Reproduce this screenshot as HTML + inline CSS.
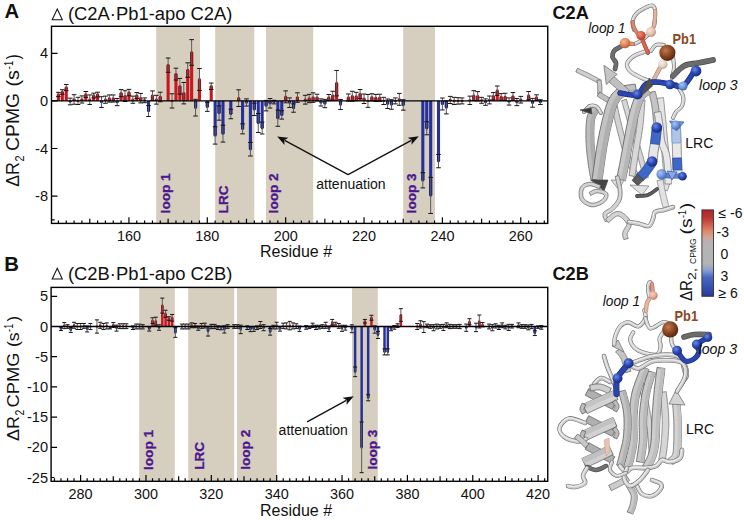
<!DOCTYPE html>
<html><head><meta charset="utf-8"><style>
html,body{margin:0;padding:0;background:#fff;}
body{width:744px;height:520px;overflow:hidden;position:relative;font-family:"Liberation Sans",sans-serif;}
text{font-family:"Liberation Sans",sans-serif;}
</style></head><body>
<svg width="744" height="520" viewBox="0 0 744 520" style="position:absolute;left:0;top:0">
<rect x="156.2" y="26.3" width="43.8" height="197.1" fill="#d6cebe"/>
<rect x="215.2" y="26.3" width="39.1" height="197.1" fill="#d6cebe"/>
<rect x="266" y="26.3" width="47.2" height="197.1" fill="#d6cebe"/>
<rect x="403.2" y="26.3" width="31.8" height="197.1" fill="#d6cebe"/>
<rect x="139.2" y="287.4" width="35.6" height="193.9" fill="#d6cebe"/>
<rect x="188.2" y="287.4" width="46" height="193.9" fill="#d6cebe"/>
<rect x="237" y="287.4" width="39.8" height="193.9" fill="#d6cebe"/>
<rect x="352" y="287.4" width="25.8" height="193.9" fill="#d6cebe"/>
<rect x="56.85" y="94.47" width="3.1" height="6.43" fill="#c9171f"/>
<rect x="56.85" y="94.47" width="3.1" height="2.14" fill="#9a1018"/>
<rect x="57.15" y="93.47" width="2.5" height="2.0" fill="#9a1018"/>
<rect x="60.77" y="91.98" width="3.1" height="8.92" fill="#c9171f"/>
<rect x="60.77" y="91.98" width="3.1" height="2.26" fill="#9a1018"/>
<rect x="61.07" y="90.98" width="2.5" height="2.0" fill="#9a1018"/>
<rect x="64.69" y="87.57" width="3.1" height="13.33" fill="#c9171f"/>
<rect x="64.69" y="87.57" width="3.1" height="3.09" fill="#9a1018"/>
<rect x="64.99" y="86.57" width="2.5" height="2.0" fill="#9a1018"/>
<rect x="68.61" y="101.2" width="3.1" height="0.6" fill="#27309a"/>
<rect x="68.61" y="100.9" width="3.1" height="0.59" fill="#1d2578"/>
<rect x="68.91" y="100.5" width="2.5" height="2.0" fill="#1d2578"/>
<rect x="72.53" y="99.47" width="3.1" height="1.43" fill="#c9171f"/>
<rect x="72.53" y="99.47" width="3.1" height="1.43" fill="#9a1018"/>
<rect x="72.83" y="98.47" width="2.5" height="2.0" fill="#9a1018"/>
<rect x="76.44" y="100.6" width="3.1" height="0.6" fill="#c9171f"/>
<rect x="76.74" y="99.9" width="2.5" height="2.0" fill="#9a1018"/>
<rect x="80.36" y="99.47" width="3.1" height="1.43" fill="#c9171f"/>
<rect x="80.36" y="99.47" width="3.1" height="1.43" fill="#9a1018"/>
<rect x="80.66" y="98.47" width="2.5" height="2.0" fill="#9a1018"/>
<rect x="84.28" y="94.47" width="3.1" height="6.43" fill="#c9171f"/>
<rect x="84.28" y="94.47" width="3.1" height="2.98" fill="#9a1018"/>
<rect x="84.58" y="93.47" width="2.5" height="2.0" fill="#9a1018"/>
<rect x="88.2" y="99.71" width="3.1" height="1.19" fill="#c9171f"/>
<rect x="88.2" y="99.71" width="3.1" height="1.19" fill="#9a1018"/>
<rect x="88.5" y="98.71" width="2.5" height="2.0" fill="#9a1018"/>
<rect x="92.12" y="95.55" width="3.1" height="5.36" fill="#c9171f"/>
<rect x="92.12" y="95.55" width="3.1" height="2.38" fill="#9a1018"/>
<rect x="92.42" y="94.55" width="2.5" height="2.0" fill="#9a1018"/>
<rect x="96.04" y="94.59" width="3.1" height="6.31" fill="#c9171f"/>
<rect x="96.04" y="94.59" width="3.1" height="2.38" fill="#9a1018"/>
<rect x="96.34" y="93.59" width="2.5" height="2.0" fill="#9a1018"/>
<rect x="99.96" y="100.9" width="3.1" height="1.19" fill="#27309a"/>
<rect x="99.96" y="100.9" width="3.1" height="1.19" fill="#1d2578"/>
<rect x="100.26" y="101.09" width="2.5" height="2.0" fill="#1d2578"/>
<rect x="103.87" y="99.71" width="3.1" height="1.19" fill="#c9171f"/>
<rect x="103.87" y="99.71" width="3.1" height="1.19" fill="#9a1018"/>
<rect x="104.17" y="98.71" width="2.5" height="2.0" fill="#9a1018"/>
<rect x="107.79" y="98.52" width="3.1" height="2.38" fill="#c9171f"/>
<rect x="107.79" y="98.52" width="3.1" height="2.38" fill="#9a1018"/>
<rect x="108.09" y="97.52" width="2.5" height="2.0" fill="#9a1018"/>
<rect x="111.71" y="98.52" width="3.1" height="2.38" fill="#c9171f"/>
<rect x="111.71" y="98.52" width="3.1" height="2.38" fill="#9a1018"/>
<rect x="112.01" y="97.52" width="2.5" height="2.0" fill="#9a1018"/>
<rect x="115.63" y="100.9" width="3.1" height="1.19" fill="#27309a"/>
<rect x="115.63" y="100.9" width="3.1" height="1.19" fill="#1d2578"/>
<rect x="115.93" y="101.09" width="2.5" height="2.0" fill="#1d2578"/>
<rect x="119.55" y="93.17" width="3.1" height="7.73" fill="#c9171f"/>
<rect x="119.55" y="93.17" width="3.1" height="3.57" fill="#9a1018"/>
<rect x="119.85" y="92.17" width="2.5" height="2.0" fill="#9a1018"/>
<rect x="123.47" y="96.14" width="3.1" height="4.76" fill="#c9171f"/>
<rect x="123.47" y="96.14" width="3.1" height="4.76" fill="#9a1018"/>
<rect x="123.77" y="95.14" width="2.5" height="2.0" fill="#9a1018"/>
<rect x="127.39" y="92.57" width="3.1" height="8.33" fill="#c9171f"/>
<rect x="127.39" y="92.57" width="3.1" height="3.21" fill="#9a1018"/>
<rect x="127.69" y="91.57" width="2.5" height="2.0" fill="#9a1018"/>
<rect x="131.3" y="99.71" width="3.1" height="1.19" fill="#c9171f"/>
<rect x="131.3" y="99.71" width="3.1" height="1.19" fill="#9a1018"/>
<rect x="131.6" y="98.71" width="2.5" height="2.0" fill="#9a1018"/>
<rect x="135.22" y="95.55" width="3.1" height="5.36" fill="#c9171f"/>
<rect x="135.22" y="95.55" width="3.1" height="2.98" fill="#9a1018"/>
<rect x="135.52" y="94.55" width="2.5" height="2.0" fill="#9a1018"/>
<rect x="139.14" y="98.16" width="3.1" height="2.74" fill="#c9171f"/>
<rect x="139.14" y="98.16" width="3.1" height="2.74" fill="#9a1018"/>
<rect x="139.44" y="97.16" width="2.5" height="2.0" fill="#9a1018"/>
<rect x="143.06" y="100.01" width="3.1" height="0.6" fill="#c9171f"/>
<rect x="143.06" y="100.31" width="3.1" height="0.59" fill="#9a1018"/>
<rect x="143.36" y="99.31" width="2.5" height="2.0" fill="#9a1018"/>
<rect x="146.98" y="100.9" width="3.1" height="10.11" fill="#27309a"/>
<rect x="146.98" y="105.54" width="3.1" height="5.47" fill="#1d2578"/>
<rect x="147.28" y="110.02" width="2.5" height="2.0" fill="#1d2578"/>
<rect x="150.9" y="95.66" width="3.1" height="5.24" fill="#c9171f"/>
<rect x="150.9" y="95.66" width="3.1" height="4.76" fill="#9a1018"/>
<rect x="151.2" y="94.66" width="2.5" height="2.0" fill="#9a1018"/>
<rect x="154.81" y="99.71" width="3.1" height="1.19" fill="#c9171f"/>
<rect x="154.81" y="99.71" width="3.1" height="1.19" fill="#9a1018"/>
<rect x="155.11" y="98.71" width="2.5" height="2.0" fill="#9a1018"/>
<rect x="158.73" y="96.97" width="3.1" height="3.93" fill="#c9171f"/>
<rect x="158.73" y="96.97" width="3.1" height="3.93" fill="#9a1018"/>
<rect x="159.03" y="95.97" width="2.5" height="2.0" fill="#9a1018"/>
<rect x="166.57" y="65.2" width="3.1" height="35.7" fill="#c9171f"/>
<rect x="166.57" y="65.2" width="3.1" height="7.14" fill="#9a1018"/>
<rect x="166.87" y="64.2" width="2.5" height="2.0" fill="#9a1018"/>
<rect x="170.49" y="100.6" width="3.1" height="0.6" fill="#c9171f"/>
<rect x="170.79" y="99.9" width="2.5" height="2.0" fill="#9a1018"/>
<rect x="174.41" y="74.12" width="3.1" height="26.78" fill="#c9171f"/>
<rect x="174.41" y="74.12" width="3.1" height="5.95" fill="#9a1018"/>
<rect x="174.71" y="73.12" width="2.5" height="2.0" fill="#9a1018"/>
<rect x="178.33" y="86.26" width="3.1" height="14.64" fill="#c9171f"/>
<rect x="178.33" y="86.26" width="3.1" height="7.85" fill="#9a1018"/>
<rect x="178.63" y="85.26" width="2.5" height="2.0" fill="#9a1018"/>
<rect x="182.24" y="93.17" width="3.1" height="7.73" fill="#c9171f"/>
<rect x="182.24" y="93.17" width="3.1" height="7.73" fill="#9a1018"/>
<rect x="182.54" y="92.17" width="2.5" height="2.0" fill="#9a1018"/>
<rect x="186.16" y="70.08" width="3.1" height="30.82" fill="#c9171f"/>
<rect x="186.16" y="70.08" width="3.1" height="7.26" fill="#9a1018"/>
<rect x="186.46" y="69.08" width="2.5" height="2.0" fill="#9a1018"/>
<rect x="190.08" y="52.47" width="3.1" height="48.43" fill="#c9171f"/>
<rect x="190.08" y="52.47" width="3.1" height="12.85" fill="#9a1018"/>
<rect x="190.38" y="51.47" width="2.5" height="2.0" fill="#9a1018"/>
<rect x="194" y="100.9" width="3.1" height="6.78" fill="#27309a"/>
<rect x="194" y="100.9" width="3.1" height="6.78" fill="#1d2578"/>
<rect x="194.3" y="106.68" width="2.5" height="2.0" fill="#1d2578"/>
<rect x="197.92" y="79.48" width="3.1" height="21.42" fill="#c9171f"/>
<rect x="197.92" y="79.48" width="3.1" height="10.95" fill="#9a1018"/>
<rect x="198.22" y="78.48" width="2.5" height="2.0" fill="#9a1018"/>
<rect x="205.75" y="100.9" width="3.1" height="5.95" fill="#27309a"/>
<rect x="205.75" y="102.33" width="3.1" height="4.52" fill="#1d2578"/>
<rect x="206.06" y="105.85" width="2.5" height="2.0" fill="#1d2578"/>
<rect x="209.67" y="86.26" width="3.1" height="14.64" fill="#c9171f"/>
<rect x="209.67" y="86.26" width="3.1" height="3.21" fill="#9a1018"/>
<rect x="209.97" y="85.26" width="2.5" height="2.0" fill="#9a1018"/>
<rect x="213.59" y="100.9" width="3.1" height="34.51" fill="#27309a"/>
<rect x="213.59" y="126.72" width="3.1" height="8.69" fill="#1d2578"/>
<rect x="213.89" y="134.41" width="2.5" height="2.0" fill="#1d2578"/>
<rect x="217.51" y="100.9" width="3.1" height="12.14" fill="#27309a"/>
<rect x="217.51" y="105.9" width="3.1" height="7.14" fill="#1d2578"/>
<rect x="217.81" y="112.04" width="2.5" height="2.0" fill="#1d2578"/>
<rect x="221.43" y="100.9" width="3.1" height="32.72" fill="#27309a"/>
<rect x="221.43" y="125.18" width="3.1" height="8.45" fill="#1d2578"/>
<rect x="221.73" y="132.62" width="2.5" height="2.0" fill="#1d2578"/>
<rect x="229.27" y="100.9" width="3.1" height="13.09" fill="#27309a"/>
<rect x="229.27" y="109.23" width="3.1" height="4.76" fill="#1d2578"/>
<rect x="229.57" y="112.99" width="2.5" height="2.0" fill="#1d2578"/>
<rect x="237.1" y="98.16" width="3.1" height="2.74" fill="#c9171f"/>
<rect x="237.1" y="98.16" width="3.1" height="2.74" fill="#9a1018"/>
<rect x="237.4" y="97.16" width="2.5" height="2.0" fill="#9a1018"/>
<rect x="241.02" y="100.9" width="3.1" height="27.97" fill="#27309a"/>
<rect x="241.02" y="123.87" width="3.1" height="5" fill="#1d2578"/>
<rect x="241.32" y="127.87" width="2.5" height="2.0" fill="#1d2578"/>
<rect x="244.94" y="100.9" width="3.1" height="1.55" fill="#27309a"/>
<rect x="244.94" y="100.9" width="3.1" height="1.55" fill="#1d2578"/>
<rect x="245.24" y="101.45" width="2.5" height="2.0" fill="#1d2578"/>
<rect x="248.86" y="100.9" width="3.1" height="48.31" fill="#27309a"/>
<rect x="248.86" y="142.43" width="3.1" height="6.78" fill="#1d2578"/>
<rect x="249.16" y="148.21" width="2.5" height="2.0" fill="#1d2578"/>
<rect x="252.78" y="100.9" width="3.1" height="8.45" fill="#27309a"/>
<rect x="252.78" y="103.16" width="3.1" height="6.19" fill="#1d2578"/>
<rect x="253.08" y="108.35" width="2.5" height="2.0" fill="#1d2578"/>
<rect x="256.7" y="100.9" width="3.1" height="22.13" fill="#27309a"/>
<rect x="256.7" y="113.51" width="3.1" height="9.52" fill="#1d2578"/>
<rect x="257" y="122.03" width="2.5" height="2.0" fill="#1d2578"/>
<rect x="260.61" y="100.9" width="3.1" height="27.13" fill="#27309a"/>
<rect x="260.61" y="122.08" width="3.1" height="5.95" fill="#1d2578"/>
<rect x="260.91" y="127.03" width="2.5" height="2.0" fill="#1d2578"/>
<rect x="264.53" y="100.9" width="3.1" height="4.76" fill="#27309a"/>
<rect x="264.53" y="100.9" width="3.1" height="4.76" fill="#1d2578"/>
<rect x="264.83" y="104.66" width="2.5" height="2.0" fill="#1d2578"/>
<rect x="268.45" y="100.9" width="3.1" height="2.38" fill="#27309a"/>
<rect x="268.45" y="100.9" width="3.1" height="2.38" fill="#1d2578"/>
<rect x="268.75" y="102.28" width="2.5" height="2.0" fill="#1d2578"/>
<rect x="272.37" y="100.9" width="3.1" height="1.19" fill="#27309a"/>
<rect x="272.37" y="100.9" width="3.1" height="1.19" fill="#1d2578"/>
<rect x="272.67" y="101.09" width="2.5" height="2.0" fill="#1d2578"/>
<rect x="276.29" y="100.9" width="3.1" height="17.25" fill="#27309a"/>
<rect x="276.29" y="110.06" width="3.1" height="8.09" fill="#1d2578"/>
<rect x="276.59" y="117.16" width="2.5" height="2.0" fill="#1d2578"/>
<rect x="280.21" y="100.9" width="3.1" height="14.04" fill="#27309a"/>
<rect x="280.21" y="110.78" width="3.1" height="4.17" fill="#1d2578"/>
<rect x="280.51" y="113.94" width="2.5" height="2.0" fill="#1d2578"/>
<rect x="284.12" y="96.85" width="3.1" height="4.05" fill="#c9171f"/>
<rect x="284.12" y="96.85" width="3.1" height="4.05" fill="#9a1018"/>
<rect x="284.42" y="95.85" width="2.5" height="2.0" fill="#9a1018"/>
<rect x="288.04" y="100.9" width="3.1" height="1.78" fill="#27309a"/>
<rect x="288.04" y="100.9" width="3.1" height="1.78" fill="#1d2578"/>
<rect x="288.34" y="101.69" width="2.5" height="2.0" fill="#1d2578"/>
<rect x="291.96" y="100.9" width="3.1" height="7.14" fill="#27309a"/>
<rect x="291.96" y="103.88" width="3.1" height="4.17" fill="#1d2578"/>
<rect x="292.26" y="107.04" width="2.5" height="2.0" fill="#1d2578"/>
<rect x="295.88" y="97.57" width="3.1" height="3.33" fill="#c9171f"/>
<rect x="295.88" y="97.57" width="3.1" height="3.33" fill="#9a1018"/>
<rect x="296.18" y="96.57" width="2.5" height="2.0" fill="#9a1018"/>
<rect x="303.72" y="99.71" width="3.1" height="1.19" fill="#c9171f"/>
<rect x="303.72" y="99.71" width="3.1" height="1.19" fill="#9a1018"/>
<rect x="304.02" y="98.71" width="2.5" height="2.0" fill="#9a1018"/>
<rect x="307.64" y="98.52" width="3.1" height="2.38" fill="#c9171f"/>
<rect x="307.64" y="98.52" width="3.1" height="2.38" fill="#9a1018"/>
<rect x="307.94" y="97.52" width="2.5" height="2.0" fill="#9a1018"/>
<rect x="311.55" y="97.57" width="3.1" height="3.33" fill="#c9171f"/>
<rect x="311.55" y="97.57" width="3.1" height="3.33" fill="#9a1018"/>
<rect x="311.85" y="96.57" width="2.5" height="2.0" fill="#9a1018"/>
<rect x="315.47" y="97.57" width="3.1" height="3.33" fill="#c9171f"/>
<rect x="315.47" y="97.57" width="3.1" height="3.33" fill="#9a1018"/>
<rect x="315.77" y="96.57" width="2.5" height="2.0" fill="#9a1018"/>
<rect x="319.39" y="100.9" width="3.1" height="1.55" fill="#27309a"/>
<rect x="319.39" y="100.9" width="3.1" height="1.55" fill="#1d2578"/>
<rect x="319.69" y="101.45" width="2.5" height="2.0" fill="#1d2578"/>
<rect x="323.31" y="100.9" width="3.1" height="2.62" fill="#27309a"/>
<rect x="323.31" y="100.9" width="3.1" height="2.62" fill="#1d2578"/>
<rect x="323.61" y="102.52" width="2.5" height="2.0" fill="#1d2578"/>
<rect x="327.23" y="97.57" width="3.1" height="3.33" fill="#c9171f"/>
<rect x="327.23" y="97.57" width="3.1" height="3.09" fill="#9a1018"/>
<rect x="327.53" y="96.57" width="2.5" height="2.0" fill="#9a1018"/>
<rect x="331.15" y="95.66" width="3.1" height="5.24" fill="#c9171f"/>
<rect x="331.15" y="95.66" width="3.1" height="4.4" fill="#9a1018"/>
<rect x="331.45" y="94.66" width="2.5" height="2.0" fill="#9a1018"/>
<rect x="335.07" y="83.17" width="3.1" height="17.73" fill="#c9171f"/>
<rect x="335.07" y="83.17" width="3.1" height="12.73" fill="#9a1018"/>
<rect x="335.37" y="82.17" width="2.5" height="2.0" fill="#9a1018"/>
<rect x="338.98" y="100.9" width="3.1" height="3.57" fill="#27309a"/>
<rect x="338.98" y="100.9" width="3.1" height="3.57" fill="#1d2578"/>
<rect x="339.28" y="103.47" width="2.5" height="2.0" fill="#1d2578"/>
<rect x="346.82" y="97.57" width="3.1" height="3.33" fill="#c9171f"/>
<rect x="346.82" y="97.57" width="3.1" height="3.33" fill="#9a1018"/>
<rect x="347.12" y="96.57" width="2.5" height="2.0" fill="#9a1018"/>
<rect x="350.74" y="96.26" width="3.1" height="4.64" fill="#c9171f"/>
<rect x="350.74" y="96.26" width="3.1" height="4.64" fill="#9a1018"/>
<rect x="351.04" y="95.26" width="2.5" height="2.0" fill="#9a1018"/>
<rect x="354.66" y="96.5" width="3.1" height="4.4" fill="#c9171f"/>
<rect x="354.66" y="96.5" width="3.1" height="4.17" fill="#9a1018"/>
<rect x="354.96" y="95.5" width="2.5" height="2.0" fill="#9a1018"/>
<rect x="358.58" y="94" width="3.1" height="6.9" fill="#c9171f"/>
<rect x="358.58" y="94" width="3.1" height="4.52" fill="#9a1018"/>
<rect x="358.88" y="93" width="2.5" height="2.0" fill="#9a1018"/>
<rect x="362.5" y="98.76" width="3.1" height="2.14" fill="#c9171f"/>
<rect x="362.5" y="98.76" width="3.1" height="2.14" fill="#9a1018"/>
<rect x="362.8" y="97.76" width="2.5" height="2.0" fill="#9a1018"/>
<rect x="366.41" y="100.6" width="3.1" height="0.6" fill="#c9171f"/>
<rect x="366.71" y="99.9" width="2.5" height="2.0" fill="#9a1018"/>
<rect x="370.33" y="97.33" width="3.1" height="3.57" fill="#c9171f"/>
<rect x="370.33" y="97.33" width="3.1" height="3.57" fill="#9a1018"/>
<rect x="370.63" y="96.33" width="2.5" height="2.0" fill="#9a1018"/>
<rect x="374.25" y="97.93" width="3.1" height="2.97" fill="#c9171f"/>
<rect x="374.25" y="97.93" width="3.1" height="2.97" fill="#9a1018"/>
<rect x="374.55" y="96.93" width="2.5" height="2.0" fill="#9a1018"/>
<rect x="378.17" y="97.81" width="3.1" height="3.09" fill="#c9171f"/>
<rect x="378.17" y="97.81" width="3.1" height="3.09" fill="#9a1018"/>
<rect x="378.47" y="96.81" width="2.5" height="2.0" fill="#9a1018"/>
<rect x="382.09" y="100.6" width="3.1" height="0.6" fill="#c9171f"/>
<rect x="382.39" y="99.9" width="2.5" height="2.0" fill="#9a1018"/>
<rect x="386.01" y="100.9" width="3.1" height="2.86" fill="#27309a"/>
<rect x="386.01" y="100.9" width="3.1" height="2.86" fill="#1d2578"/>
<rect x="386.31" y="102.76" width="2.5" height="2.0" fill="#1d2578"/>
<rect x="389.92" y="100.9" width="3.1" height="3.57" fill="#27309a"/>
<rect x="389.92" y="100.9" width="3.1" height="3.57" fill="#1d2578"/>
<rect x="390.22" y="103.47" width="2.5" height="2.0" fill="#1d2578"/>
<rect x="393.84" y="100.6" width="3.1" height="0.6" fill="#c9171f"/>
<rect x="394.14" y="99.9" width="2.5" height="2.0" fill="#9a1018"/>
<rect x="397.76" y="99.35" width="3.1" height="1.55" fill="#c9171f"/>
<rect x="397.76" y="99.35" width="3.1" height="1.55" fill="#9a1018"/>
<rect x="398.06" y="98.35" width="2.5" height="2.0" fill="#9a1018"/>
<rect x="401.68" y="100.9" width="3.1" height="4.05" fill="#27309a"/>
<rect x="401.68" y="100.9" width="3.1" height="4.05" fill="#1d2578"/>
<rect x="401.98" y="103.95" width="2.5" height="2.0" fill="#1d2578"/>
<rect x="421.27" y="100.9" width="3.1" height="79.37" fill="#27309a"/>
<rect x="421.27" y="172.66" width="3.1" height="7.62" fill="#1d2578"/>
<rect x="421.57" y="179.27" width="2.5" height="2.0" fill="#1d2578"/>
<rect x="425.19" y="100.9" width="3.1" height="27.37" fill="#27309a"/>
<rect x="425.19" y="121.73" width="3.1" height="6.55" fill="#1d2578"/>
<rect x="425.49" y="127.27" width="2.5" height="2.0" fill="#1d2578"/>
<rect x="429.11" y="100.9" width="3.1" height="94.49" fill="#27309a"/>
<rect x="429.11" y="177.3" width="3.1" height="18.09" fill="#1d2578"/>
<rect x="429.41" y="194.39" width="2.5" height="2.0" fill="#1d2578"/>
<rect x="436.95" y="100.9" width="3.1" height="60.21" fill="#27309a"/>
<rect x="436.95" y="154.45" width="3.1" height="6.66" fill="#1d2578"/>
<rect x="437.25" y="160.11" width="2.5" height="2.0" fill="#1d2578"/>
<rect x="440.86" y="100.9" width="3.1" height="3.09" fill="#27309a"/>
<rect x="440.86" y="100.9" width="3.1" height="3.09" fill="#1d2578"/>
<rect x="441.16" y="102.99" width="2.5" height="2.0" fill="#1d2578"/>
<rect x="444.78" y="100.9" width="3.1" height="6.55" fill="#27309a"/>
<rect x="444.78" y="101.02" width="3.1" height="6.43" fill="#1d2578"/>
<rect x="445.08" y="106.45" width="2.5" height="2.0" fill="#1d2578"/>
<rect x="448.7" y="99.95" width="3.1" height="0.95" fill="#c9171f"/>
<rect x="448.7" y="99.95" width="3.1" height="0.95" fill="#9a1018"/>
<rect x="449" y="98.95" width="2.5" height="2.0" fill="#9a1018"/>
<rect x="452.62" y="100.6" width="3.1" height="0.6" fill="#c9171f"/>
<rect x="452.92" y="99.9" width="2.5" height="2.0" fill="#9a1018"/>
<rect x="456.54" y="100.6" width="3.1" height="0.6" fill="#c9171f"/>
<rect x="456.84" y="99.9" width="2.5" height="2.0" fill="#9a1018"/>
<rect x="460.46" y="100.6" width="3.1" height="0.6" fill="#c9171f"/>
<rect x="460.76" y="99.9" width="2.5" height="2.0" fill="#9a1018"/>
<rect x="468.29" y="100.01" width="3.1" height="0.6" fill="#c9171f"/>
<rect x="468.29" y="100.31" width="3.1" height="0.59" fill="#9a1018"/>
<rect x="468.59" y="99.31" width="2.5" height="2.0" fill="#9a1018"/>
<rect x="472.21" y="95.66" width="3.1" height="5.24" fill="#c9171f"/>
<rect x="472.21" y="95.66" width="3.1" height="5" fill="#9a1018"/>
<rect x="472.51" y="94.66" width="2.5" height="2.0" fill="#9a1018"/>
<rect x="476.13" y="96.26" width="3.1" height="4.64" fill="#c9171f"/>
<rect x="476.13" y="96.26" width="3.1" height="4.64" fill="#9a1018"/>
<rect x="476.43" y="95.26" width="2.5" height="2.0" fill="#9a1018"/>
<rect x="480.05" y="100.01" width="3.1" height="0.6" fill="#c9171f"/>
<rect x="480.05" y="100.31" width="3.1" height="0.59" fill="#9a1018"/>
<rect x="480.35" y="99.31" width="2.5" height="2.0" fill="#9a1018"/>
<rect x="483.97" y="100.9" width="3.1" height="1.19" fill="#27309a"/>
<rect x="483.97" y="100.9" width="3.1" height="1.19" fill="#1d2578"/>
<rect x="484.27" y="101.09" width="2.5" height="2.0" fill="#1d2578"/>
<rect x="487.89" y="99.95" width="3.1" height="0.95" fill="#c9171f"/>
<rect x="487.89" y="99.95" width="3.1" height="0.95" fill="#9a1018"/>
<rect x="488.19" y="98.95" width="2.5" height="2.0" fill="#9a1018"/>
<rect x="491.81" y="96.26" width="3.1" height="4.64" fill="#c9171f"/>
<rect x="491.81" y="96.26" width="3.1" height="3.69" fill="#9a1018"/>
<rect x="492.11" y="95.26" width="2.5" height="2.0" fill="#9a1018"/>
<rect x="495.72" y="90.67" width="3.1" height="10.23" fill="#c9171f"/>
<rect x="495.72" y="90.67" width="3.1" height="4.64" fill="#9a1018"/>
<rect x="496.02" y="89.67" width="2.5" height="2.0" fill="#9a1018"/>
<rect x="499.64" y="96.97" width="3.1" height="3.93" fill="#c9171f"/>
<rect x="499.64" y="96.97" width="3.1" height="3.33" fill="#9a1018"/>
<rect x="499.94" y="95.97" width="2.5" height="2.0" fill="#9a1018"/>
<rect x="503.56" y="96.97" width="3.1" height="3.93" fill="#c9171f"/>
<rect x="503.56" y="96.97" width="3.1" height="3.69" fill="#9a1018"/>
<rect x="503.86" y="95.97" width="2.5" height="2.0" fill="#9a1018"/>
<rect x="507.48" y="101.2" width="3.1" height="0.6" fill="#27309a"/>
<rect x="507.48" y="100.9" width="3.1" height="0.59" fill="#1d2578"/>
<rect x="507.78" y="100.5" width="2.5" height="2.0" fill="#1d2578"/>
<rect x="511.4" y="96.5" width="3.1" height="4.4" fill="#c9171f"/>
<rect x="511.4" y="96.5" width="3.1" height="3.93" fill="#9a1018"/>
<rect x="511.7" y="95.5" width="2.5" height="2.0" fill="#9a1018"/>
<rect x="515.32" y="100.9" width="3.1" height="1.19" fill="#27309a"/>
<rect x="515.32" y="100.9" width="3.1" height="1.19" fill="#1d2578"/>
<rect x="515.62" y="101.09" width="2.5" height="2.0" fill="#1d2578"/>
<rect x="519.24" y="99.71" width="3.1" height="1.19" fill="#c9171f"/>
<rect x="519.24" y="99.71" width="3.1" height="1.19" fill="#9a1018"/>
<rect x="519.53" y="98.71" width="2.5" height="2.0" fill="#9a1018"/>
<rect x="527.07" y="95.66" width="3.1" height="5.24" fill="#c9171f"/>
<rect x="527.07" y="95.66" width="3.1" height="4.17" fill="#9a1018"/>
<rect x="527.37" y="94.66" width="2.5" height="2.0" fill="#9a1018"/>
<rect x="530.99" y="100.9" width="3.1" height="1.9" fill="#27309a"/>
<rect x="530.99" y="100.9" width="3.1" height="1.9" fill="#1d2578"/>
<rect x="531.29" y="101.8" width="2.5" height="2.0" fill="#1d2578"/>
<rect x="534.91" y="97.57" width="3.1" height="3.33" fill="#c9171f"/>
<rect x="534.91" y="97.57" width="3.1" height="2.74" fill="#9a1018"/>
<rect x="535.21" y="96.57" width="2.5" height="2.0" fill="#9a1018"/>
<rect x="538.83" y="100.9" width="3.1" height="1.19" fill="#27309a"/>
<rect x="538.83" y="100.9" width="3.1" height="1.19" fill="#1d2578"/>
<rect x="539.13" y="101.09" width="2.5" height="2.0" fill="#1d2578"/>
<rect x="59.74" y="326.5" width="2.5" height="2.23" fill="#27309a"/>
<rect x="59.74" y="326.92" width="2.5" height="1.81" fill="#1d2578"/>
<rect x="60.04" y="327.73" width="1.9" height="2.0" fill="#1d2578"/>
<rect x="63.01" y="325.59" width="2.5" height="0.91" fill="#c9171f"/>
<rect x="63.01" y="325.59" width="2.5" height="0.91" fill="#9a1018"/>
<rect x="63.31" y="324.59" width="1.9" height="2.0" fill="#9a1018"/>
<rect x="66.28" y="326.2" width="2.5" height="0.6" fill="#c9171f"/>
<rect x="66.58" y="325.5" width="1.9" height="2.0" fill="#9a1018"/>
<rect x="69.55" y="326.5" width="2.5" height="3.5" fill="#27309a"/>
<rect x="69.55" y="327.59" width="2.5" height="2.42" fill="#1d2578"/>
<rect x="69.85" y="329" width="1.9" height="2.0" fill="#1d2578"/>
<rect x="72.81" y="325.29" width="2.5" height="1.21" fill="#c9171f"/>
<rect x="72.81" y="325.29" width="2.5" height="1.21" fill="#9a1018"/>
<rect x="73.11" y="324.29" width="1.9" height="2.0" fill="#9a1018"/>
<rect x="76.08" y="326.2" width="2.5" height="0.6" fill="#c9171f"/>
<rect x="76.38" y="325.5" width="1.9" height="2.0" fill="#9a1018"/>
<rect x="79.35" y="326.2" width="2.5" height="0.6" fill="#c9171f"/>
<rect x="79.65" y="325.5" width="1.9" height="2.0" fill="#9a1018"/>
<rect x="82.62" y="325.9" width="2.5" height="0.6" fill="#c9171f"/>
<rect x="82.62" y="325.9" width="2.5" height="0.6" fill="#9a1018"/>
<rect x="82.92" y="324.9" width="1.9" height="2.0" fill="#9a1018"/>
<rect x="85.89" y="326.5" width="2.5" height="2.42" fill="#27309a"/>
<rect x="85.89" y="326.5" width="2.5" height="2.42" fill="#1d2578"/>
<rect x="86.19" y="327.92" width="1.9" height="2.0" fill="#1d2578"/>
<rect x="89.15" y="326.2" width="2.5" height="0.6" fill="#c9171f"/>
<rect x="89.45" y="325.5" width="1.9" height="2.0" fill="#9a1018"/>
<rect x="95.69" y="326.2" width="2.5" height="0.6" fill="#c9171f"/>
<rect x="95.99" y="325.5" width="1.9" height="2.0" fill="#9a1018"/>
<rect x="98.96" y="325.29" width="2.5" height="1.21" fill="#c9171f"/>
<rect x="98.96" y="325.29" width="2.5" height="1.21" fill="#9a1018"/>
<rect x="99.26" y="324.29" width="1.9" height="2.0" fill="#9a1018"/>
<rect x="102.23" y="326.2" width="2.5" height="0.6" fill="#c9171f"/>
<rect x="102.53" y="325.5" width="1.9" height="2.0" fill="#9a1018"/>
<rect x="105.49" y="325.9" width="2.5" height="0.6" fill="#c9171f"/>
<rect x="105.49" y="325.9" width="2.5" height="0.6" fill="#9a1018"/>
<rect x="105.79" y="324.9" width="1.9" height="2.0" fill="#9a1018"/>
<rect x="108.76" y="326.5" width="2.5" height="1.21" fill="#27309a"/>
<rect x="108.76" y="326.5" width="2.5" height="1.21" fill="#1d2578"/>
<rect x="109.06" y="326.71" width="1.9" height="2.0" fill="#1d2578"/>
<rect x="112.03" y="324.99" width="2.5" height="1.51" fill="#c9171f"/>
<rect x="112.03" y="324.99" width="2.5" height="1.51" fill="#9a1018"/>
<rect x="112.33" y="323.99" width="1.9" height="2.0" fill="#9a1018"/>
<rect x="115.3" y="326.5" width="2.5" height="1.63" fill="#27309a"/>
<rect x="115.3" y="326.5" width="2.5" height="1.63" fill="#1d2578"/>
<rect x="115.6" y="327.13" width="1.9" height="2.0" fill="#1d2578"/>
<rect x="118.57" y="325.9" width="2.5" height="0.6" fill="#c9171f"/>
<rect x="118.57" y="326.2" width="2.5" height="0.3" fill="#9a1018"/>
<rect x="118.87" y="325.2" width="1.9" height="2.0" fill="#9a1018"/>
<rect x="121.83" y="325.9" width="2.5" height="0.6" fill="#c9171f"/>
<rect x="121.83" y="326.2" width="2.5" height="0.3" fill="#9a1018"/>
<rect x="122.13" y="325.2" width="1.9" height="2.0" fill="#9a1018"/>
<rect x="125.1" y="325.9" width="2.5" height="0.6" fill="#c9171f"/>
<rect x="125.1" y="326.2" width="2.5" height="0.3" fill="#9a1018"/>
<rect x="125.4" y="325.2" width="1.9" height="2.0" fill="#9a1018"/>
<rect x="131.64" y="326.5" width="2.5" height="1.21" fill="#27309a"/>
<rect x="131.64" y="326.5" width="2.5" height="1.21" fill="#1d2578"/>
<rect x="131.94" y="326.71" width="1.9" height="2.0" fill="#1d2578"/>
<rect x="134.91" y="326.2" width="2.5" height="0.6" fill="#c9171f"/>
<rect x="135.21" y="325.5" width="1.9" height="2.0" fill="#9a1018"/>
<rect x="138.17" y="326.2" width="2.5" height="0.6" fill="#c9171f"/>
<rect x="138.47" y="325.5" width="1.9" height="2.0" fill="#9a1018"/>
<rect x="141.44" y="326.5" width="2.5" height="0.6" fill="#27309a"/>
<rect x="141.44" y="326.5" width="2.5" height="0.3" fill="#1d2578"/>
<rect x="141.74" y="325.8" width="1.9" height="2.0" fill="#1d2578"/>
<rect x="147.98" y="326.5" width="2.5" height="2.48" fill="#27309a"/>
<rect x="147.98" y="326.86" width="2.5" height="2.11" fill="#1d2578"/>
<rect x="148.28" y="327.98" width="1.9" height="2.0" fill="#1d2578"/>
<rect x="151.25" y="320.64" width="2.5" height="5.86" fill="#c9171f"/>
<rect x="151.25" y="320.64" width="2.5" height="2.84" fill="#9a1018"/>
<rect x="151.55" y="319.64" width="1.9" height="2.0" fill="#9a1018"/>
<rect x="154.51" y="321.25" width="2.5" height="5.25" fill="#c9171f"/>
<rect x="154.51" y="321.25" width="2.5" height="4.05" fill="#9a1018"/>
<rect x="154.81" y="320.25" width="1.9" height="2.0" fill="#9a1018"/>
<rect x="157.78" y="326.5" width="2.5" height="1.03" fill="#27309a"/>
<rect x="157.78" y="326.5" width="2.5" height="1.03" fill="#1d2578"/>
<rect x="158.08" y="326.53" width="1.9" height="2.0" fill="#1d2578"/>
<rect x="161.05" y="305.6" width="2.5" height="20.9" fill="#c9171f"/>
<rect x="161.05" y="305.6" width="2.5" height="7.49" fill="#9a1018"/>
<rect x="161.35" y="304.6" width="1.9" height="2.0" fill="#9a1018"/>
<rect x="164.32" y="313.76" width="2.5" height="12.74" fill="#c9171f"/>
<rect x="164.32" y="313.76" width="2.5" height="3.5" fill="#9a1018"/>
<rect x="164.62" y="312.76" width="1.9" height="2.0" fill="#9a1018"/>
<rect x="167.59" y="318.53" width="2.5" height="7.97" fill="#c9171f"/>
<rect x="167.59" y="318.53" width="2.5" height="1.81" fill="#9a1018"/>
<rect x="167.89" y="317.53" width="1.9" height="2.0" fill="#9a1018"/>
<rect x="170.85" y="317.8" width="2.5" height="8.7" fill="#c9171f"/>
<rect x="170.85" y="317.8" width="2.5" height="3.32" fill="#9a1018"/>
<rect x="171.15" y="316.8" width="1.9" height="2.0" fill="#9a1018"/>
<rect x="174.12" y="326.5" width="2.5" height="6.04" fill="#27309a"/>
<rect x="174.12" y="327.71" width="2.5" height="4.83" fill="#1d2578"/>
<rect x="174.42" y="331.54" width="1.9" height="2.0" fill="#1d2578"/>
<rect x="180.66" y="326.2" width="2.5" height="0.6" fill="#c9171f"/>
<rect x="180.96" y="325.5" width="1.9" height="2.0" fill="#9a1018"/>
<rect x="183.93" y="326.2" width="2.5" height="0.6" fill="#c9171f"/>
<rect x="184.23" y="325.5" width="1.9" height="2.0" fill="#9a1018"/>
<rect x="187.19" y="326.2" width="2.5" height="0.6" fill="#c9171f"/>
<rect x="187.49" y="325.5" width="1.9" height="2.0" fill="#9a1018"/>
<rect x="190.46" y="325.29" width="2.5" height="1.21" fill="#c9171f"/>
<rect x="190.46" y="325.29" width="2.5" height="1.21" fill="#9a1018"/>
<rect x="190.76" y="324.29" width="1.9" height="2.0" fill="#9a1018"/>
<rect x="193.73" y="325.59" width="2.5" height="0.91" fill="#c9171f"/>
<rect x="193.73" y="325.59" width="2.5" height="0.91" fill="#9a1018"/>
<rect x="194.03" y="324.59" width="1.9" height="2.0" fill="#9a1018"/>
<rect x="197" y="326.5" width="2.5" height="1.63" fill="#27309a"/>
<rect x="197" y="326.5" width="2.5" height="1.63" fill="#1d2578"/>
<rect x="197.3" y="327.13" width="1.9" height="2.0" fill="#1d2578"/>
<rect x="200.27" y="325.9" width="2.5" height="0.6" fill="#c9171f"/>
<rect x="200.27" y="325.9" width="2.5" height="0.6" fill="#9a1018"/>
<rect x="200.57" y="324.9" width="1.9" height="2.0" fill="#9a1018"/>
<rect x="203.53" y="325.59" width="2.5" height="0.91" fill="#c9171f"/>
<rect x="203.53" y="325.59" width="2.5" height="0.91" fill="#9a1018"/>
<rect x="203.83" y="324.59" width="1.9" height="2.0" fill="#9a1018"/>
<rect x="206.8" y="326.5" width="2.5" height="4.71" fill="#27309a"/>
<rect x="206.8" y="326.5" width="2.5" height="4.71" fill="#1d2578"/>
<rect x="207.1" y="330.21" width="1.9" height="2.0" fill="#1d2578"/>
<rect x="210.07" y="326.2" width="2.5" height="0.6" fill="#c9171f"/>
<rect x="210.37" y="325.5" width="1.9" height="2.0" fill="#9a1018"/>
<rect x="213.34" y="326.2" width="2.5" height="0.6" fill="#c9171f"/>
<rect x="213.64" y="325.5" width="1.9" height="2.0" fill="#9a1018"/>
<rect x="216.61" y="326.5" width="2.5" height="1.21" fill="#27309a"/>
<rect x="216.61" y="326.5" width="2.5" height="1.21" fill="#1d2578"/>
<rect x="216.91" y="326.71" width="1.9" height="2.0" fill="#1d2578"/>
<rect x="219.87" y="326.5" width="2.5" height="1.51" fill="#27309a"/>
<rect x="219.87" y="326.5" width="2.5" height="1.51" fill="#1d2578"/>
<rect x="220.17" y="327.01" width="1.9" height="2.0" fill="#1d2578"/>
<rect x="223.14" y="326.5" width="2.5" height="2.9" fill="#27309a"/>
<rect x="223.14" y="326.5" width="2.5" height="2.9" fill="#1d2578"/>
<rect x="223.44" y="328.4" width="1.9" height="2.0" fill="#1d2578"/>
<rect x="226.41" y="326.2" width="2.5" height="0.6" fill="#c9171f"/>
<rect x="226.71" y="325.5" width="1.9" height="2.0" fill="#9a1018"/>
<rect x="232.95" y="326.2" width="2.5" height="0.6" fill="#c9171f"/>
<rect x="233.25" y="325.5" width="1.9" height="2.0" fill="#9a1018"/>
<rect x="236.21" y="326.2" width="2.5" height="0.6" fill="#c9171f"/>
<rect x="236.51" y="325.5" width="1.9" height="2.0" fill="#9a1018"/>
<rect x="239.48" y="326.5" width="2.5" height="2.9" fill="#27309a"/>
<rect x="239.48" y="326.5" width="2.5" height="2.9" fill="#1d2578"/>
<rect x="239.78" y="328.4" width="1.9" height="2.0" fill="#1d2578"/>
<rect x="246.02" y="326.5" width="2.5" height="1.21" fill="#27309a"/>
<rect x="246.02" y="326.5" width="2.5" height="1.21" fill="#1d2578"/>
<rect x="246.32" y="326.71" width="1.9" height="2.0" fill="#1d2578"/>
<rect x="249.29" y="326.5" width="2.5" height="2.72" fill="#27309a"/>
<rect x="249.29" y="326.8" width="2.5" height="2.42" fill="#1d2578"/>
<rect x="249.59" y="328.22" width="1.9" height="2.0" fill="#1d2578"/>
<rect x="252.55" y="326.5" width="2.5" height="2.42" fill="#27309a"/>
<rect x="252.55" y="326.5" width="2.5" height="2.42" fill="#1d2578"/>
<rect x="252.85" y="327.92" width="1.9" height="2.0" fill="#1d2578"/>
<rect x="255.82" y="326.5" width="2.5" height="1.21" fill="#27309a"/>
<rect x="255.82" y="326.5" width="2.5" height="1.21" fill="#1d2578"/>
<rect x="256.12" y="326.71" width="1.9" height="2.0" fill="#1d2578"/>
<rect x="259.09" y="324.99" width="2.5" height="1.51" fill="#c9171f"/>
<rect x="259.09" y="324.99" width="2.5" height="1.51" fill="#9a1018"/>
<rect x="259.39" y="323.99" width="1.9" height="2.0" fill="#9a1018"/>
<rect x="262.36" y="326.5" width="2.5" height="1.21" fill="#27309a"/>
<rect x="262.36" y="326.5" width="2.5" height="1.21" fill="#1d2578"/>
<rect x="262.66" y="326.71" width="1.9" height="2.0" fill="#1d2578"/>
<rect x="268.89" y="326.5" width="2.5" height="5.32" fill="#27309a"/>
<rect x="268.89" y="328.49" width="2.5" height="3.32" fill="#1d2578"/>
<rect x="269.19" y="330.82" width="1.9" height="2.0" fill="#1d2578"/>
<rect x="272.16" y="326.5" width="2.5" height="0.6" fill="#27309a"/>
<rect x="272.16" y="326.5" width="2.5" height="0.6" fill="#1d2578"/>
<rect x="272.46" y="326.1" width="1.9" height="2.0" fill="#1d2578"/>
<rect x="275.43" y="325.59" width="2.5" height="0.91" fill="#c9171f"/>
<rect x="275.43" y="325.59" width="2.5" height="0.91" fill="#9a1018"/>
<rect x="275.73" y="324.59" width="1.9" height="2.0" fill="#9a1018"/>
<rect x="278.7" y="326.5" width="2.5" height="2.23" fill="#27309a"/>
<rect x="278.7" y="326.5" width="2.5" height="2.23" fill="#1d2578"/>
<rect x="279" y="327.73" width="1.9" height="2.0" fill="#1d2578"/>
<rect x="281.97" y="325.9" width="2.5" height="0.6" fill="#c9171f"/>
<rect x="281.97" y="325.9" width="2.5" height="0.6" fill="#9a1018"/>
<rect x="282.27" y="324.9" width="1.9" height="2.0" fill="#9a1018"/>
<rect x="285.23" y="325.9" width="2.5" height="0.6" fill="#c9171f"/>
<rect x="285.23" y="325.9" width="2.5" height="0.6" fill="#9a1018"/>
<rect x="285.53" y="324.9" width="1.9" height="2.0" fill="#9a1018"/>
<rect x="288.5" y="325.59" width="2.5" height="0.91" fill="#c9171f"/>
<rect x="288.5" y="325.59" width="2.5" height="0.91" fill="#9a1018"/>
<rect x="288.8" y="324.59" width="1.9" height="2.0" fill="#9a1018"/>
<rect x="291.77" y="325.9" width="2.5" height="0.6" fill="#c9171f"/>
<rect x="291.77" y="325.9" width="2.5" height="0.6" fill="#9a1018"/>
<rect x="292.07" y="324.9" width="1.9" height="2.0" fill="#9a1018"/>
<rect x="295.04" y="325.9" width="2.5" height="0.6" fill="#c9171f"/>
<rect x="295.04" y="326.2" width="2.5" height="0.3" fill="#9a1018"/>
<rect x="295.34" y="325.2" width="1.9" height="2.0" fill="#9a1018"/>
<rect x="298.31" y="326.5" width="2.5" height="2.23" fill="#27309a"/>
<rect x="298.31" y="326.5" width="2.5" height="2.23" fill="#1d2578"/>
<rect x="298.61" y="327.73" width="1.9" height="2.0" fill="#1d2578"/>
<rect x="304.84" y="326.5" width="2.5" height="0.91" fill="#27309a"/>
<rect x="304.84" y="326.5" width="2.5" height="0.91" fill="#1d2578"/>
<rect x="305.14" y="326.41" width="1.9" height="2.0" fill="#1d2578"/>
<rect x="308.11" y="326.5" width="2.5" height="0.91" fill="#27309a"/>
<rect x="308.11" y="326.5" width="2.5" height="0.91" fill="#1d2578"/>
<rect x="308.41" y="326.41" width="1.9" height="2.0" fill="#1d2578"/>
<rect x="311.38" y="325.29" width="2.5" height="1.21" fill="#c9171f"/>
<rect x="311.38" y="325.29" width="2.5" height="1.21" fill="#9a1018"/>
<rect x="311.68" y="324.29" width="1.9" height="2.0" fill="#9a1018"/>
<rect x="314.65" y="326.5" width="2.5" height="0.91" fill="#27309a"/>
<rect x="314.65" y="326.5" width="2.5" height="0.91" fill="#1d2578"/>
<rect x="314.95" y="326.41" width="1.9" height="2.0" fill="#1d2578"/>
<rect x="317.91" y="326.5" width="2.5" height="0.6" fill="#27309a"/>
<rect x="317.91" y="326.5" width="2.5" height="0.6" fill="#1d2578"/>
<rect x="318.21" y="326.1" width="1.9" height="2.0" fill="#1d2578"/>
<rect x="321.18" y="326.2" width="2.5" height="0.6" fill="#c9171f"/>
<rect x="321.48" y="325.5" width="1.9" height="2.0" fill="#9a1018"/>
<rect x="324.45" y="325.29" width="2.5" height="1.21" fill="#c9171f"/>
<rect x="324.45" y="325.29" width="2.5" height="1.21" fill="#9a1018"/>
<rect x="324.75" y="324.29" width="1.9" height="2.0" fill="#9a1018"/>
<rect x="327.72" y="326.5" width="2.5" height="2.23" fill="#27309a"/>
<rect x="327.72" y="326.5" width="2.5" height="2.23" fill="#1d2578"/>
<rect x="328.02" y="327.73" width="1.9" height="2.0" fill="#1d2578"/>
<rect x="330.99" y="322.27" width="2.5" height="4.23" fill="#c9171f"/>
<rect x="330.99" y="322.27" width="2.5" height="2.84" fill="#9a1018"/>
<rect x="331.29" y="321.27" width="1.9" height="2.0" fill="#9a1018"/>
<rect x="334.25" y="324.39" width="2.5" height="2.11" fill="#c9171f"/>
<rect x="334.25" y="324.39" width="2.5" height="2.11" fill="#9a1018"/>
<rect x="334.55" y="323.39" width="1.9" height="2.0" fill="#9a1018"/>
<rect x="337.52" y="325.9" width="2.5" height="0.6" fill="#c9171f"/>
<rect x="337.52" y="325.9" width="2.5" height="0.6" fill="#9a1018"/>
<rect x="337.82" y="324.9" width="1.9" height="2.0" fill="#9a1018"/>
<rect x="340.79" y="326.5" width="2.5" height="1.81" fill="#27309a"/>
<rect x="340.79" y="326.5" width="2.5" height="1.81" fill="#1d2578"/>
<rect x="341.09" y="327.31" width="1.9" height="2.0" fill="#1d2578"/>
<rect x="344.06" y="326.5" width="2.5" height="1.21" fill="#27309a"/>
<rect x="344.06" y="326.5" width="2.5" height="1.21" fill="#1d2578"/>
<rect x="344.36" y="326.71" width="1.9" height="2.0" fill="#1d2578"/>
<rect x="350.59" y="326.5" width="2.5" height="2.23" fill="#27309a"/>
<rect x="350.59" y="326.5" width="2.5" height="2.23" fill="#1d2578"/>
<rect x="350.89" y="327.73" width="1.9" height="2.0" fill="#1d2578"/>
<rect x="353.86" y="326.5" width="2.5" height="45.3" fill="#27309a"/>
<rect x="353.86" y="366.97" width="2.5" height="4.83" fill="#1d2578"/>
<rect x="354.16" y="370.8" width="1.9" height="2.0" fill="#1d2578"/>
<rect x="360.4" y="326.5" width="2.5" height="120.8" fill="#27309a"/>
<rect x="360.4" y="421.93" width="2.5" height="25.37" fill="#1d2578"/>
<rect x="360.7" y="446.3" width="1.9" height="2.0" fill="#1d2578"/>
<rect x="363.67" y="321.25" width="2.5" height="5.25" fill="#c9171f"/>
<rect x="363.67" y="321.25" width="2.5" height="1.81" fill="#9a1018"/>
<rect x="363.97" y="320.25" width="1.9" height="2.0" fill="#9a1018"/>
<rect x="366.93" y="326.5" width="2.5" height="71.27" fill="#27309a"/>
<rect x="366.93" y="394.75" width="2.5" height="3.02" fill="#1d2578"/>
<rect x="367.23" y="396.77" width="1.9" height="2.0" fill="#1d2578"/>
<rect x="370.2" y="317.74" width="2.5" height="8.76" fill="#c9171f"/>
<rect x="370.2" y="317.74" width="2.5" height="2.48" fill="#9a1018"/>
<rect x="370.5" y="316.74" width="1.9" height="2.0" fill="#9a1018"/>
<rect x="373.47" y="326.5" width="2.5" height="3.02" fill="#27309a"/>
<rect x="373.47" y="326.5" width="2.5" height="3.02" fill="#1d2578"/>
<rect x="373.77" y="328.52" width="1.9" height="2.0" fill="#1d2578"/>
<rect x="376.74" y="326.5" width="2.5" height="8.46" fill="#27309a"/>
<rect x="376.74" y="331.45" width="2.5" height="3.5" fill="#1d2578"/>
<rect x="377.04" y="333.96" width="1.9" height="2.0" fill="#1d2578"/>
<rect x="383.27" y="326.5" width="2.5" height="25.37" fill="#27309a"/>
<rect x="383.27" y="348.85" width="2.5" height="3.02" fill="#1d2578"/>
<rect x="383.57" y="350.87" width="1.9" height="2.0" fill="#1d2578"/>
<rect x="386.54" y="326.5" width="2.5" height="25.37" fill="#27309a"/>
<rect x="386.54" y="348.85" width="2.5" height="3.02" fill="#1d2578"/>
<rect x="386.84" y="350.87" width="1.9" height="2.0" fill="#1d2578"/>
<rect x="389.81" y="326.5" width="2.5" height="2.42" fill="#27309a"/>
<rect x="389.81" y="327.1" width="2.5" height="1.81" fill="#1d2578"/>
<rect x="390.11" y="327.92" width="1.9" height="2.0" fill="#1d2578"/>
<rect x="393.08" y="326.5" width="2.5" height="0.91" fill="#27309a"/>
<rect x="393.08" y="326.5" width="2.5" height="0.91" fill="#1d2578"/>
<rect x="393.38" y="326.41" width="1.9" height="2.0" fill="#1d2578"/>
<rect x="396.35" y="325.59" width="2.5" height="0.91" fill="#c9171f"/>
<rect x="396.35" y="325.59" width="2.5" height="0.91" fill="#9a1018"/>
<rect x="396.65" y="324.59" width="1.9" height="2.0" fill="#9a1018"/>
<rect x="399.61" y="315.02" width="2.5" height="11.48" fill="#c9171f"/>
<rect x="399.61" y="315.02" width="2.5" height="6.34" fill="#9a1018"/>
<rect x="399.91" y="314.02" width="1.9" height="2.0" fill="#9a1018"/>
<rect x="415.95" y="326.2" width="2.5" height="0.6" fill="#c9171f"/>
<rect x="416.25" y="325.5" width="1.9" height="2.0" fill="#9a1018"/>
<rect x="419.22" y="324.39" width="2.5" height="2.11" fill="#c9171f"/>
<rect x="419.22" y="324.39" width="2.5" height="2.11" fill="#9a1018"/>
<rect x="419.52" y="323.39" width="1.9" height="2.0" fill="#9a1018"/>
<rect x="422.49" y="326.5" width="2.5" height="0.6" fill="#27309a"/>
<rect x="422.49" y="326.5" width="2.5" height="0.6" fill="#1d2578"/>
<rect x="422.79" y="326.1" width="1.9" height="2.0" fill="#1d2578"/>
<rect x="425.76" y="325.9" width="2.5" height="0.6" fill="#c9171f"/>
<rect x="425.76" y="325.9" width="2.5" height="0.6" fill="#9a1018"/>
<rect x="426.06" y="324.9" width="1.9" height="2.0" fill="#9a1018"/>
<rect x="429.03" y="326.2" width="2.5" height="0.6" fill="#c9171f"/>
<rect x="429.33" y="325.5" width="1.9" height="2.0" fill="#9a1018"/>
<rect x="432.29" y="326.5" width="2.5" height="1.21" fill="#27309a"/>
<rect x="432.29" y="326.5" width="2.5" height="1.21" fill="#1d2578"/>
<rect x="432.59" y="326.71" width="1.9" height="2.0" fill="#1d2578"/>
<rect x="435.56" y="326.2" width="2.5" height="0.6" fill="#c9171f"/>
<rect x="435.86" y="325.5" width="1.9" height="2.0" fill="#9a1018"/>
<rect x="438.83" y="326.2" width="2.5" height="0.6" fill="#c9171f"/>
<rect x="439.13" y="325.5" width="1.9" height="2.0" fill="#9a1018"/>
<rect x="442.1" y="326.5" width="2.5" height="0.91" fill="#27309a"/>
<rect x="442.1" y="326.5" width="2.5" height="0.91" fill="#1d2578"/>
<rect x="442.4" y="326.41" width="1.9" height="2.0" fill="#1d2578"/>
<rect x="445.37" y="325.29" width="2.5" height="1.21" fill="#c9171f"/>
<rect x="445.37" y="325.29" width="2.5" height="1.21" fill="#9a1018"/>
<rect x="445.67" y="324.29" width="1.9" height="2.0" fill="#9a1018"/>
<rect x="448.63" y="326.2" width="2.5" height="0.6" fill="#c9171f"/>
<rect x="448.93" y="325.5" width="1.9" height="2.0" fill="#9a1018"/>
<rect x="451.9" y="326.2" width="2.5" height="0.6" fill="#c9171f"/>
<rect x="452.2" y="325.5" width="1.9" height="2.0" fill="#9a1018"/>
<rect x="455.17" y="326.2" width="2.5" height="0.6" fill="#c9171f"/>
<rect x="455.47" y="325.5" width="1.9" height="2.0" fill="#9a1018"/>
<rect x="458.44" y="326.2" width="2.5" height="0.6" fill="#c9171f"/>
<rect x="458.74" y="325.5" width="1.9" height="2.0" fill="#9a1018"/>
<rect x="464.97" y="326.5" width="2.5" height="1.21" fill="#27309a"/>
<rect x="464.97" y="326.5" width="2.5" height="1.21" fill="#1d2578"/>
<rect x="465.27" y="326.71" width="1.9" height="2.0" fill="#1d2578"/>
<rect x="468.24" y="321.73" width="2.5" height="4.77" fill="#c9171f"/>
<rect x="468.24" y="321.73" width="2.5" height="3.02" fill="#9a1018"/>
<rect x="468.54" y="320.73" width="1.9" height="2.0" fill="#9a1018"/>
<rect x="474.78" y="326.5" width="2.5" height="0.91" fill="#27309a"/>
<rect x="474.78" y="326.5" width="2.5" height="0.91" fill="#1d2578"/>
<rect x="475.08" y="326.41" width="1.9" height="2.0" fill="#1d2578"/>
<rect x="478.05" y="321.49" width="2.5" height="5.01" fill="#c9171f"/>
<rect x="478.05" y="321.49" width="2.5" height="5.01" fill="#9a1018"/>
<rect x="478.35" y="320.49" width="1.9" height="2.0" fill="#9a1018"/>
<rect x="481.31" y="324.69" width="2.5" height="1.81" fill="#c9171f"/>
<rect x="481.31" y="324.69" width="2.5" height="1.81" fill="#9a1018"/>
<rect x="481.61" y="323.69" width="1.9" height="2.0" fill="#9a1018"/>
<rect x="487.85" y="326.2" width="2.5" height="0.6" fill="#c9171f"/>
<rect x="488.15" y="325.5" width="1.9" height="2.0" fill="#9a1018"/>
<rect x="491.12" y="326.5" width="2.5" height="1.21" fill="#27309a"/>
<rect x="491.12" y="326.5" width="2.5" height="1.21" fill="#1d2578"/>
<rect x="491.42" y="326.71" width="1.9" height="2.0" fill="#1d2578"/>
<rect x="494.39" y="325.9" width="2.5" height="0.6" fill="#c9171f"/>
<rect x="494.39" y="325.9" width="2.5" height="0.6" fill="#9a1018"/>
<rect x="494.69" y="324.9" width="1.9" height="2.0" fill="#9a1018"/>
<rect x="497.65" y="326.5" width="2.5" height="0.91" fill="#27309a"/>
<rect x="497.65" y="326.5" width="2.5" height="0.91" fill="#1d2578"/>
<rect x="497.95" y="326.41" width="1.9" height="2.0" fill="#1d2578"/>
<rect x="500.92" y="325.29" width="2.5" height="1.21" fill="#c9171f"/>
<rect x="500.92" y="325.29" width="2.5" height="1.21" fill="#9a1018"/>
<rect x="501.22" y="324.29" width="1.9" height="2.0" fill="#9a1018"/>
<rect x="504.19" y="326.5" width="2.5" height="0.6" fill="#27309a"/>
<rect x="504.19" y="326.5" width="2.5" height="0.6" fill="#1d2578"/>
<rect x="504.49" y="326.1" width="1.9" height="2.0" fill="#1d2578"/>
<rect x="507.46" y="326.5" width="2.5" height="0.91" fill="#27309a"/>
<rect x="507.46" y="326.5" width="2.5" height="0.91" fill="#1d2578"/>
<rect x="507.76" y="326.41" width="1.9" height="2.0" fill="#1d2578"/>
<rect x="510.73" y="325.9" width="2.5" height="0.6" fill="#c9171f"/>
<rect x="510.73" y="326.2" width="2.5" height="0.3" fill="#9a1018"/>
<rect x="511.03" y="325.2" width="1.9" height="2.0" fill="#9a1018"/>
<rect x="517.26" y="325.29" width="2.5" height="1.21" fill="#c9171f"/>
<rect x="517.26" y="325.29" width="2.5" height="1.21" fill="#9a1018"/>
<rect x="517.56" y="324.29" width="1.9" height="2.0" fill="#9a1018"/>
<rect x="520.53" y="326.2" width="2.5" height="0.6" fill="#c9171f"/>
<rect x="520.83" y="325.5" width="1.9" height="2.0" fill="#9a1018"/>
<rect x="523.8" y="326.2" width="2.5" height="0.6" fill="#c9171f"/>
<rect x="524.1" y="325.5" width="1.9" height="2.0" fill="#9a1018"/>
<rect x="527.07" y="326.5" width="2.5" height="0.91" fill="#27309a"/>
<rect x="527.07" y="326.5" width="2.5" height="0.91" fill="#1d2578"/>
<rect x="527.37" y="326.41" width="1.9" height="2.0" fill="#1d2578"/>
<rect x="530.33" y="326.2" width="2.5" height="0.6" fill="#c9171f"/>
<rect x="530.63" y="325.5" width="1.9" height="2.0" fill="#9a1018"/>
<rect x="533.6" y="326.5" width="2.5" height="6.64" fill="#27309a"/>
<rect x="533.6" y="330.73" width="2.5" height="2.42" fill="#1d2578"/>
<rect x="533.9" y="332.14" width="1.9" height="2.0" fill="#1d2578"/>
<rect x="536.87" y="326.5" width="2.5" height="0.6" fill="#27309a"/>
<rect x="536.87" y="326.5" width="2.5" height="0.6" fill="#1d2578"/>
<rect x="537.17" y="326.1" width="1.9" height="2.0" fill="#1d2578"/>
<rect x="540.14" y="326.5" width="2.5" height="0.91" fill="#27309a"/>
<rect x="540.14" y="326.5" width="2.5" height="0.91" fill="#1d2578"/>
<rect x="540.44" y="326.41" width="1.9" height="2.0" fill="#1d2578"/>
<g stroke="#151515" stroke-width="1.0" fill="none">
<line x1="58.4" y1="92.33" x2="58.4" y2="96.62" stroke="#5a5a5a"/>
<line x1="56.1" y1="92.33" x2="60.7" y2="92.33"/>
<line x1="56.1" y1="96.62" x2="60.7" y2="96.62"/>
<line x1="62.32" y1="89.71" x2="62.32" y2="94.24" stroke="#5a5a5a"/>
<line x1="60.02" y1="89.71" x2="64.62" y2="89.71"/>
<line x1="60.02" y1="94.24" x2="64.62" y2="94.24"/>
<line x1="66.24" y1="84.48" x2="66.24" y2="90.67" stroke="#5a5a5a"/>
<line x1="63.94" y1="84.48" x2="68.54" y2="84.48"/>
<line x1="63.94" y1="90.67" x2="68.54" y2="90.67"/>
<line x1="70.16" y1="98.16" x2="70.16" y2="104.83" stroke="#5a5a5a"/>
<line x1="67.86" y1="98.16" x2="72.46" y2="98.16"/>
<line x1="67.86" y1="104.83" x2="72.46" y2="104.83"/>
<line x1="74.08" y1="94.71" x2="74.08" y2="104.23" stroke="#5a5a5a"/>
<line x1="71.78" y1="94.71" x2="76.38" y2="94.71"/>
<line x1="71.78" y1="104.23" x2="76.38" y2="104.23"/>
<line x1="77.99" y1="97.33" x2="77.99" y2="104.47" stroke="#5a5a5a"/>
<line x1="75.69" y1="97.33" x2="80.29" y2="97.33"/>
<line x1="75.69" y1="104.47" x2="80.29" y2="104.47"/>
<line x1="81.91" y1="95.9" x2="81.91" y2="103.04" stroke="#5a5a5a"/>
<line x1="79.61" y1="95.9" x2="84.21" y2="95.9"/>
<line x1="79.61" y1="103.04" x2="84.21" y2="103.04"/>
<line x1="85.83" y1="91.5" x2="85.83" y2="97.45" stroke="#5a5a5a"/>
<line x1="83.53" y1="91.5" x2="88.13" y2="91.5"/>
<line x1="83.53" y1="97.45" x2="88.13" y2="97.45"/>
<line x1="89.75" y1="94.95" x2="89.75" y2="104.47" stroke="#5a5a5a"/>
<line x1="87.45" y1="94.95" x2="92.05" y2="94.95"/>
<line x1="87.45" y1="104.47" x2="92.05" y2="104.47"/>
<line x1="93.67" y1="93.17" x2="93.67" y2="97.93" stroke="#5a5a5a"/>
<line x1="91.37" y1="93.17" x2="95.97" y2="93.17"/>
<line x1="91.37" y1="97.93" x2="95.97" y2="97.93"/>
<line x1="97.59" y1="92.21" x2="97.59" y2="96.97" stroke="#5a5a5a"/>
<line x1="95.29" y1="92.21" x2="99.89" y2="92.21"/>
<line x1="95.29" y1="96.97" x2="99.89" y2="96.97"/>
<line x1="101.51" y1="96.73" x2="101.51" y2="107.45" stroke="#5a5a5a"/>
<line x1="99.21" y1="96.73" x2="103.81" y2="96.73"/>
<line x1="99.21" y1="107.45" x2="103.81" y2="107.45"/>
<line x1="105.42" y1="96.14" x2="105.42" y2="103.28" stroke="#5a5a5a"/>
<line x1="103.12" y1="96.14" x2="107.72" y2="96.14"/>
<line x1="103.12" y1="103.28" x2="107.72" y2="103.28"/>
<line x1="109.34" y1="94.95" x2="109.34" y2="102.09" stroke="#5a5a5a"/>
<line x1="107.04" y1="94.95" x2="111.64" y2="94.95"/>
<line x1="107.04" y1="102.09" x2="111.64" y2="102.09"/>
<line x1="113.26" y1="94.95" x2="113.26" y2="102.09" stroke="#5a5a5a"/>
<line x1="110.96" y1="94.95" x2="115.56" y2="94.95"/>
<line x1="110.96" y1="102.09" x2="115.56" y2="102.09"/>
<line x1="117.18" y1="98.52" x2="117.18" y2="105.66" stroke="#5a5a5a"/>
<line x1="114.88" y1="98.52" x2="119.48" y2="98.52"/>
<line x1="114.88" y1="105.66" x2="119.48" y2="105.66"/>
<line x1="121.1" y1="89.59" x2="121.1" y2="96.73" stroke="#5a5a5a"/>
<line x1="118.8" y1="89.59" x2="123.4" y2="89.59"/>
<line x1="118.8" y1="96.73" x2="123.4" y2="96.73"/>
<line x1="125.02" y1="90.78" x2="125.02" y2="101.5" stroke="#5a5a5a"/>
<line x1="122.72" y1="90.78" x2="127.32" y2="90.78"/>
<line x1="122.72" y1="101.5" x2="127.32" y2="101.5"/>
<line x1="128.94" y1="89.36" x2="128.94" y2="95.78" stroke="#5a5a5a"/>
<line x1="126.64" y1="89.36" x2="131.24" y2="89.36"/>
<line x1="126.64" y1="95.78" x2="131.24" y2="95.78"/>
<line x1="132.85" y1="96.14" x2="132.85" y2="103.28" stroke="#5a5a5a"/>
<line x1="130.55" y1="96.14" x2="135.15" y2="96.14"/>
<line x1="130.55" y1="103.28" x2="135.15" y2="103.28"/>
<line x1="136.77" y1="92.57" x2="136.77" y2="98.52" stroke="#5a5a5a"/>
<line x1="134.47" y1="92.57" x2="139.07" y2="92.57"/>
<line x1="134.47" y1="98.52" x2="139.07" y2="98.52"/>
<line x1="140.69" y1="93.4" x2="140.69" y2="102.92" stroke="#5a5a5a"/>
<line x1="138.39" y1="93.4" x2="142.99" y2="93.4"/>
<line x1="138.39" y1="102.92" x2="142.99" y2="102.92"/>
<line x1="144.61" y1="97.93" x2="144.61" y2="102.69" stroke="#5a5a5a"/>
<line x1="142.31" y1="97.93" x2="146.91" y2="97.93"/>
<line x1="142.31" y1="102.69" x2="146.91" y2="102.69"/>
<line x1="148.53" y1="105.54" x2="148.53" y2="116.49" stroke="#5a5a5a"/>
<line x1="146.23" y1="105.54" x2="150.83" y2="105.54"/>
<line x1="146.23" y1="116.49" x2="150.83" y2="116.49"/>
<line x1="152.45" y1="90.9" x2="152.45" y2="100.42" stroke="#5a5a5a"/>
<line x1="150.15" y1="90.9" x2="154.75" y2="90.9"/>
<line x1="150.15" y1="100.42" x2="154.75" y2="100.42"/>
<line x1="156.36" y1="95.31" x2="156.36" y2="104.11" stroke="#5a5a5a"/>
<line x1="154.06" y1="95.31" x2="158.66" y2="95.31"/>
<line x1="154.06" y1="104.11" x2="158.66" y2="104.11"/>
<line x1="160.28" y1="92.21" x2="160.28" y2="101.73" stroke="#5a5a5a"/>
<line x1="157.98" y1="92.21" x2="162.58" y2="92.21"/>
<line x1="157.98" y1="101.73" x2="162.58" y2="101.73"/>
<line x1="168.12" y1="58.06" x2="168.12" y2="72.34" stroke="#5a5a5a"/>
<line x1="165.82" y1="58.06" x2="170.42" y2="58.06"/>
<line x1="165.82" y1="72.34" x2="170.42" y2="72.34"/>
<line x1="172.04" y1="93.76" x2="172.04" y2="108.04" stroke="#5a5a5a"/>
<line x1="169.74" y1="93.76" x2="174.34" y2="93.76"/>
<line x1="169.74" y1="108.04" x2="174.34" y2="108.04"/>
<line x1="175.96" y1="68.18" x2="175.96" y2="80.08" stroke="#5a5a5a"/>
<line x1="173.66" y1="68.18" x2="178.26" y2="68.18"/>
<line x1="173.66" y1="80.08" x2="178.26" y2="80.08"/>
<line x1="179.88" y1="78.41" x2="179.88" y2="94.12" stroke="#5a5a5a"/>
<line x1="177.58" y1="78.41" x2="182.18" y2="78.41"/>
<line x1="177.58" y1="94.12" x2="182.18" y2="94.12"/>
<line x1="183.79" y1="82.46" x2="183.79" y2="103.88" stroke="#5a5a5a"/>
<line x1="181.49" y1="82.46" x2="186.09" y2="82.46"/>
<line x1="181.49" y1="103.88" x2="186.09" y2="103.88"/>
<line x1="187.71" y1="62.82" x2="187.71" y2="77.34" stroke="#5a5a5a"/>
<line x1="185.41" y1="62.82" x2="190.01" y2="62.82"/>
<line x1="185.41" y1="77.34" x2="190.01" y2="77.34"/>
<line x1="191.63" y1="39.62" x2="191.63" y2="65.32" stroke="#5a5a5a"/>
<line x1="189.33" y1="39.62" x2="193.93" y2="39.62"/>
<line x1="189.33" y1="65.32" x2="193.93" y2="65.32"/>
<line x1="195.55" y1="99.35" x2="195.55" y2="116.01" stroke="#5a5a5a"/>
<line x1="193.25" y1="99.35" x2="197.85" y2="99.35"/>
<line x1="193.25" y1="116.01" x2="197.85" y2="116.01"/>
<line x1="199.47" y1="68.53" x2="199.47" y2="90.43" stroke="#5a5a5a"/>
<line x1="197.17" y1="68.53" x2="201.77" y2="68.53"/>
<line x1="197.17" y1="90.43" x2="201.77" y2="90.43"/>
<line x1="207.31" y1="102.33" x2="207.31" y2="111.37" stroke="#5a5a5a"/>
<line x1="205" y1="102.33" x2="209.61" y2="102.33"/>
<line x1="205" y1="111.37" x2="209.61" y2="111.37"/>
<line x1="211.22" y1="83.05" x2="211.22" y2="89.48" stroke="#5a5a5a"/>
<line x1="208.92" y1="83.05" x2="213.52" y2="83.05"/>
<line x1="208.92" y1="89.48" x2="213.52" y2="89.48"/>
<line x1="215.14" y1="126.72" x2="215.14" y2="144.1" stroke="#5a5a5a"/>
<line x1="212.84" y1="126.72" x2="217.44" y2="126.72"/>
<line x1="212.84" y1="144.1" x2="217.44" y2="144.1"/>
<line x1="219.06" y1="105.9" x2="219.06" y2="120.18" stroke="#5a5a5a"/>
<line x1="216.76" y1="105.9" x2="221.36" y2="105.9"/>
<line x1="216.76" y1="120.18" x2="221.36" y2="120.18"/>
<line x1="222.98" y1="125.18" x2="222.98" y2="142.07" stroke="#5a5a5a"/>
<line x1="220.68" y1="125.18" x2="225.28" y2="125.18"/>
<line x1="220.68" y1="142.07" x2="225.28" y2="142.07"/>
<line x1="230.82" y1="109.23" x2="230.82" y2="118.75" stroke="#5a5a5a"/>
<line x1="228.52" y1="109.23" x2="233.12" y2="109.23"/>
<line x1="228.52" y1="118.75" x2="233.12" y2="118.75"/>
<line x1="238.65" y1="89.83" x2="238.65" y2="106.49" stroke="#5a5a5a"/>
<line x1="236.35" y1="89.83" x2="240.95" y2="89.83"/>
<line x1="236.35" y1="106.49" x2="240.95" y2="106.49"/>
<line x1="242.57" y1="123.87" x2="242.57" y2="133.86" stroke="#5a5a5a"/>
<line x1="240.27" y1="123.87" x2="244.87" y2="123.87"/>
<line x1="240.27" y1="133.86" x2="244.87" y2="133.86"/>
<line x1="246.49" y1="98.88" x2="246.49" y2="106.02" stroke="#5a5a5a"/>
<line x1="244.19" y1="98.88" x2="248.79" y2="98.88"/>
<line x1="244.19" y1="106.02" x2="248.79" y2="106.02"/>
<line x1="250.41" y1="142.43" x2="250.41" y2="156" stroke="#5a5a5a"/>
<line x1="248.11" y1="142.43" x2="252.71" y2="142.43"/>
<line x1="248.11" y1="156" x2="252.71" y2="156"/>
<line x1="254.33" y1="103.16" x2="254.33" y2="115.54" stroke="#5a5a5a"/>
<line x1="252.03" y1="103.16" x2="256.63" y2="103.16"/>
<line x1="252.03" y1="115.54" x2="256.63" y2="115.54"/>
<line x1="258.25" y1="113.51" x2="258.25" y2="132.55" stroke="#5a5a5a"/>
<line x1="255.95" y1="113.51" x2="260.55" y2="113.51"/>
<line x1="255.95" y1="132.55" x2="260.55" y2="132.55"/>
<line x1="262.16" y1="122.08" x2="262.16" y2="133.98" stroke="#5a5a5a"/>
<line x1="259.86" y1="122.08" x2="264.46" y2="122.08"/>
<line x1="259.86" y1="133.98" x2="264.46" y2="133.98"/>
<line x1="266.08" y1="100.42" x2="266.08" y2="110.9" stroke="#5a5a5a"/>
<line x1="263.78" y1="100.42" x2="268.38" y2="100.42"/>
<line x1="263.78" y1="110.9" x2="268.38" y2="110.9"/>
<line x1="270" y1="98.52" x2="270" y2="108.04" stroke="#5a5a5a"/>
<line x1="267.7" y1="98.52" x2="272.3" y2="98.52"/>
<line x1="267.7" y1="108.04" x2="272.3" y2="108.04"/>
<line x1="273.92" y1="100.31" x2="273.92" y2="103.88" stroke="#5a5a5a"/>
<line x1="271.62" y1="100.31" x2="276.22" y2="100.31"/>
<line x1="271.62" y1="103.88" x2="276.22" y2="103.88"/>
<line x1="277.84" y1="110.06" x2="277.84" y2="126.25" stroke="#5a5a5a"/>
<line x1="275.54" y1="110.06" x2="280.14" y2="110.06"/>
<line x1="275.54" y1="126.25" x2="280.14" y2="126.25"/>
<line x1="281.76" y1="110.78" x2="281.76" y2="119.11" stroke="#5a5a5a"/>
<line x1="279.46" y1="110.78" x2="284.06" y2="110.78"/>
<line x1="279.46" y1="119.11" x2="284.06" y2="119.11"/>
<line x1="285.67" y1="90.9" x2="285.67" y2="102.8" stroke="#5a5a5a"/>
<line x1="283.37" y1="90.9" x2="287.97" y2="90.9"/>
<line x1="283.37" y1="102.8" x2="287.97" y2="102.8"/>
<line x1="289.59" y1="97.93" x2="289.59" y2="107.45" stroke="#5a5a5a"/>
<line x1="287.29" y1="97.93" x2="291.89" y2="97.93"/>
<line x1="287.29" y1="107.45" x2="291.89" y2="107.45"/>
<line x1="293.51" y1="103.88" x2="293.51" y2="112.21" stroke="#5a5a5a"/>
<line x1="291.21" y1="103.88" x2="295.81" y2="103.88"/>
<line x1="291.21" y1="112.21" x2="295.81" y2="112.21"/>
<line x1="297.43" y1="92.81" x2="297.43" y2="102.33" stroke="#5a5a5a"/>
<line x1="295.13" y1="92.81" x2="299.73" y2="92.81"/>
<line x1="295.13" y1="102.33" x2="299.73" y2="102.33"/>
<line x1="305.27" y1="95.31" x2="305.27" y2="104.11" stroke="#5a5a5a"/>
<line x1="302.97" y1="95.31" x2="307.57" y2="95.31"/>
<line x1="302.97" y1="104.11" x2="307.57" y2="104.11"/>
<line x1="309.19" y1="94.36" x2="309.19" y2="102.69" stroke="#5a5a5a"/>
<line x1="306.89" y1="94.36" x2="311.49" y2="94.36"/>
<line x1="306.89" y1="102.69" x2="311.49" y2="102.69"/>
<line x1="313.1" y1="92.81" x2="313.1" y2="102.33" stroke="#5a5a5a"/>
<line x1="310.8" y1="92.81" x2="315.4" y2="92.81"/>
<line x1="310.8" y1="102.33" x2="315.4" y2="102.33"/>
<line x1="317.02" y1="94.24" x2="317.02" y2="100.9" stroke="#5a5a5a"/>
<line x1="314.72" y1="94.24" x2="319.32" y2="94.24"/>
<line x1="314.72" y1="100.9" x2="319.32" y2="100.9"/>
<line x1="320.94" y1="98.88" x2="320.94" y2="106.02" stroke="#5a5a5a"/>
<line x1="318.64" y1="98.88" x2="323.24" y2="98.88"/>
<line x1="318.64" y1="106.02" x2="323.24" y2="106.02"/>
<line x1="324.86" y1="99.35" x2="324.86" y2="107.68" stroke="#5a5a5a"/>
<line x1="322.56" y1="99.35" x2="327.16" y2="99.35"/>
<line x1="322.56" y1="107.68" x2="327.16" y2="107.68"/>
<line x1="328.78" y1="94.47" x2="328.78" y2="100.66" stroke="#5a5a5a"/>
<line x1="326.48" y1="94.47" x2="331.08" y2="94.47"/>
<line x1="326.48" y1="100.66" x2="331.08" y2="100.66"/>
<line x1="332.7" y1="91.26" x2="332.7" y2="100.07" stroke="#5a5a5a"/>
<line x1="330.4" y1="91.26" x2="335" y2="91.26"/>
<line x1="330.4" y1="100.07" x2="335" y2="100.07"/>
<line x1="336.62" y1="70.44" x2="336.62" y2="95.9" stroke="#5a5a5a"/>
<line x1="334.32" y1="70.44" x2="338.92" y2="70.44"/>
<line x1="334.32" y1="95.9" x2="338.92" y2="95.9"/>
<line x1="340.53" y1="99.47" x2="340.53" y2="109.47" stroke="#5a5a5a"/>
<line x1="338.23" y1="99.47" x2="342.83" y2="99.47"/>
<line x1="338.23" y1="109.47" x2="342.83" y2="109.47"/>
<line x1="348.37" y1="94" x2="348.37" y2="101.14" stroke="#5a5a5a"/>
<line x1="346.07" y1="94" x2="350.67" y2="94"/>
<line x1="346.07" y1="101.14" x2="350.67" y2="101.14"/>
<line x1="352.29" y1="91.26" x2="352.29" y2="101.26" stroke="#5a5a5a"/>
<line x1="349.99" y1="91.26" x2="354.59" y2="91.26"/>
<line x1="349.99" y1="101.26" x2="354.59" y2="101.26"/>
<line x1="356.21" y1="92.33" x2="356.21" y2="100.66" stroke="#5a5a5a"/>
<line x1="353.91" y1="92.33" x2="358.51" y2="92.33"/>
<line x1="353.91" y1="100.66" x2="358.51" y2="100.66"/>
<line x1="360.13" y1="89.48" x2="360.13" y2="98.52" stroke="#5a5a5a"/>
<line x1="357.83" y1="89.48" x2="362.43" y2="89.48"/>
<line x1="357.83" y1="98.52" x2="362.43" y2="98.52"/>
<line x1="364.05" y1="94" x2="364.05" y2="103.52" stroke="#5a5a5a"/>
<line x1="361.75" y1="94" x2="366.35" y2="94"/>
<line x1="361.75" y1="103.52" x2="366.35" y2="103.52"/>
<line x1="367.96" y1="94.47" x2="367.96" y2="107.33" stroke="#5a5a5a"/>
<line x1="365.66" y1="94.47" x2="370.26" y2="94.47"/>
<line x1="365.66" y1="107.33" x2="370.26" y2="107.33"/>
<line x1="371.88" y1="93.76" x2="371.88" y2="100.9" stroke="#5a5a5a"/>
<line x1="369.58" y1="93.76" x2="374.18" y2="93.76"/>
<line x1="369.58" y1="100.9" x2="374.18" y2="100.9"/>
<line x1="375.8" y1="94.36" x2="375.8" y2="101.5" stroke="#5a5a5a"/>
<line x1="373.5" y1="94.36" x2="378.1" y2="94.36"/>
<line x1="373.5" y1="101.5" x2="378.1" y2="101.5"/>
<line x1="379.72" y1="94.24" x2="379.72" y2="101.38" stroke="#5a5a5a"/>
<line x1="377.42" y1="94.24" x2="382.02" y2="94.24"/>
<line x1="377.42" y1="101.38" x2="382.02" y2="101.38"/>
<line x1="383.64" y1="97.33" x2="383.64" y2="104.47" stroke="#5a5a5a"/>
<line x1="381.34" y1="97.33" x2="385.94" y2="97.33"/>
<line x1="381.34" y1="104.47" x2="385.94" y2="104.47"/>
<line x1="387.56" y1="99" x2="387.56" y2="108.52" stroke="#5a5a5a"/>
<line x1="385.26" y1="99" x2="389.86" y2="99"/>
<line x1="385.26" y1="108.52" x2="389.86" y2="108.52"/>
<line x1="391.47" y1="99.71" x2="391.47" y2="109.23" stroke="#5a5a5a"/>
<line x1="389.17" y1="99.71" x2="393.77" y2="99.71"/>
<line x1="389.17" y1="109.23" x2="393.77" y2="109.23"/>
<line x1="395.39" y1="97.93" x2="395.39" y2="103.88" stroke="#5a5a5a"/>
<line x1="393.09" y1="97.93" x2="397.69" y2="97.93"/>
<line x1="393.09" y1="103.88" x2="397.69" y2="103.88"/>
<line x1="399.31" y1="93.4" x2="399.31" y2="105.3" stroke="#5a5a5a"/>
<line x1="397.01" y1="93.4" x2="401.61" y2="93.4"/>
<line x1="397.01" y1="105.3" x2="401.61" y2="105.3"/>
<line x1="403.23" y1="99.71" x2="403.23" y2="110.18" stroke="#5a5a5a"/>
<line x1="400.93" y1="99.71" x2="405.53" y2="99.71"/>
<line x1="400.93" y1="110.18" x2="405.53" y2="110.18"/>
<line x1="422.82" y1="172.66" x2="422.82" y2="187.89" stroke="#5a5a5a"/>
<line x1="420.52" y1="172.66" x2="425.12" y2="172.66"/>
<line x1="420.52" y1="187.89" x2="425.12" y2="187.89"/>
<line x1="426.74" y1="121.73" x2="426.74" y2="134.81" stroke="#5a5a5a"/>
<line x1="424.44" y1="121.73" x2="429.04" y2="121.73"/>
<line x1="424.44" y1="134.81" x2="429.04" y2="134.81"/>
<line x1="430.66" y1="177.3" x2="430.66" y2="213.47" stroke="#5a5a5a"/>
<line x1="428.36" y1="177.3" x2="432.96" y2="177.3"/>
<line x1="428.36" y1="213.47" x2="432.96" y2="213.47"/>
<line x1="438.5" y1="154.45" x2="438.5" y2="167.78" stroke="#5a5a5a"/>
<line x1="436.2" y1="154.45" x2="440.8" y2="154.45"/>
<line x1="436.2" y1="167.78" x2="440.8" y2="167.78"/>
<line x1="442.41" y1="98.04" x2="442.41" y2="109.94" stroke="#5a5a5a"/>
<line x1="440.11" y1="98.04" x2="444.71" y2="98.04"/>
<line x1="440.11" y1="109.94" x2="444.71" y2="109.94"/>
<line x1="446.33" y1="101.02" x2="446.33" y2="113.87" stroke="#5a5a5a"/>
<line x1="444.03" y1="101.02" x2="448.63" y2="101.02"/>
<line x1="444.03" y1="113.87" x2="448.63" y2="113.87"/>
<line x1="450.25" y1="96.38" x2="450.25" y2="103.52" stroke="#5a5a5a"/>
<line x1="447.95" y1="96.38" x2="452.55" y2="96.38"/>
<line x1="447.95" y1="103.52" x2="452.55" y2="103.52"/>
<line x1="454.17" y1="97.33" x2="454.17" y2="104.47" stroke="#5a5a5a"/>
<line x1="451.87" y1="97.33" x2="456.47" y2="97.33"/>
<line x1="451.87" y1="104.47" x2="456.47" y2="104.47"/>
<line x1="458.09" y1="97.69" x2="458.09" y2="104.11" stroke="#5a5a5a"/>
<line x1="455.79" y1="97.69" x2="460.39" y2="97.69"/>
<line x1="455.79" y1="104.11" x2="460.39" y2="104.11"/>
<line x1="462.01" y1="97.93" x2="462.01" y2="103.88" stroke="#5a5a5a"/>
<line x1="459.71" y1="97.93" x2="464.31" y2="97.93"/>
<line x1="459.71" y1="103.88" x2="464.31" y2="103.88"/>
<line x1="469.84" y1="96.14" x2="469.84" y2="104.47" stroke="#5a5a5a"/>
<line x1="467.54" y1="96.14" x2="472.14" y2="96.14"/>
<line x1="467.54" y1="104.47" x2="472.14" y2="104.47"/>
<line x1="473.76" y1="90.67" x2="473.76" y2="100.66" stroke="#5a5a5a"/>
<line x1="471.46" y1="90.67" x2="476.06" y2="90.67"/>
<line x1="471.46" y1="100.66" x2="476.06" y2="100.66"/>
<line x1="477.68" y1="91.62" x2="477.68" y2="100.9" stroke="#5a5a5a"/>
<line x1="475.38" y1="91.62" x2="479.98" y2="91.62"/>
<line x1="475.38" y1="100.9" x2="479.98" y2="100.9"/>
<line x1="481.6" y1="97.33" x2="481.6" y2="103.28" stroke="#5a5a5a"/>
<line x1="479.3" y1="97.33" x2="483.9" y2="97.33"/>
<line x1="479.3" y1="103.28" x2="483.9" y2="103.28"/>
<line x1="485.52" y1="98.88" x2="485.52" y2="105.3" stroke="#5a5a5a"/>
<line x1="483.22" y1="98.88" x2="487.82" y2="98.88"/>
<line x1="483.22" y1="105.3" x2="487.82" y2="105.3"/>
<line x1="489.44" y1="96.02" x2="489.44" y2="103.88" stroke="#5a5a5a"/>
<line x1="487.14" y1="96.02" x2="491.74" y2="96.02"/>
<line x1="487.14" y1="103.88" x2="491.74" y2="103.88"/>
<line x1="493.36" y1="92.57" x2="493.36" y2="99.95" stroke="#5a5a5a"/>
<line x1="491.06" y1="92.57" x2="495.66" y2="92.57"/>
<line x1="491.06" y1="99.95" x2="495.66" y2="99.95"/>
<line x1="497.27" y1="86.03" x2="497.27" y2="95.31" stroke="#5a5a5a"/>
<line x1="494.97" y1="86.03" x2="499.57" y2="86.03"/>
<line x1="494.97" y1="95.31" x2="499.57" y2="95.31"/>
<line x1="501.19" y1="93.64" x2="501.19" y2="100.31" stroke="#5a5a5a"/>
<line x1="498.89" y1="93.64" x2="503.49" y2="93.64"/>
<line x1="498.89" y1="100.31" x2="503.49" y2="100.31"/>
<line x1="505.11" y1="93.28" x2="505.11" y2="100.66" stroke="#5a5a5a"/>
<line x1="502.81" y1="93.28" x2="507.41" y2="93.28"/>
<line x1="502.81" y1="100.66" x2="507.41" y2="100.66"/>
<line x1="509.03" y1="97.93" x2="509.03" y2="105.07" stroke="#5a5a5a"/>
<line x1="506.73" y1="97.93" x2="511.33" y2="97.93"/>
<line x1="506.73" y1="105.07" x2="511.33" y2="105.07"/>
<line x1="512.95" y1="92.57" x2="512.95" y2="100.42" stroke="#5a5a5a"/>
<line x1="510.65" y1="92.57" x2="515.25" y2="92.57"/>
<line x1="510.65" y1="100.42" x2="515.25" y2="100.42"/>
<line x1="516.87" y1="98.52" x2="516.87" y2="105.66" stroke="#5a5a5a"/>
<line x1="514.57" y1="98.52" x2="519.17" y2="98.52"/>
<line x1="514.57" y1="105.66" x2="519.17" y2="105.66"/>
<line x1="520.78" y1="96.38" x2="520.78" y2="103.04" stroke="#5a5a5a"/>
<line x1="518.49" y1="96.38" x2="523.08" y2="96.38"/>
<line x1="518.49" y1="103.04" x2="523.08" y2="103.04"/>
<line x1="528.62" y1="91.5" x2="528.62" y2="99.83" stroke="#5a5a5a"/>
<line x1="526.32" y1="91.5" x2="530.92" y2="91.5"/>
<line x1="526.32" y1="99.83" x2="530.92" y2="99.83"/>
<line x1="532.54" y1="98.4" x2="532.54" y2="107.21" stroke="#5a5a5a"/>
<line x1="530.24" y1="98.4" x2="534.84" y2="98.4"/>
<line x1="530.24" y1="107.21" x2="534.84" y2="107.21"/>
<line x1="536.46" y1="94.83" x2="536.46" y2="100.31" stroke="#5a5a5a"/>
<line x1="534.16" y1="94.83" x2="538.76" y2="94.83"/>
<line x1="534.16" y1="100.31" x2="538.76" y2="100.31"/>
<line x1="540.38" y1="99.71" x2="540.38" y2="104.47" stroke="#5a5a5a"/>
<line x1="538.08" y1="99.71" x2="542.68" y2="99.71"/>
<line x1="538.08" y1="104.47" x2="542.68" y2="104.47"/>
<line x1="60.99" y1="326.92" x2="60.99" y2="330.55" stroke="#5a5a5a"/>
<line x1="58.99" y1="326.92" x2="62.99" y2="326.92"/>
<line x1="58.99" y1="330.55" x2="62.99" y2="330.55"/>
<line x1="64.26" y1="322.57" x2="64.26" y2="328.61" stroke="#5a5a5a"/>
<line x1="62.26" y1="322.57" x2="66.26" y2="322.57"/>
<line x1="62.26" y1="328.61" x2="66.26" y2="328.61"/>
<line x1="67.53" y1="324.69" x2="67.53" y2="328.31" stroke="#5a5a5a"/>
<line x1="65.53" y1="324.69" x2="69.53" y2="324.69"/>
<line x1="65.53" y1="328.31" x2="69.53" y2="328.31"/>
<line x1="70.8" y1="327.59" x2="70.8" y2="332.42" stroke="#5a5a5a"/>
<line x1="68.8" y1="327.59" x2="72.8" y2="327.59"/>
<line x1="68.8" y1="332.42" x2="72.8" y2="332.42"/>
<line x1="74.06" y1="322.27" x2="74.06" y2="328.31" stroke="#5a5a5a"/>
<line x1="72.06" y1="322.27" x2="76.06" y2="322.27"/>
<line x1="72.06" y1="328.31" x2="76.06" y2="328.31"/>
<line x1="77.33" y1="323.48" x2="77.33" y2="329.52" stroke="#5a5a5a"/>
<line x1="75.33" y1="323.48" x2="79.33" y2="323.48"/>
<line x1="75.33" y1="329.52" x2="79.33" y2="329.52"/>
<line x1="80.6" y1="323.48" x2="80.6" y2="329.52" stroke="#5a5a5a"/>
<line x1="78.6" y1="323.48" x2="82.6" y2="323.48"/>
<line x1="78.6" y1="329.52" x2="82.6" y2="329.52"/>
<line x1="83.87" y1="323.48" x2="83.87" y2="328.31" stroke="#5a5a5a"/>
<line x1="81.87" y1="323.48" x2="85.87" y2="323.48"/>
<line x1="81.87" y1="328.31" x2="85.87" y2="328.31"/>
<line x1="87.14" y1="325.9" x2="87.14" y2="331.94" stroke="#5a5a5a"/>
<line x1="85.14" y1="325.9" x2="89.14" y2="325.9"/>
<line x1="85.14" y1="331.94" x2="89.14" y2="331.94"/>
<line x1="90.4" y1="323.48" x2="90.4" y2="329.52" stroke="#5a5a5a"/>
<line x1="88.4" y1="323.48" x2="92.4" y2="323.48"/>
<line x1="88.4" y1="329.52" x2="92.4" y2="329.52"/>
<line x1="96.94" y1="319.86" x2="96.94" y2="333.14" stroke="#5a5a5a"/>
<line x1="94.94" y1="319.86" x2="98.94" y2="319.86"/>
<line x1="94.94" y1="333.14" x2="98.94" y2="333.14"/>
<line x1="100.21" y1="322.27" x2="100.21" y2="328.31" stroke="#5a5a5a"/>
<line x1="98.21" y1="322.27" x2="102.21" y2="322.27"/>
<line x1="98.21" y1="328.31" x2="102.21" y2="328.31"/>
<line x1="103.48" y1="323.48" x2="103.48" y2="329.52" stroke="#5a5a5a"/>
<line x1="101.48" y1="323.48" x2="105.48" y2="323.48"/>
<line x1="101.48" y1="329.52" x2="105.48" y2="329.52"/>
<line x1="106.74" y1="322.88" x2="106.74" y2="328.92" stroke="#5a5a5a"/>
<line x1="104.74" y1="322.88" x2="108.74" y2="322.88"/>
<line x1="104.74" y1="328.92" x2="108.74" y2="328.92"/>
<line x1="110.01" y1="326.5" x2="110.01" y2="328.92" stroke="#5a5a5a"/>
<line x1="108.01" y1="326.5" x2="112.01" y2="326.5"/>
<line x1="108.01" y1="328.92" x2="112.01" y2="328.92"/>
<line x1="113.28" y1="322.57" x2="113.28" y2="327.41" stroke="#5a5a5a"/>
<line x1="111.28" y1="322.57" x2="115.28" y2="322.57"/>
<line x1="111.28" y1="327.41" x2="115.28" y2="327.41"/>
<line x1="116.55" y1="325.11" x2="116.55" y2="331.15" stroke="#5a5a5a"/>
<line x1="114.55" y1="325.11" x2="118.55" y2="325.11"/>
<line x1="114.55" y1="331.15" x2="118.55" y2="331.15"/>
<line x1="119.82" y1="323.78" x2="119.82" y2="328.61" stroke="#5a5a5a"/>
<line x1="117.82" y1="323.78" x2="121.82" y2="323.78"/>
<line x1="117.82" y1="328.61" x2="121.82" y2="328.61"/>
<line x1="123.08" y1="323.78" x2="123.08" y2="328.61" stroke="#5a5a5a"/>
<line x1="121.08" y1="323.78" x2="125.08" y2="323.78"/>
<line x1="121.08" y1="328.61" x2="125.08" y2="328.61"/>
<line x1="126.35" y1="323.78" x2="126.35" y2="328.61" stroke="#5a5a5a"/>
<line x1="124.35" y1="323.78" x2="128.35" y2="323.78"/>
<line x1="124.35" y1="328.61" x2="128.35" y2="328.61"/>
<line x1="132.89" y1="325.9" x2="132.89" y2="329.52" stroke="#5a5a5a"/>
<line x1="130.89" y1="325.9" x2="134.89" y2="325.9"/>
<line x1="130.89" y1="329.52" x2="134.89" y2="329.52"/>
<line x1="136.16" y1="324.08" x2="136.16" y2="328.92" stroke="#5a5a5a"/>
<line x1="134.16" y1="324.08" x2="138.16" y2="324.08"/>
<line x1="134.16" y1="328.92" x2="138.16" y2="328.92"/>
<line x1="139.42" y1="324.08" x2="139.42" y2="328.92" stroke="#5a5a5a"/>
<line x1="137.42" y1="324.08" x2="141.42" y2="324.08"/>
<line x1="137.42" y1="328.92" x2="141.42" y2="328.92"/>
<line x1="142.69" y1="324.69" x2="142.69" y2="328.92" stroke="#5a5a5a"/>
<line x1="140.69" y1="324.69" x2="144.69" y2="324.69"/>
<line x1="140.69" y1="328.92" x2="144.69" y2="328.92"/>
<line x1="149.23" y1="326.86" x2="149.23" y2="331.09" stroke="#5a5a5a"/>
<line x1="147.23" y1="326.86" x2="151.23" y2="326.86"/>
<line x1="147.23" y1="331.09" x2="151.23" y2="331.09"/>
<line x1="152.5" y1="317.8" x2="152.5" y2="323.48" stroke="#5a5a5a"/>
<line x1="150.5" y1="317.8" x2="154.5" y2="317.8"/>
<line x1="150.5" y1="323.48" x2="154.5" y2="323.48"/>
<line x1="155.76" y1="317.2" x2="155.76" y2="325.29" stroke="#5a5a5a"/>
<line x1="153.76" y1="317.2" x2="157.76" y2="317.2"/>
<line x1="153.76" y1="325.29" x2="157.76" y2="325.29"/>
<line x1="159.03" y1="324.81" x2="159.03" y2="330.24" stroke="#5a5a5a"/>
<line x1="157.03" y1="324.81" x2="161.03" y2="324.81"/>
<line x1="157.03" y1="330.24" x2="161.03" y2="330.24"/>
<line x1="162.3" y1="298.11" x2="162.3" y2="313.09" stroke="#5a5a5a"/>
<line x1="160.3" y1="298.11" x2="164.3" y2="298.11"/>
<line x1="160.3" y1="313.09" x2="164.3" y2="313.09"/>
<line x1="165.57" y1="310.25" x2="165.57" y2="317.26" stroke="#5a5a5a"/>
<line x1="163.57" y1="310.25" x2="167.57" y2="310.25"/>
<line x1="163.57" y1="317.26" x2="167.57" y2="317.26"/>
<line x1="168.84" y1="316.72" x2="168.84" y2="320.34" stroke="#5a5a5a"/>
<line x1="166.84" y1="316.72" x2="170.84" y2="316.72"/>
<line x1="166.84" y1="320.34" x2="170.84" y2="320.34"/>
<line x1="172.1" y1="314.48" x2="172.1" y2="321.12" stroke="#5a5a5a"/>
<line x1="170.1" y1="314.48" x2="174.1" y2="314.48"/>
<line x1="170.1" y1="321.12" x2="174.1" y2="321.12"/>
<line x1="175.37" y1="327.71" x2="175.37" y2="337.37" stroke="#5a5a5a"/>
<line x1="173.37" y1="327.71" x2="177.37" y2="327.71"/>
<line x1="173.37" y1="337.37" x2="177.37" y2="337.37"/>
<line x1="181.91" y1="324.08" x2="181.91" y2="328.92" stroke="#5a5a5a"/>
<line x1="179.91" y1="324.08" x2="183.91" y2="324.08"/>
<line x1="179.91" y1="328.92" x2="183.91" y2="328.92"/>
<line x1="185.18" y1="324.08" x2="185.18" y2="328.92" stroke="#5a5a5a"/>
<line x1="183.18" y1="324.08" x2="187.18" y2="324.08"/>
<line x1="183.18" y1="328.92" x2="187.18" y2="328.92"/>
<line x1="188.44" y1="324.08" x2="188.44" y2="328.92" stroke="#5a5a5a"/>
<line x1="186.44" y1="324.08" x2="190.44" y2="324.08"/>
<line x1="186.44" y1="328.92" x2="190.44" y2="328.92"/>
<line x1="191.71" y1="322.88" x2="191.71" y2="327.71" stroke="#5a5a5a"/>
<line x1="189.71" y1="322.88" x2="193.71" y2="322.88"/>
<line x1="189.71" y1="327.71" x2="193.71" y2="327.71"/>
<line x1="194.98" y1="323.48" x2="194.98" y2="327.71" stroke="#5a5a5a"/>
<line x1="192.98" y1="323.48" x2="196.98" y2="323.48"/>
<line x1="192.98" y1="327.71" x2="196.98" y2="327.71"/>
<line x1="198.25" y1="326.02" x2="198.25" y2="330.24" stroke="#5a5a5a"/>
<line x1="196.25" y1="326.02" x2="200.25" y2="326.02"/>
<line x1="196.25" y1="330.24" x2="200.25" y2="330.24"/>
<line x1="201.52" y1="323.48" x2="201.52" y2="328.31" stroke="#5a5a5a"/>
<line x1="199.52" y1="323.48" x2="203.52" y2="323.48"/>
<line x1="199.52" y1="328.31" x2="203.52" y2="328.31"/>
<line x1="204.78" y1="323.18" x2="204.78" y2="328.01" stroke="#5a5a5a"/>
<line x1="202.78" y1="323.18" x2="206.78" y2="323.18"/>
<line x1="202.78" y1="328.01" x2="206.78" y2="328.01"/>
<line x1="208.05" y1="326.38" x2="208.05" y2="336.04" stroke="#5a5a5a"/>
<line x1="206.05" y1="326.38" x2="210.05" y2="326.38"/>
<line x1="206.05" y1="336.04" x2="210.05" y2="336.04"/>
<line x1="211.32" y1="324.39" x2="211.32" y2="328.61" stroke="#5a5a5a"/>
<line x1="209.32" y1="324.39" x2="213.32" y2="324.39"/>
<line x1="209.32" y1="328.61" x2="213.32" y2="328.61"/>
<line x1="214.59" y1="324.39" x2="214.59" y2="328.61" stroke="#5a5a5a"/>
<line x1="212.59" y1="324.39" x2="216.59" y2="324.39"/>
<line x1="212.59" y1="328.61" x2="216.59" y2="328.61"/>
<line x1="217.86" y1="325.9" x2="217.86" y2="329.52" stroke="#5a5a5a"/>
<line x1="215.86" y1="325.9" x2="219.86" y2="325.9"/>
<line x1="215.86" y1="329.52" x2="219.86" y2="329.52"/>
<line x1="221.12" y1="326.2" x2="221.12" y2="329.82" stroke="#5a5a5a"/>
<line x1="219.12" y1="326.2" x2="223.12" y2="326.2"/>
<line x1="219.12" y1="329.82" x2="223.12" y2="329.82"/>
<line x1="224.39" y1="325.78" x2="224.39" y2="333.02" stroke="#5a5a5a"/>
<line x1="222.39" y1="325.78" x2="226.39" y2="325.78"/>
<line x1="222.39" y1="333.02" x2="226.39" y2="333.02"/>
<line x1="227.66" y1="324.69" x2="227.66" y2="328.31" stroke="#5a5a5a"/>
<line x1="225.66" y1="324.69" x2="229.66" y2="324.69"/>
<line x1="225.66" y1="328.31" x2="229.66" y2="328.31"/>
<line x1="234.2" y1="324.69" x2="234.2" y2="328.31" stroke="#5a5a5a"/>
<line x1="232.2" y1="324.69" x2="236.2" y2="324.69"/>
<line x1="232.2" y1="328.31" x2="236.2" y2="328.31"/>
<line x1="237.46" y1="324.69" x2="237.46" y2="328.31" stroke="#5a5a5a"/>
<line x1="235.46" y1="324.69" x2="239.46" y2="324.69"/>
<line x1="235.46" y1="328.31" x2="239.46" y2="328.31"/>
<line x1="240.73" y1="325.17" x2="240.73" y2="333.63" stroke="#5a5a5a"/>
<line x1="238.73" y1="325.17" x2="242.73" y2="325.17"/>
<line x1="238.73" y1="333.63" x2="242.73" y2="333.63"/>
<line x1="247.27" y1="325.9" x2="247.27" y2="329.52" stroke="#5a5a5a"/>
<line x1="245.27" y1="325.9" x2="249.27" y2="325.9"/>
<line x1="245.27" y1="329.52" x2="249.27" y2="329.52"/>
<line x1="250.54" y1="326.8" x2="250.54" y2="331.63" stroke="#5a5a5a"/>
<line x1="248.54" y1="326.8" x2="252.54" y2="326.8"/>
<line x1="248.54" y1="331.63" x2="252.54" y2="331.63"/>
<line x1="253.8" y1="326.5" x2="253.8" y2="331.33" stroke="#5a5a5a"/>
<line x1="251.8" y1="326.5" x2="255.8" y2="326.5"/>
<line x1="251.8" y1="331.33" x2="255.8" y2="331.33"/>
<line x1="257.07" y1="325.9" x2="257.07" y2="329.52" stroke="#5a5a5a"/>
<line x1="255.07" y1="325.9" x2="259.07" y2="325.9"/>
<line x1="255.07" y1="329.52" x2="259.07" y2="329.52"/>
<line x1="260.34" y1="321.49" x2="260.34" y2="328.49" stroke="#5a5a5a"/>
<line x1="258.34" y1="321.49" x2="262.34" y2="321.49"/>
<line x1="258.34" y1="328.49" x2="262.34" y2="328.49"/>
<line x1="263.61" y1="324.69" x2="263.61" y2="330.73" stroke="#5a5a5a"/>
<line x1="261.61" y1="324.69" x2="265.61" y2="324.69"/>
<line x1="261.61" y1="330.73" x2="265.61" y2="330.73"/>
<line x1="270.14" y1="328.49" x2="270.14" y2="335.14" stroke="#5a5a5a"/>
<line x1="268.14" y1="328.49" x2="272.14" y2="328.49"/>
<line x1="268.14" y1="335.14" x2="272.14" y2="335.14"/>
<line x1="273.41" y1="325.29" x2="273.41" y2="328.92" stroke="#5a5a5a"/>
<line x1="271.41" y1="325.29" x2="275.41" y2="325.29"/>
<line x1="271.41" y1="328.92" x2="275.41" y2="328.92"/>
<line x1="276.68" y1="322.27" x2="276.68" y2="328.92" stroke="#5a5a5a"/>
<line x1="274.68" y1="322.27" x2="278.68" y2="322.27"/>
<line x1="274.68" y1="328.92" x2="278.68" y2="328.92"/>
<line x1="279.95" y1="326.32" x2="279.95" y2="331.15" stroke="#5a5a5a"/>
<line x1="277.95" y1="326.32" x2="281.95" y2="326.32"/>
<line x1="277.95" y1="331.15" x2="281.95" y2="331.15"/>
<line x1="283.22" y1="323.18" x2="283.22" y2="328.61" stroke="#5a5a5a"/>
<line x1="281.22" y1="323.18" x2="285.22" y2="323.18"/>
<line x1="281.22" y1="328.61" x2="285.22" y2="328.61"/>
<line x1="286.48" y1="322.88" x2="286.48" y2="328.92" stroke="#5a5a5a"/>
<line x1="284.48" y1="322.88" x2="288.48" y2="322.88"/>
<line x1="284.48" y1="328.92" x2="288.48" y2="328.92"/>
<line x1="289.75" y1="321.37" x2="289.75" y2="329.82" stroke="#5a5a5a"/>
<line x1="287.75" y1="321.37" x2="291.75" y2="321.37"/>
<line x1="287.75" y1="329.82" x2="291.75" y2="329.82"/>
<line x1="293.02" y1="322.88" x2="293.02" y2="328.92" stroke="#5a5a5a"/>
<line x1="291.02" y1="322.88" x2="295.02" y2="322.88"/>
<line x1="291.02" y1="328.92" x2="295.02" y2="328.92"/>
<line x1="296.29" y1="323.78" x2="296.29" y2="328.61" stroke="#5a5a5a"/>
<line x1="294.29" y1="323.78" x2="298.29" y2="323.78"/>
<line x1="294.29" y1="328.61" x2="298.29" y2="328.61"/>
<line x1="299.56" y1="326.02" x2="299.56" y2="331.45" stroke="#5a5a5a"/>
<line x1="297.56" y1="326.02" x2="301.56" y2="326.02"/>
<line x1="297.56" y1="331.45" x2="301.56" y2="331.45"/>
<line x1="306.09" y1="325.59" x2="306.09" y2="329.22" stroke="#5a5a5a"/>
<line x1="304.09" y1="325.59" x2="308.09" y2="325.59"/>
<line x1="304.09" y1="329.22" x2="308.09" y2="329.22"/>
<line x1="309.36" y1="326.2" x2="309.36" y2="328.61" stroke="#5a5a5a"/>
<line x1="307.36" y1="326.2" x2="311.36" y2="326.2"/>
<line x1="307.36" y1="328.61" x2="311.36" y2="328.61"/>
<line x1="312.63" y1="323.18" x2="312.63" y2="327.41" stroke="#5a5a5a"/>
<line x1="310.63" y1="323.18" x2="314.63" y2="323.18"/>
<line x1="310.63" y1="327.41" x2="314.63" y2="327.41"/>
<line x1="315.9" y1="325.29" x2="315.9" y2="329.52" stroke="#5a5a5a"/>
<line x1="313.9" y1="325.29" x2="317.9" y2="325.29"/>
<line x1="313.9" y1="329.52" x2="317.9" y2="329.52"/>
<line x1="319.16" y1="325.29" x2="319.16" y2="328.92" stroke="#5a5a5a"/>
<line x1="317.16" y1="325.29" x2="321.16" y2="325.29"/>
<line x1="317.16" y1="328.92" x2="321.16" y2="328.92"/>
<line x1="322.43" y1="324.69" x2="322.43" y2="328.31" stroke="#5a5a5a"/>
<line x1="320.43" y1="324.69" x2="324.43" y2="324.69"/>
<line x1="320.43" y1="328.31" x2="324.43" y2="328.31"/>
<line x1="325.7" y1="322.27" x2="325.7" y2="328.31" stroke="#5a5a5a"/>
<line x1="323.7" y1="322.27" x2="327.7" y2="322.27"/>
<line x1="323.7" y1="328.31" x2="327.7" y2="328.31"/>
<line x1="328.97" y1="326.02" x2="328.97" y2="331.45" stroke="#5a5a5a"/>
<line x1="326.97" y1="326.02" x2="330.97" y2="326.02"/>
<line x1="326.97" y1="331.45" x2="330.97" y2="331.45"/>
<line x1="332.24" y1="319.43" x2="332.24" y2="325.11" stroke="#5a5a5a"/>
<line x1="330.24" y1="319.43" x2="334.24" y2="319.43"/>
<line x1="330.24" y1="325.11" x2="334.24" y2="325.11"/>
<line x1="335.5" y1="322.27" x2="335.5" y2="326.5" stroke="#5a5a5a"/>
<line x1="333.5" y1="322.27" x2="337.5" y2="322.27"/>
<line x1="333.5" y1="326.5" x2="337.5" y2="326.5"/>
<line x1="338.77" y1="323.48" x2="338.77" y2="328.31" stroke="#5a5a5a"/>
<line x1="336.77" y1="323.48" x2="340.77" y2="323.48"/>
<line x1="336.77" y1="328.31" x2="340.77" y2="328.31"/>
<line x1="342.04" y1="325.29" x2="342.04" y2="331.33" stroke="#5a5a5a"/>
<line x1="340.04" y1="325.29" x2="344.04" y2="325.29"/>
<line x1="340.04" y1="331.33" x2="344.04" y2="331.33"/>
<line x1="345.31" y1="325.29" x2="345.31" y2="330.12" stroke="#5a5a5a"/>
<line x1="343.31" y1="325.29" x2="347.31" y2="325.29"/>
<line x1="343.31" y1="330.12" x2="347.31" y2="330.12"/>
<line x1="351.84" y1="324.81" x2="351.84" y2="332.66" stroke="#5a5a5a"/>
<line x1="349.84" y1="324.81" x2="353.84" y2="324.81"/>
<line x1="349.84" y1="332.66" x2="353.84" y2="332.66"/>
<line x1="355.11" y1="366.97" x2="355.11" y2="376.63" stroke="#5a5a5a"/>
<line x1="353.11" y1="366.97" x2="357.11" y2="366.97"/>
<line x1="353.11" y1="376.63" x2="357.11" y2="376.63"/>
<line x1="361.65" y1="421.93" x2="361.65" y2="472.67" stroke="#5a5a5a"/>
<line x1="359.65" y1="421.93" x2="363.65" y2="421.93"/>
<line x1="359.65" y1="472.67" x2="363.65" y2="472.67"/>
<line x1="364.92" y1="319.43" x2="364.92" y2="323.06" stroke="#5a5a5a"/>
<line x1="362.92" y1="319.43" x2="366.92" y2="319.43"/>
<line x1="362.92" y1="323.06" x2="366.92" y2="323.06"/>
<line x1="368.18" y1="394.75" x2="368.18" y2="400.79" stroke="#5a5a5a"/>
<line x1="366.18" y1="394.75" x2="370.18" y2="394.75"/>
<line x1="366.18" y1="400.79" x2="370.18" y2="400.79"/>
<line x1="371.45" y1="315.27" x2="371.45" y2="320.22" stroke="#5a5a5a"/>
<line x1="369.45" y1="315.27" x2="373.45" y2="315.27"/>
<line x1="369.45" y1="320.22" x2="373.45" y2="320.22"/>
<line x1="374.72" y1="325.9" x2="374.72" y2="333.14" stroke="#5a5a5a"/>
<line x1="372.72" y1="325.9" x2="376.72" y2="325.9"/>
<line x1="372.72" y1="333.14" x2="376.72" y2="333.14"/>
<line x1="377.99" y1="331.45" x2="377.99" y2="338.46" stroke="#5a5a5a"/>
<line x1="375.99" y1="331.45" x2="379.99" y2="331.45"/>
<line x1="375.99" y1="338.46" x2="379.99" y2="338.46"/>
<line x1="384.52" y1="348.85" x2="384.52" y2="354.89" stroke="#5a5a5a"/>
<line x1="382.52" y1="348.85" x2="386.52" y2="348.85"/>
<line x1="382.52" y1="354.89" x2="386.52" y2="354.89"/>
<line x1="387.79" y1="348.85" x2="387.79" y2="354.89" stroke="#5a5a5a"/>
<line x1="385.79" y1="348.85" x2="389.79" y2="348.85"/>
<line x1="385.79" y1="354.89" x2="389.79" y2="354.89"/>
<line x1="391.06" y1="327.1" x2="391.06" y2="330.73" stroke="#5a5a5a"/>
<line x1="389.06" y1="327.1" x2="393.06" y2="327.1"/>
<line x1="389.06" y1="330.73" x2="393.06" y2="330.73"/>
<line x1="394.33" y1="325.59" x2="394.33" y2="329.22" stroke="#5a5a5a"/>
<line x1="392.33" y1="325.59" x2="396.33" y2="325.59"/>
<line x1="392.33" y1="329.22" x2="396.33" y2="329.22"/>
<line x1="397.6" y1="323.78" x2="397.6" y2="327.41" stroke="#5a5a5a"/>
<line x1="395.6" y1="323.78" x2="399.6" y2="323.78"/>
<line x1="395.6" y1="327.41" x2="399.6" y2="327.41"/>
<line x1="400.86" y1="308.68" x2="400.86" y2="321.37" stroke="#5a5a5a"/>
<line x1="398.86" y1="308.68" x2="402.86" y2="308.68"/>
<line x1="398.86" y1="321.37" x2="402.86" y2="321.37"/>
<line x1="417.2" y1="323.48" x2="417.2" y2="329.52" stroke="#5a5a5a"/>
<line x1="415.2" y1="323.48" x2="419.2" y2="323.48"/>
<line x1="415.2" y1="329.52" x2="419.2" y2="329.52"/>
<line x1="420.47" y1="320.76" x2="420.47" y2="328.01" stroke="#5a5a5a"/>
<line x1="418.47" y1="320.76" x2="422.47" y2="320.76"/>
<line x1="418.47" y1="328.01" x2="422.47" y2="328.01"/>
<line x1="423.74" y1="321.67" x2="423.74" y2="332.54" stroke="#5a5a5a"/>
<line x1="421.74" y1="321.67" x2="425.74" y2="321.67"/>
<line x1="421.74" y1="332.54" x2="425.74" y2="332.54"/>
<line x1="427.01" y1="324.08" x2="427.01" y2="327.71" stroke="#5a5a5a"/>
<line x1="425.01" y1="324.08" x2="429.01" y2="324.08"/>
<line x1="425.01" y1="327.71" x2="429.01" y2="327.71"/>
<line x1="430.28" y1="324.69" x2="430.28" y2="328.31" stroke="#5a5a5a"/>
<line x1="428.28" y1="324.69" x2="432.28" y2="324.69"/>
<line x1="428.28" y1="328.31" x2="432.28" y2="328.31"/>
<line x1="433.54" y1="324.69" x2="433.54" y2="330.73" stroke="#5a5a5a"/>
<line x1="431.54" y1="324.69" x2="435.54" y2="324.69"/>
<line x1="431.54" y1="330.73" x2="435.54" y2="330.73"/>
<line x1="436.81" y1="324.08" x2="436.81" y2="328.92" stroke="#5a5a5a"/>
<line x1="434.81" y1="324.08" x2="438.81" y2="324.08"/>
<line x1="434.81" y1="328.92" x2="438.81" y2="328.92"/>
<line x1="440.08" y1="324.69" x2="440.08" y2="328.31" stroke="#5a5a5a"/>
<line x1="438.08" y1="324.69" x2="442.08" y2="324.69"/>
<line x1="438.08" y1="328.31" x2="442.08" y2="328.31"/>
<line x1="443.35" y1="324.39" x2="443.35" y2="330.43" stroke="#5a5a5a"/>
<line x1="441.35" y1="324.39" x2="445.35" y2="324.39"/>
<line x1="441.35" y1="330.43" x2="445.35" y2="330.43"/>
<line x1="446.62" y1="322.88" x2="446.62" y2="327.71" stroke="#5a5a5a"/>
<line x1="444.62" y1="322.88" x2="448.62" y2="322.88"/>
<line x1="444.62" y1="327.71" x2="448.62" y2="327.71"/>
<line x1="449.88" y1="324.39" x2="449.88" y2="328.61" stroke="#5a5a5a"/>
<line x1="447.88" y1="324.39" x2="451.88" y2="324.39"/>
<line x1="447.88" y1="328.61" x2="451.88" y2="328.61"/>
<line x1="453.15" y1="324.69" x2="453.15" y2="328.31" stroke="#5a5a5a"/>
<line x1="451.15" y1="324.69" x2="455.15" y2="324.69"/>
<line x1="451.15" y1="328.31" x2="455.15" y2="328.31"/>
<line x1="456.42" y1="324.69" x2="456.42" y2="328.31" stroke="#5a5a5a"/>
<line x1="454.42" y1="324.69" x2="458.42" y2="324.69"/>
<line x1="454.42" y1="328.31" x2="458.42" y2="328.31"/>
<line x1="459.69" y1="324.39" x2="459.69" y2="328.61" stroke="#5a5a5a"/>
<line x1="457.69" y1="324.39" x2="461.69" y2="324.39"/>
<line x1="457.69" y1="328.61" x2="461.69" y2="328.61"/>
<line x1="466.22" y1="324.08" x2="466.22" y2="331.33" stroke="#5a5a5a"/>
<line x1="464.22" y1="324.08" x2="468.22" y2="324.08"/>
<line x1="464.22" y1="331.33" x2="468.22" y2="331.33"/>
<line x1="469.49" y1="318.71" x2="469.49" y2="324.75" stroke="#5a5a5a"/>
<line x1="467.49" y1="318.71" x2="471.49" y2="318.71"/>
<line x1="467.49" y1="324.75" x2="471.49" y2="324.75"/>
<line x1="476.03" y1="323.18" x2="476.03" y2="331.63" stroke="#5a5a5a"/>
<line x1="474.03" y1="323.18" x2="478.03" y2="323.18"/>
<line x1="474.03" y1="331.63" x2="478.03" y2="331.63"/>
<line x1="479.3" y1="315.02" x2="479.3" y2="327.95" stroke="#5a5a5a"/>
<line x1="477.3" y1="315.02" x2="481.3" y2="315.02"/>
<line x1="477.3" y1="327.95" x2="481.3" y2="327.95"/>
<line x1="482.56" y1="322.57" x2="482.56" y2="326.8" stroke="#5a5a5a"/>
<line x1="480.56" y1="322.57" x2="484.56" y2="322.57"/>
<line x1="480.56" y1="326.8" x2="484.56" y2="326.8"/>
<line x1="489.1" y1="324.08" x2="489.1" y2="328.92" stroke="#5a5a5a"/>
<line x1="487.1" y1="324.08" x2="491.1" y2="324.08"/>
<line x1="487.1" y1="328.92" x2="491.1" y2="328.92"/>
<line x1="492.37" y1="324.69" x2="492.37" y2="330.73" stroke="#5a5a5a"/>
<line x1="490.37" y1="324.69" x2="494.37" y2="324.69"/>
<line x1="490.37" y1="330.73" x2="494.37" y2="330.73"/>
<line x1="495.64" y1="323.78" x2="495.64" y2="328.01" stroke="#5a5a5a"/>
<line x1="493.64" y1="323.78" x2="497.64" y2="323.78"/>
<line x1="493.64" y1="328.01" x2="497.64" y2="328.01"/>
<line x1="498.9" y1="325.29" x2="498.9" y2="329.52" stroke="#5a5a5a"/>
<line x1="496.9" y1="325.29" x2="500.9" y2="325.29"/>
<line x1="496.9" y1="329.52" x2="500.9" y2="329.52"/>
<line x1="502.17" y1="322.88" x2="502.17" y2="327.71" stroke="#5a5a5a"/>
<line x1="500.17" y1="322.88" x2="504.17" y2="322.88"/>
<line x1="500.17" y1="327.71" x2="504.17" y2="327.71"/>
<line x1="505.44" y1="325.29" x2="505.44" y2="328.92" stroke="#5a5a5a"/>
<line x1="503.44" y1="325.29" x2="507.44" y2="325.29"/>
<line x1="503.44" y1="328.92" x2="507.44" y2="328.92"/>
<line x1="508.71" y1="324.39" x2="508.71" y2="330.43" stroke="#5a5a5a"/>
<line x1="506.71" y1="324.39" x2="510.71" y2="324.39"/>
<line x1="506.71" y1="330.43" x2="510.71" y2="330.43"/>
<line x1="511.98" y1="324.39" x2="511.98" y2="328.01" stroke="#5a5a5a"/>
<line x1="509.98" y1="324.39" x2="513.98" y2="324.39"/>
<line x1="509.98" y1="328.01" x2="513.98" y2="328.01"/>
<line x1="518.51" y1="322.88" x2="518.51" y2="327.71" stroke="#5a5a5a"/>
<line x1="516.51" y1="322.88" x2="520.51" y2="322.88"/>
<line x1="516.51" y1="327.71" x2="520.51" y2="327.71"/>
<line x1="521.78" y1="324.69" x2="521.78" y2="328.31" stroke="#5a5a5a"/>
<line x1="519.78" y1="324.69" x2="523.78" y2="324.69"/>
<line x1="519.78" y1="328.31" x2="523.78" y2="328.31"/>
<line x1="525.05" y1="324.69" x2="525.05" y2="328.31" stroke="#5a5a5a"/>
<line x1="523.05" y1="324.69" x2="527.05" y2="324.69"/>
<line x1="523.05" y1="328.31" x2="527.05" y2="328.31"/>
<line x1="528.32" y1="324.99" x2="528.32" y2="329.82" stroke="#5a5a5a"/>
<line x1="526.32" y1="324.99" x2="530.32" y2="324.99"/>
<line x1="526.32" y1="329.82" x2="530.32" y2="329.82"/>
<line x1="531.58" y1="324.39" x2="531.58" y2="328.61" stroke="#5a5a5a"/>
<line x1="529.58" y1="324.39" x2="533.58" y2="324.39"/>
<line x1="529.58" y1="328.61" x2="533.58" y2="328.61"/>
<line x1="534.85" y1="330.73" x2="534.85" y2="335.56" stroke="#5a5a5a"/>
<line x1="532.85" y1="330.73" x2="536.85" y2="330.73"/>
<line x1="532.85" y1="335.56" x2="536.85" y2="335.56"/>
<line x1="538.12" y1="325.9" x2="538.12" y2="328.31" stroke="#5a5a5a"/>
<line x1="536.12" y1="325.9" x2="540.12" y2="325.9"/>
<line x1="536.12" y1="328.31" x2="540.12" y2="328.31"/>
<line x1="541.39" y1="325.59" x2="541.39" y2="329.22" stroke="#5a5a5a"/>
<line x1="539.39" y1="325.59" x2="543.39" y2="325.59"/>
<line x1="539.39" y1="329.22" x2="543.39" y2="329.22"/>
</g>
<line x1="51.5" y1="100.9" x2="547.75" y2="100.9" stroke="#000" stroke-width="1.3"/>
<line x1="51.1" y1="326.5" x2="547.75" y2="326.5" stroke="#000" stroke-width="1.3"/>
<rect x="51.5" y="26.3" width="496.25" height="197.1" fill="none" stroke="#000" stroke-width="1.4"/>
<rect x="51.1" y="287.4" width="496.65" height="193.9" fill="none" stroke="#000" stroke-width="1.4"/>
<path d="M58.4 223.4V220.4M66.24 223.4V220.4M74.08 223.4V220.4M81.91 223.4V220.4M89.75 223.4V218.8M97.59 223.4V220.4M105.42 223.4V220.4M113.26 223.4V220.4M121.1 223.4V220.4M128.94 223.4V217.2M136.77 223.4V220.4M144.61 223.4V220.4M152.45 223.4V220.4M160.28 223.4V220.4M168.12 223.4V218.8M175.96 223.4V220.4M183.79 223.4V220.4M191.63 223.4V220.4M199.47 223.4V220.4M207.31 223.4V217.2M215.14 223.4V220.4M222.98 223.4V220.4M230.82 223.4V220.4M238.65 223.4V220.4M246.49 223.4V218.8M254.33 223.4V220.4M262.16 223.4V220.4M270 223.4V220.4M277.84 223.4V220.4M285.67 223.4V217.2M293.51 223.4V220.4M301.35 223.4V220.4M309.19 223.4V220.4M317.02 223.4V220.4M324.86 223.4V218.8M332.7 223.4V220.4M340.53 223.4V220.4M348.37 223.4V220.4M356.21 223.4V220.4M364.05 223.4V217.2M371.88 223.4V220.4M379.72 223.4V220.4M387.56 223.4V220.4M395.39 223.4V220.4M403.23 223.4V218.8M411.07 223.4V220.4M418.9 223.4V220.4M426.74 223.4V220.4M434.58 223.4V220.4M442.41 223.4V217.2M450.25 223.4V220.4M458.09 223.4V220.4M465.93 223.4V220.4M473.76 223.4V220.4M481.6 223.4V218.8M489.44 223.4V220.4M497.27 223.4V220.4M505.11 223.4V220.4M512.95 223.4V220.4M520.78 223.4V217.2M528.62 223.4V220.4M536.46 223.4V220.4M544.3 223.4V220.4M54.46 481.3V478.3M60.99 481.3V478.3M67.53 481.3V478.3M74.06 481.3V478.3M80.6 481.3V475.1M87.14 481.3V478.3M93.67 481.3V478.3M100.21 481.3V478.3M106.74 481.3V478.3M113.28 481.3V476.3M119.82 481.3V478.3M126.35 481.3V478.3M132.89 481.3V478.3M139.42 481.3V478.3M145.96 481.3V475.1M152.5 481.3V478.3M159.03 481.3V478.3M165.57 481.3V478.3M172.1 481.3V478.3M178.64 481.3V476.3M185.18 481.3V478.3M191.71 481.3V478.3M198.25 481.3V478.3M204.78 481.3V478.3M211.32 481.3V475.1M217.86 481.3V478.3M224.39 481.3V478.3M230.93 481.3V478.3M237.46 481.3V478.3M244 481.3V476.3M250.54 481.3V478.3M257.07 481.3V478.3M263.61 481.3V478.3M270.14 481.3V478.3M276.68 481.3V475.1M283.22 481.3V478.3M289.75 481.3V478.3M296.29 481.3V478.3M302.82 481.3V478.3M309.36 481.3V476.3M315.9 481.3V478.3M322.43 481.3V478.3M328.97 481.3V478.3M335.5 481.3V478.3M342.04 481.3V475.1M348.58 481.3V478.3M355.11 481.3V478.3M361.65 481.3V478.3M368.18 481.3V478.3M374.72 481.3V476.3M381.26 481.3V478.3M387.79 481.3V478.3M394.33 481.3V478.3M400.86 481.3V478.3M407.4 481.3V475.1M413.94 481.3V478.3M420.47 481.3V478.3M427.01 481.3V478.3M433.54 481.3V478.3M440.08 481.3V476.3M446.62 481.3V478.3M453.15 481.3V478.3M459.69 481.3V478.3M466.22 481.3V478.3M472.76 481.3V475.1M479.3 481.3V478.3M485.83 481.3V478.3M492.37 481.3V478.3M498.9 481.3V478.3M505.44 481.3V476.3M511.98 481.3V478.3M518.51 481.3V478.3M525.05 481.3V478.3M531.58 481.3V478.3M538.12 481.3V475.1M544.66 481.3V478.3M51.5 53.3H57.5M51.5 100.9H57.5M51.5 148.5H57.5M51.5 196.1H57.5M51.5 219.9H54.7M51.1 296.3H57.1M51.1 326.5H57.1M51.1 356.7H57.1M51.1 386.9H57.1M51.1 417.1H57.1M51.1 447.3H57.1M51.1 477.5H54.3" stroke="#000" stroke-width="1.2" fill="none"/>
<g font-family="Liberation Sans, sans-serif" fill="#111"><text x="48" y="58.3" text-anchor="end" font-size="14.6">4</text>
<text x="48" y="105.9" text-anchor="end" font-size="14.6">0</text>
<text x="48" y="153.5" text-anchor="end" font-size="14.6">-4</text>
<text x="48" y="201.1" text-anchor="end" font-size="14.6">-8</text>
<text x="48" y="301.3" text-anchor="end" font-size="14.6">5</text>
<text x="48" y="331.5" text-anchor="end" font-size="14.6">0</text>
<text x="48" y="361.7" text-anchor="end" font-size="14.6">-5</text>
<text x="48" y="391.9" text-anchor="end" font-size="14.6">-10</text>
<text x="48" y="422.1" text-anchor="end" font-size="14.6">-15</text>
<text x="48" y="452.3" text-anchor="end" font-size="14.6">-20</text>
<text x="48" y="482.5" text-anchor="end" font-size="14.6">-25</text>
<text x="128.94" y="241" text-anchor="middle" font-size="14.4">160</text>
<text x="207.31" y="241" text-anchor="middle" font-size="14.4">180</text>
<text x="285.67" y="241" text-anchor="middle" font-size="14.4">200</text>
<text x="364.05" y="241" text-anchor="middle" font-size="14.4">220</text>
<text x="442.41" y="241" text-anchor="middle" font-size="14.4">240</text>
<text x="520.78" y="241" text-anchor="middle" font-size="14.4">260</text>
<text x="80.6" y="498.5" text-anchor="middle" font-size="14.4">280</text>
<text x="145.96" y="498.5" text-anchor="middle" font-size="14.4">300</text>
<text x="211.32" y="498.5" text-anchor="middle" font-size="14.4">320</text>
<text x="276.68" y="498.5" text-anchor="middle" font-size="14.4">340</text>
<text x="342.04" y="498.5" text-anchor="middle" font-size="14.4">360</text>
<text x="407.4" y="498.5" text-anchor="middle" font-size="14.4">380</text>
<text x="472.76" y="498.5" text-anchor="middle" font-size="14.4">400</text>
<text x="538.12" y="498.5" text-anchor="middle" font-size="14.4">420</text>
<text x="260" y="256.5" font-size="16">Residue #</text>
<text x="260" y="516.3" font-size="16">Residue #</text>
<text x="51.5" y="20.3" font-size="18" textLength="181" lengthAdjust="spacingAndGlyphs"><tspan fill="transparent">&#916;</tspan> (C2A&#183;Pb1-apo C2A)</text>
<path d="M52.2 19.7L57.25 9.0L62.3 19.7Z" fill="none" stroke="#111" stroke-width="1.05" stroke-linejoin="miter"/>
<text x="51.5" y="279.6" font-size="18" textLength="181" lengthAdjust="spacingAndGlyphs"><tspan fill="transparent">&#916;</tspan> (C2B&#183;Pb1-apo C2B)</text>
<path d="M52.2 279.0L57.25 268.3L62.3 279.0Z" fill="none" stroke="#111" stroke-width="1.05" stroke-linejoin="miter"/>
<text x="4.4" y="17.8" font-size="20.3" font-weight="bold">A</text>
<text x="4.2" y="271" font-size="20.3" font-weight="bold">B</text>
<text transform="translate(19.2,0) rotate(-90)" x="-186.8" y="0" font-size="17.5" textLength="24.8" lengthAdjust="spacingAndGlyphs">&#916;R</text><text transform="translate(19.2,0) rotate(-90)" x="-161.4" y="4.5" font-size="12" textLength="6.1" lengthAdjust="spacingAndGlyphs">2</text><text transform="translate(19.2,0) rotate(-90)" x="-150.9" y="0" font-size="17.5" textLength="58" lengthAdjust="spacingAndGlyphs">CPMG</text><text transform="translate(19.2,0) rotate(-90)" x="-86.6" y="0" font-size="17.5" textLength="16.6" lengthAdjust="spacingAndGlyphs">(s</text><text transform="translate(19.2,0) rotate(-90)" x="-69.2" y="-6.5" font-size="12" textLength="8.2" lengthAdjust="spacingAndGlyphs">-1</text><text transform="translate(19.2,0) rotate(-90)" x="-59.6" y="0" font-size="17.5" textLength="5.2" lengthAdjust="spacingAndGlyphs">)</text>
<text transform="translate(19.2,0) rotate(-90)" x="-440.9" y="0" font-size="17" textLength="24.9" lengthAdjust="spacingAndGlyphs">&#916;R</text><text transform="translate(19.2,0) rotate(-90)" x="-415.4" y="4.5" font-size="12" textLength="5.8" lengthAdjust="spacingAndGlyphs">2</text><text transform="translate(19.2,0) rotate(-90)" x="-407.5" y="0" font-size="17" textLength="54.9" lengthAdjust="spacingAndGlyphs">CPMG</text><text transform="translate(19.2,0) rotate(-90)" x="-347" y="0" font-size="17" textLength="14.6" lengthAdjust="spacingAndGlyphs">(s</text><text transform="translate(19.2,0) rotate(-90)" x="-331.9" y="-6.5" font-size="12" textLength="8.1" lengthAdjust="spacingAndGlyphs">-1</text><text transform="translate(19.2,0) rotate(-90)" x="-321.6" y="0" font-size="17" textLength="5.4" lengthAdjust="spacingAndGlyphs">)</text>
<text transform="translate(170.4,213.4) rotate(-90)" font-size="13.6" font-weight="bold" fill="#4b168f" stroke="#4b168f" stroke-width="0.3">loop 1</text>
<text transform="translate(228,213.4) rotate(-90)" font-size="13.6" font-weight="bold" fill="#4b168f" stroke="#4b168f" stroke-width="0.3">LRC</text>
<text transform="translate(278.2,213.4) rotate(-90)" font-size="13.6" font-weight="bold" fill="#4b168f" stroke="#4b168f" stroke-width="0.3">loop 2</text>
<text transform="translate(415.6,213.4) rotate(-90)" font-size="13.6" font-weight="bold" fill="#4b168f" stroke="#4b168f" stroke-width="0.3">loop 3</text>
<text transform="translate(152.6,470) rotate(-90)" font-size="13.6" font-weight="bold" fill="#4b168f" stroke="#4b168f" stroke-width="0.3">loop 1</text>
<text transform="translate(203.8,469.8) rotate(-90)" font-size="13.6" font-weight="bold" fill="#4b168f" stroke="#4b168f" stroke-width="0.3">LRC</text>
<text transform="translate(250,469.8) rotate(-90)" font-size="13.6" font-weight="bold" fill="#4b168f" stroke="#4b168f" stroke-width="0.3">loop 2</text>
<text transform="translate(376.9,469.6) rotate(-90)" font-size="13.6" font-weight="bold" fill="#4b168f" stroke="#4b168f" stroke-width="0.3">loop 3</text>
<text x="316.3" y="189.4" font-size="14">attenuation</text>
<text x="278.6" y="434.8" font-size="14">attenuation</text></g>
<line x1="348.1" y1="174.6" x2="284.68" y2="140.43" stroke="#111" stroke-width="1.3"/><path d="M277.2 136.4L288.34 137.86L284.24 140.19L284.55 144.9Z" fill="#111"/>
<line x1="348.1" y1="174.6" x2="411.33" y2="140.35" stroke="#111" stroke-width="1.3"/><path d="M418.8 136.3L411.47 144.82L411.77 140.11L407.66 137.78Z" fill="#111"/>
<line x1="307.1" y1="421.9" x2="346.35" y2="400.39" stroke="#111" stroke-width="1.3"/><path d="M353.8 396.3L346.52 404.85L346.78 400.15L342.67 397.84Z" fill="#111"/>
<defs><radialGradient id="sg1" cx="0.38" cy="0.35" r="0.7"><stop offset="0" stop-color="#6b8ae0"/><stop offset="0.55" stop-color="#2a46b4"/><stop offset="1" stop-color="#142876"/></radialGradient><radialGradient id="sg2" cx="0.38" cy="0.35" r="0.7"><stop offset="0" stop-color="#6b8ae0"/><stop offset="0.55" stop-color="#2a46b4"/><stop offset="1" stop-color="#142876"/></radialGradient><radialGradient id="sg3" cx="0.38" cy="0.35" r="0.7"><stop offset="0" stop-color="#a8c4f0"/><stop offset="0.55" stop-color="#6a94d8"/><stop offset="1" stop-color="#3a62b0"/></radialGradient><radialGradient id="sg4" cx="0.38" cy="0.35" r="0.7"><stop offset="0" stop-color="#a8c4f0"/><stop offset="0.55" stop-color="#6a94d8"/><stop offset="1" stop-color="#3a62b0"/></radialGradient><radialGradient id="sg5" cx="0.38" cy="0.35" r="0.7"><stop offset="0" stop-color="#6b8ae0"/><stop offset="0.55" stop-color="#2a46b4"/><stop offset="1" stop-color="#142876"/></radialGradient><radialGradient id="sg6" cx="0.38" cy="0.35" r="0.7"><stop offset="0" stop-color="#f4b892"/><stop offset="0.55" stop-color="#e0895c"/><stop offset="1" stop-color="#b05a34"/></radialGradient><radialGradient id="sg7" cx="0.38" cy="0.35" r="0.7"><stop offset="0" stop-color="#ee8e78"/><stop offset="0.55" stop-color="#d65a42"/><stop offset="1" stop-color="#a23424"/></radialGradient><radialGradient id="sg8" cx="0.38" cy="0.35" r="0.7"><stop offset="0" stop-color="#f6e2d8"/><stop offset="0.55" stop-color="#e6c2b0"/><stop offset="1" stop-color="#b48e7e"/></radialGradient><radialGradient id="sg9" cx="0.38" cy="0.35" r="0.7"><stop offset="0" stop-color="#6b8ae0"/><stop offset="0.55" stop-color="#2a46b4"/><stop offset="1" stop-color="#142876"/></radialGradient><radialGradient id="sg10" cx="0.38" cy="0.35" r="0.7"><stop offset="0" stop-color="#6b8ae0"/><stop offset="0.55" stop-color="#2a46b4"/><stop offset="1" stop-color="#142876"/></radialGradient><radialGradient id="sg11" cx="0.38" cy="0.35" r="0.7"><stop offset="0" stop-color="#a8c4f0"/><stop offset="0.55" stop-color="#6a94d8"/><stop offset="1" stop-color="#3a62b0"/></radialGradient><radialGradient id="sg12" cx="0.38" cy="0.35" r="0.7"><stop offset="0" stop-color="#6b8ae0"/><stop offset="0.55" stop-color="#2a46b4"/><stop offset="1" stop-color="#142876"/></radialGradient><radialGradient id="sg13" cx="0.38" cy="0.35" r="0.7"><stop offset="0" stop-color="#f8f0ea"/><stop offset="0.55" stop-color="#e6d6cc"/><stop offset="1" stop-color="#b8a094"/></radialGradient><radialGradient id="sg14" cx="0.38" cy="0.35" r="0.7"><stop offset="0" stop-color="#c07a50"/><stop offset="0.55" stop-color="#8a4420"/><stop offset="1" stop-color="#4e2410"/></radialGradient><radialGradient id="sg15" cx="0.38" cy="0.35" r="0.7"><stop offset="0" stop-color="#f6d0c2"/><stop offset="0.55" stop-color="#e6aa96"/><stop offset="1" stop-color="#b07262"/></radialGradient><radialGradient id="sg16" cx="0.38" cy="0.35" r="0.7"><stop offset="0" stop-color="#6b8ae0"/><stop offset="0.55" stop-color="#2a46b4"/><stop offset="1" stop-color="#142876"/></radialGradient><radialGradient id="sg17" cx="0.38" cy="0.35" r="0.7"><stop offset="0" stop-color="#6b8ae0"/><stop offset="0.55" stop-color="#2a46b4"/><stop offset="1" stop-color="#142876"/></radialGradient><radialGradient id="sg18" cx="0.38" cy="0.35" r="0.7"><stop offset="0" stop-color="#6b8ae0"/><stop offset="0.55" stop-color="#2a46b4"/><stop offset="1" stop-color="#142876"/></radialGradient><radialGradient id="sg19" cx="0.38" cy="0.35" r="0.7"><stop offset="0" stop-color="#6b8ae0"/><stop offset="0.55" stop-color="#2a46b4"/><stop offset="1" stop-color="#142876"/></radialGradient><radialGradient id="sg20" cx="0.38" cy="0.35" r="0.7"><stop offset="0" stop-color="#6b8ae0"/><stop offset="0.55" stop-color="#2a46b4"/><stop offset="1" stop-color="#142876"/></radialGradient><radialGradient id="sg21" cx="0.38" cy="0.35" r="0.7"><stop offset="0" stop-color="#c07a50"/><stop offset="0.55" stop-color="#8a4420"/><stop offset="1" stop-color="#4e2410"/></radialGradient><linearGradient id="cbar" x1="0" y1="0" x2="0" y2="1"><stop offset="0" stop-color="#b02428"/><stop offset="0.1" stop-color="#bd3a34"/><stop offset="0.25" stop-color="#de8a6c"/><stop offset="0.33" stop-color="#c9aaa0"/><stop offset="0.38" stop-color="#b4b4b4"/><stop offset="0.625" stop-color="#b4b4b4"/><stop offset="0.70" stop-color="#8a9dd0"/><stop offset="0.78" stop-color="#4a66c0"/><stop offset="1" stop-color="#283a9c"/></linearGradient></defs><path d="M611.3 104.6L611.5 105.3L611.7 106.1L611.9 107.1L612.1 108.1L612.3 109.2L612.6 110.4L612.9 111.7L613.2 113.0L613.5 114.4L613.8 115.9L614.1 117.3L614.5 118.8L614.8 120.3L615.2 121.9L615.5 123.4L615.9 124.9L616.3 126.4L616.6 127.9L617.0 129.3L617.3 130.7L617.7 132.1L618.0 133.4L618.4 134.8L618.8 136.3L619.2 137.7L619.5 139.1L619.9 140.6L620.3 142.1L620.7 143.5L621.1 145.0L621.5 146.4L621.9 147.9L622.3 149.3L622.8 150.8L623.2 152.2L623.6 153.6L624.1 155.0L624.5 156.3L625.0 157.6L625.4 158.9L625.9 160.2L626.4 161.6L626.9 162.9L627.5 164.2L628.1 165.5L628.7 166.9L629.2 168.2L629.8 169.4L630.4 170.7L631.0 171.9L631.6 173.1L632.2 174.3L632.7 175.4L633.2 176.4L633.7 177.4L634.1 178.3L634.6 179.2L634.9 179.9L635.2 180.6L635.5 181.2L640.5 178.8L640.2 178.2L639.9 177.5L639.5 176.7L639.1 175.9L638.6 175.0L638.1 174.0L637.6 173.0L637.1 171.9L636.5 170.7L636.0 169.6L635.4 168.4L634.8 167.1L634.3 165.9L633.7 164.6L633.1 163.3L632.6 162.1L632.0 160.8L631.5 159.5L631.0 158.3L630.6 157.1L630.2 155.8L629.7 154.6L629.3 153.3L628.9 151.9L628.4 150.6L628.0 149.2L627.6 147.8L627.2 146.4L626.8 145.0L626.4 143.5L626.0 142.1L625.6 140.6L625.2 139.2L624.8 137.7L624.5 136.3L624.1 134.9L623.7 133.5L623.4 132.1L623.0 130.7L622.7 129.3L622.3 127.9L622.0 126.5L621.6 125.1L621.3 123.6L620.9 122.1L620.5 120.6L620.2 119.1L619.8 117.6L619.5 116.1L619.2 114.6L618.9 113.2L618.6 111.8L618.3 110.5L618.0 109.2L617.7 108.0L617.5 106.9L617.2 105.9L617.0 104.9L616.8 104.1L616.7 103.4Z" fill="#d2d2d2" stroke="#777" stroke-width="0.8" stroke-linejoin="round"/>
<path d="M621.6 100.7L621.8 101.5L622.1 102.4L622.4 103.4L622.7 104.5L623.0 105.7L623.4 107.1L623.8 108.5L624.2 109.9L624.7 111.4L625.1 113.0L625.6 114.6L626.0 116.2L626.5 117.8L626.9 119.5L627.4 121.1L627.9 122.7L628.3 124.3L628.8 125.8L629.2 127.3L629.6 128.7L630.0 130.1L630.4 131.5L630.8 132.9L631.2 134.2L631.7 135.6L632.1 137.0L632.5 138.4L632.9 139.8L633.3 141.2L633.7 142.5L634.1 143.9L634.5 145.3L635.0 146.6L635.4 147.9L635.7 149.3L636.1 150.6L636.5 151.9L636.9 153.2L637.2 154.4L637.6 155.7L637.9 156.9L638.3 158.2L638.7 159.5L639.0 160.9L639.4 162.2L639.7 163.6L640.1 164.9L640.4 166.2L640.7 167.5L641.1 168.8L641.4 170.1L641.7 171.3L642.0 172.4L642.3 173.5L642.5 174.6L642.8 175.6L643.0 176.5L643.2 177.3L643.4 178.0L643.6 178.6L648.4 177.4L648.3 176.7L648.1 176.0L647.9 175.2L647.6 174.3L647.4 173.3L647.1 172.3L646.8 171.2L646.6 170.0L646.2 168.8L645.9 167.6L645.6 166.3L645.3 165.0L644.9 163.6L644.6 162.3L644.2 160.9L643.8 159.6L643.5 158.2L643.1 156.9L642.8 155.6L642.4 154.3L642.1 153.1L641.7 151.8L641.3 150.5L640.9 149.2L640.5 147.8L640.1 146.5L639.7 145.2L639.3 143.8L638.9 142.5L638.5 141.1L638.1 139.7L637.7 138.3L637.3 137.0L636.9 135.6L636.4 134.2L636.0 132.8L635.6 131.4L635.2 130.1L634.8 128.7L634.4 127.3L634.0 125.9L633.6 124.4L633.1 122.9L632.7 121.3L632.2 119.7L631.8 118.1L631.3 116.5L630.8 114.8L630.4 113.2L629.9 111.6L629.5 110.1L629.0 108.5L628.6 107.1L628.2 105.7L627.8 104.4L627.5 103.1L627.2 102.0L626.9 101.0L626.6 100.1L626.4 99.3Z" fill="#d6d6d6" stroke="#777" stroke-width="0.8" stroke-linejoin="round"/>
<path d="M639.0 99.8L639.0 100.5L638.9 101.3L638.8 102.2L638.8 103.2L638.7 104.3L638.6 105.5L638.5 106.7L638.4 108.0L638.4 109.3L638.3 110.7L638.2 112.1L638.0 113.6L637.9 115.0L637.8 116.5L637.7 117.9L637.6 119.3L637.4 120.7L637.3 122.1L637.2 123.4L637.0 124.6L636.9 125.9L636.7 127.1L636.5 128.3L636.4 129.5L636.2 130.8L636.0 132.0L635.8 133.2L635.6 134.5L635.4 135.7L635.2 136.9L635.0 138.2L634.7 139.4L634.5 140.7L634.3 141.9L634.1 143.2L633.9 144.4L633.7 145.7L633.4 147.0L633.2 148.3L633.0 149.5L632.8 150.8L632.6 152.2L632.4 153.6L632.2 155.1L631.9 156.6L631.7 158.1L631.5 159.6L631.2 161.1L631.0 162.6L630.8 164.1L630.6 165.6L630.3 167.0L630.1 168.3L629.9 169.6L629.8 170.9L629.6 172.0L629.4 173.0L629.3 174.0L629.1 174.8L629.0 175.5L635.0 176.5L635.1 175.7L635.2 174.9L635.3 174.0L635.5 172.9L635.7 171.8L635.9 170.5L636.1 169.2L636.3 167.9L636.5 166.5L636.7 165.0L636.9 163.5L637.2 162.0L637.4 160.5L637.6 159.0L637.9 157.5L638.1 156.0L638.3 154.6L638.5 153.1L638.8 151.8L639.0 150.5L639.2 149.2L639.4 147.9L639.6 146.7L639.8 145.4L640.0 144.2L640.2 142.9L640.4 141.7L640.7 140.4L640.9 139.2L641.1 137.9L641.3 136.7L641.5 135.4L641.7 134.2L641.9 132.9L642.1 131.7L642.3 130.4L642.5 129.2L642.7 127.9L642.8 126.6L643.0 125.4L643.1 124.1L643.3 122.7L643.4 121.3L643.5 119.9L643.7 118.4L643.8 117.0L643.9 115.5L644.0 114.0L644.1 112.6L644.2 111.2L644.3 109.8L644.4 108.4L644.5 107.1L644.6 105.9L644.7 104.7L644.8 103.6L644.8 102.6L644.9 101.7L644.9 100.9L645.0 100.2Z" fill="#d8d8d8" stroke="#777" stroke-width="0.8" stroke-linejoin="round"/>
<path d="M656.5 98.4L656.6 99.3L656.7 100.5L656.9 101.9L657.0 103.5L657.2 105.2L657.4 107.0L657.6 108.9L657.8 110.8L658.0 112.7L658.2 114.7L658.3 116.5L658.5 118.3L658.7 120.1L658.8 121.9L659.0 123.7L659.2 125.6L659.3 127.4L659.5 129.3L659.7 131.2L659.8 133.1L660.0 134.9L660.2 136.7L660.3 138.6L660.5 140.3L660.7 142.1L660.9 143.8L661.0 145.6L661.2 147.3L661.4 148.9L661.6 150.6L661.8 152.3L661.9 153.9L662.1 155.5L662.2 157.1L662.4 158.7L662.5 160.3L662.6 161.9L662.8 163.5L662.9 165.1L663.1 166.7L663.2 168.2L663.3 169.8L663.4 171.2L663.5 172.7L663.6 174.1L663.6 175.4L663.6 176.6L663.5 177.8L663.4 178.8L663.2 179.9L663.0 181.0L662.8 182.0L662.5 183.1L662.2 184.1L661.9 185.1L661.6 186.0L661.3 186.9L661.0 187.7L660.8 188.4L660.6 189.1L667.4 190.9L667.5 190.4L667.7 189.9L668.0 189.1L668.2 188.2L668.6 187.2L668.9 186.1L669.3 185.0L669.6 183.7L669.9 182.4L670.1 181.1L670.4 179.7L670.5 178.2L670.6 176.8L670.6 175.4L670.6 173.9L670.5 172.4L670.4 170.8L670.3 169.2L670.2 167.7L670.0 166.1L669.9 164.5L669.8 162.9L669.6 161.3L669.5 159.7L669.4 158.1L669.2 156.5L669.1 154.8L668.9 153.2L668.7 151.5L668.5 149.9L668.4 148.2L668.2 146.5L668.0 144.8L667.8 143.1L667.7 141.4L667.5 139.7L667.3 137.9L667.2 136.1L667.0 134.3L666.8 132.4L666.7 130.6L666.5 128.7L666.3 126.8L666.2 124.9L666.0 123.1L665.8 121.3L665.7 119.4L665.5 117.7L665.3 115.9L665.1 114.0L664.9 112.0L664.7 110.1L664.5 108.2L664.4 106.3L664.2 104.5L664.0 102.8L663.8 101.2L663.7 99.8L663.6 98.6L663.5 97.6Z" fill="#e4e4e4" stroke="#808080" stroke-width="0.8" stroke-linejoin="round"/>
<path d="M648.8 92.7L648.9 93.0L649.0 93.3L649.0 93.5L649.1 93.9L649.2 94.2L649.3 94.5L649.4 94.8L649.5 95.2L649.6 95.6L649.7 96.0L649.8 96.4L649.9 96.8L650.0 97.2L650.1 97.7L650.2 98.1L650.3 98.6L650.5 99.0L650.6 99.5L650.7 100.0L650.8 100.5L650.9 101.0L651.0 101.5L651.1 102.0L651.2 102.5L651.3 103.0L651.4 103.5L651.5 104.0L651.6 104.5L651.7 105.0L651.8 105.5L651.9 106.0L651.9 106.6L652.0 107.2L652.1 107.8L652.2 108.4L652.3 109.1L652.3 109.8L652.4 110.5L652.5 111.2L652.6 111.9L652.7 112.7L652.7 113.4L652.8 114.1L652.9 114.9L653.0 115.6L653.0 116.4L653.1 117.1L653.2 117.8L653.2 118.5L653.3 119.1L653.3 119.8L653.4 120.4L653.5 121.0L653.5 121.6L653.6 122.2L653.6 122.7L653.7 123.2L653.7 123.6L653.7 124.0L653.8 124.3L660.2 123.7L660.2 123.3L660.2 123.0L660.1 122.5L660.1 122.1L660.0 121.6L660.0 121.0L659.9 120.4L659.9 119.8L659.8 119.2L659.8 118.6L659.7 117.9L659.6 117.2L659.6 116.5L659.5 115.7L659.4 115.0L659.4 114.3L659.3 113.5L659.2 112.8L659.1 112.0L659.0 111.3L659.0 110.5L658.9 109.8L658.8 109.0L658.7 108.3L658.6 107.6L658.6 107.0L658.5 106.3L658.4 105.7L658.3 105.1L658.2 104.5L658.1 103.9L658.0 103.4L657.9 102.8L657.8 102.3L657.7 101.7L657.6 101.2L657.5 100.6L657.4 100.1L657.2 99.5L657.1 99.0L657.0 98.5L656.9 98.0L656.8 97.5L656.6 97.0L656.5 96.5L656.4 96.1L656.3 95.6L656.2 95.2L656.1 94.7L656.0 94.3L655.9 93.9L655.8 93.5L655.7 93.2L655.6 92.8L655.5 92.5L655.4 92.2L655.3 91.9L655.3 91.7L655.2 91.5L655.2 91.3Z" fill="#c4c4c4" stroke="#666" stroke-width="0.8" stroke-linejoin="round"/>
<path d="M575.8 72.0L576.0 72.1L576.2 72.2L576.5 72.3L576.8 72.4L577.0 72.6L577.4 72.7L577.7 72.9L578.0 73.1L578.4 73.2L578.8 73.4L579.2 73.6L579.5 73.8L580.0 74.0L580.4 74.2L580.8 74.4L581.2 74.6L581.7 74.8L582.1 75.0L582.5 75.2L583.0 75.4L583.4 75.6L583.8 75.8L584.3 76.0L584.7 76.2L585.1 76.4L585.5 76.6L585.9 76.8L586.3 77.0L586.7 77.2L587.1 77.4L587.4 77.6L587.8 77.7L588.2 77.9L588.6 78.1L589.0 78.3L589.4 78.5L589.8 78.8L590.2 79.0L590.6 79.2L591.0 79.4L591.4 79.6L591.8 79.8L592.2 80.0L592.6 80.2L593.0 80.4L593.4 80.6L593.7 80.8L594.1 81.0L594.5 81.2L594.8 81.4L595.2 81.6L595.5 81.8L595.8 81.9L596.1 82.1L596.4 82.3L596.6 82.4L596.9 82.5L597.1 82.6L597.3 82.8L597.5 82.9L599.5 79.1L599.3 79.0L599.1 78.9L598.9 78.8L598.6 78.7L598.4 78.5L598.1 78.4L597.8 78.2L597.5 78.1L597.1 77.9L596.8 77.7L596.4 77.5L596.1 77.3L595.7 77.1L595.3 76.9L594.9 76.7L594.5 76.5L594.1 76.3L593.7 76.1L593.3 75.9L592.9 75.7L592.5 75.5L592.1 75.2L591.7 75.0L591.3 74.8L590.9 74.6L590.5 74.4L590.1 74.2L589.7 74.0L589.3 73.8L588.9 73.6L588.6 73.4L588.2 73.2L587.8 73.0L587.4 72.8L586.9 72.6L586.5 72.4L586.1 72.2L585.7 72.0L585.2 71.8L584.8 71.6L584.3 71.4L583.9 71.2L583.5 71.0L583.0 70.8L582.6 70.6L582.2 70.4L581.7 70.2L581.3 70.0L580.9 69.8L580.6 69.6L580.2 69.4L579.8 69.3L579.5 69.1L579.1 68.9L578.8 68.8L578.5 68.6L578.3 68.5L578.0 68.4L577.8 68.3L577.6 68.2Z" fill="#d0d0d0" stroke="#666" stroke-width="0.8" stroke-linejoin="round"/>
<path d="M596.9 80.2L596.9 80.4L596.9 80.5L597.0 80.7L597.0 80.9L597.0 81.0L597.0 81.2L597.1 81.4L597.1 81.7L597.1 81.9L597.2 82.1L597.2 82.3L597.2 82.6L597.3 82.8L597.3 83.1L597.3 83.3L597.4 83.6L597.4 83.9L597.4 84.1L597.5 84.4L597.5 84.6L597.5 84.9L597.5 85.2L597.6 85.4L597.6 85.7L597.6 85.9L597.6 86.2L597.7 86.4L597.7 86.7L597.7 86.9L597.7 87.1L597.7 87.3L597.7 87.5L597.7 87.8L597.7 88.0L597.7 88.2L597.7 88.5L597.7 88.7L597.7 89.0L597.7 89.3L597.7 89.5L597.7 89.8L597.7 90.1L597.7 90.3L597.7 90.6L597.7 90.8L597.6 91.1L597.6 91.4L597.6 91.6L597.6 91.8L597.6 92.1L597.6 92.3L597.6 92.5L597.6 92.7L597.5 92.9L597.5 93.1L597.5 93.3L597.5 93.5L597.5 93.6L597.5 93.8L597.5 93.9L601.7 94.1L601.7 94.0L601.7 93.8L601.7 93.7L601.7 93.5L601.7 93.3L601.7 93.2L601.8 93.0L601.8 92.7L601.8 92.5L601.8 92.3L601.8 92.1L601.8 91.8L601.8 91.6L601.8 91.3L601.8 91.0L601.9 90.8L601.9 90.5L601.9 90.2L601.9 89.9L601.9 89.7L601.9 89.4L601.9 89.1L601.9 88.8L601.9 88.5L601.9 88.3L601.9 88.0L601.9 87.7L601.9 87.4L601.9 87.2L601.9 86.9L601.9 86.6L601.9 86.4L601.9 86.1L601.8 85.8L601.8 85.6L601.8 85.3L601.8 85.0L601.7 84.7L601.7 84.5L601.7 84.2L601.6 83.9L601.6 83.6L601.6 83.3L601.5 83.1L601.5 82.8L601.5 82.5L601.4 82.3L601.4 82.0L601.4 81.8L601.3 81.5L601.3 81.3L601.3 81.1L601.2 80.9L601.2 80.7L601.2 80.5L601.2 80.3L601.1 80.1L601.1 80.0L601.1 79.9L601.1 79.8Z" fill="#c8c8c8" stroke="#666" stroke-width="0.8" stroke-linejoin="round"/>
<path d="M597.2 96.1L597.3 96.2L597.4 96.2L597.5 96.3L597.6 96.4L597.7 96.5L597.9 96.6L598.0 96.7L598.2 96.8L598.4 96.9L598.6 97.0L598.7 97.1L598.9 97.2L599.1 97.4L599.3 97.5L599.5 97.6L599.7 97.8L599.9 97.9L600.2 98.0L600.4 98.2L600.6 98.3L600.8 98.5L601.0 98.6L601.2 98.7L601.4 98.9L601.7 99.0L601.9 99.1L602.1 99.3L602.3 99.4L602.5 99.5L602.7 99.6L602.9 99.8L603.1 99.9L603.3 100.0L603.5 100.1L603.8 100.3L604.0 100.4L604.2 100.5L604.5 100.7L604.7 100.8L604.9 101.0L605.2 101.1L605.4 101.2L605.6 101.4L605.9 101.5L606.1 101.6L606.3 101.8L606.5 101.9L606.8 102.0L607.0 102.1L607.2 102.3L607.4 102.4L607.6 102.5L607.8 102.6L607.9 102.7L608.1 102.8L608.2 102.9L608.4 103.0L608.5 103.0L608.6 103.1L608.7 103.2L611.3 98.8L611.1 98.8L611.0 98.7L610.9 98.6L610.7 98.5L610.6 98.5L610.4 98.4L610.2 98.3L610.1 98.2L609.9 98.0L609.7 97.9L609.5 97.8L609.3 97.7L609.0 97.6L608.8 97.4L608.6 97.3L608.4 97.2L608.1 97.0L607.9 96.9L607.7 96.8L607.4 96.6L607.2 96.5L607.0 96.4L606.8 96.2L606.5 96.1L606.3 96.0L606.1 95.8L605.9 95.7L605.7 95.6L605.5 95.5L605.3 95.4L605.1 95.2L604.9 95.1L604.7 95.0L604.5 94.9L604.3 94.8L604.1 94.6L603.9 94.5L603.7 94.4L603.5 94.2L603.3 94.1L603.1 94.0L602.8 93.8L602.6 93.7L602.4 93.6L602.2 93.4L602.0 93.3L601.8 93.2L601.6 93.0L601.4 92.9L601.3 92.8L601.1 92.7L600.9 92.6L600.8 92.5L600.6 92.4L600.4 92.3L600.3 92.2L600.2 92.1L600.1 92.0L599.9 92.0L599.8 91.9Z" fill="#c0c0c0" stroke="#666" stroke-width="0.8" stroke-linejoin="round"/>
<path d="M593.7 105.8L593.5 106.0L593.4 106.2L593.1 106.6L592.7 107.0L592.2 107.6L591.7 108.2L591.2 108.8L590.6 109.6L590.0 110.4L589.4 111.4L588.9 112.3L588.3 113.4L587.9 114.6L587.4 115.8L587.1 117.1L586.8 118.4L586.6 119.8L586.5 121.2L586.3 122.7L586.2 124.2L586.1 125.7L586.0 127.3L586.0 128.9L585.9 130.6L585.9 132.2L585.9 133.8L585.9 135.4L585.9 137.0L586.0 138.6L586.0 140.1L586.0 141.6L586.1 143.2L586.2 144.7L586.3 146.3L586.4 147.8L586.6 149.3L586.7 150.9L586.8 152.4L587.0 153.9L587.2 155.4L587.3 156.9L587.5 158.3L587.7 159.8L587.9 161.1L588.0 162.5L588.2 163.9L588.4 165.3L588.6 166.8L588.9 168.2L589.1 169.6L589.3 171.0L589.6 172.4L589.8 173.7L590.0 175.0L590.3 176.2L590.5 177.3L590.6 178.3L590.8 179.2L590.9 180.0L591.1 180.7L598.9 179.3L598.8 178.6L598.7 177.8L598.5 176.9L598.3 175.9L598.1 174.8L597.9 173.6L597.7 172.3L597.4 171.0L597.2 169.7L597.0 168.3L596.8 166.9L596.5 165.5L596.3 164.2L596.1 162.8L596.0 161.5L595.8 160.2L595.6 158.8L595.5 157.4L595.3 156.0L595.1 154.5L595.0 153.1L594.8 151.6L594.7 150.1L594.5 148.6L594.4 147.2L594.3 145.7L594.2 144.2L594.1 142.8L594.0 141.3L594.0 139.9L594.0 138.4L593.9 136.9L593.9 135.4L593.9 133.8L593.9 132.3L593.9 130.7L594.0 129.1L594.0 127.6L594.1 126.1L594.2 124.7L594.3 123.4L594.4 122.1L594.6 120.9L594.7 119.8L594.9 118.9L595.1 118.1L595.3 117.4L595.6 116.7L595.9 116.1L596.3 115.5L596.7 114.9L597.1 114.3L597.5 113.8L597.9 113.2L598.3 112.7L598.7 112.2L599.2 111.8L599.6 111.3L600.0 110.7L600.3 110.2Z" fill="#bdbdbd" stroke="#666" stroke-width="0.8" stroke-linejoin="round"/>
<path d="M597.0 108.0L596.8 108.4L596.5 108.7L596.1 109.2L595.7 109.6L595.3 110.1L594.8 110.7L594.3 111.3L593.8 112.0L593.3 112.7L592.9 113.4L592.4 114.2L592.0 115.1L591.6 116.0L591.3 117.0L591.0 118.0L590.8 119.1L590.6 120.3L590.4 121.6L590.3 123.0L590.2 124.4L590.1 125.9L590.0 127.5L590.0 129.0L589.9 130.6L589.9 132.2L589.9 133.8L589.9 135.4L589.9 137.0L590.0 138.5L590.0 140.0L590.0 141.5L590.1 143.0L590.2 144.5L590.3 146.0L590.4 147.5L590.5 149.0L590.7 150.5L590.8 152.0L591.0 153.5L591.1 155.0L591.3 156.4L591.5 157.9L591.7 159.3L591.8 160.6L592.0 162.0L592.2 163.4L592.4 164.7L592.6 166.1L592.8 167.6L593.0 169.0L593.3 170.4L593.5 171.7L593.7 173.0L594.0 174.3L594.2 175.5L594.4 176.6L594.6 177.6L594.7 178.5L594.9 179.3L595.0 180.0L598.9 179.3L598.8 178.6L598.7 177.8L598.5 176.9L598.3 175.9L598.1 174.8L597.9 173.6L597.7 172.3L597.4 171.0L597.2 169.7L597.0 168.3L596.8 166.9L596.5 165.5L596.3 164.2L596.1 162.8L596.0 161.5L595.8 160.2L595.6 158.8L595.5 157.4L595.3 156.0L595.1 154.5L595.0 153.1L594.8 151.6L594.7 150.1L594.5 148.6L594.4 147.2L594.3 145.7L594.2 144.2L594.1 142.8L594.0 141.3L594.0 139.9L594.0 138.4L593.9 136.9L593.9 135.4L593.9 133.8L593.9 132.3L593.9 130.7L594.0 129.1L594.0 127.6L594.1 126.1L594.2 124.7L594.3 123.4L594.4 122.1L594.6 120.9L594.7 119.8L594.9 118.9L595.1 118.1L595.3 117.4L595.6 116.7L595.9 116.1L596.3 115.5L596.7 114.9L597.1 114.3L597.5 113.8L597.9 113.2L598.3 112.7L598.7 112.2L599.2 111.8L599.6 111.3L600.0 110.7L600.3 110.2Z" fill="#adadad" stroke="none"/>
<path d="M584.0 112.0C585.0 111.0 587.8 106.8 590.0 106.0C592.2 105.2 595.2 105.8 597.0 107.0C598.8 108.2 600.3 112.0 601.0 113.0" fill="none" stroke="#6a6a6a" stroke-width="4.0" stroke-linecap="round" stroke-linejoin="round"/>
<path d="M584.0 112.0C585.0 111.0 587.8 106.8 590.0 106.0C592.2 105.2 595.2 105.8 597.0 107.0C598.8 108.2 600.3 112.0 601.0 113.0" fill="none" stroke="#c9c9c9" stroke-width="2.9" stroke-linecap="round" stroke-linejoin="round"/>
<path d="M584.0 112.0C585.0 111.0 587.8 106.8 590.0 106.0C592.2 105.2 595.2 105.8 597.0 107.0C598.8 108.2 600.3 112.0 601.0 113.0" fill="none" stroke="#ececec" stroke-width="1.0" stroke-linecap="round" stroke-linejoin="round" transform="translate(-0.4,-0.5)"/>
<path d="M580.0 110.0L591.0 108.0L592.0 114.0Z" fill="#3a3a3a" stroke="#4a4a4a" stroke-width="0.7" stroke-linejoin="round"/>
<path d="M635.2 84.1L634.4 84.2L633.4 84.3L632.1 84.5L630.5 84.7L628.8 84.9L627.0 85.2L625.1 85.6L623.3 86.1L621.4 86.8L619.6 87.6L618.2 88.5L616.9 89.4L615.6 90.3L614.4 91.4L613.3 92.6L612.2 93.8L611.2 95.2L610.3 96.6L609.4 98.1L608.5 99.8L607.7 101.6L606.9 103.6L606.2 105.6L605.5 107.6L604.9 109.8L604.3 112.0L603.8 114.2L603.2 116.4L602.7 118.6L602.1 120.8L601.6 123.1L601.0 125.5L600.5 128.0L599.9 130.5L599.4 133.0L598.9 135.5L598.4 138.0L597.9 140.5L597.5 142.8L597.1 145.1L596.7 147.3L596.3 149.6L596.0 151.7L595.7 153.8L595.4 155.9L595.1 157.9L594.8 159.9L594.6 161.8L594.3 163.6L594.1 165.3L593.8 167.0L593.6 168.7L593.3 170.4L593.1 172.0L592.9 173.5L592.7 175.0L592.5 176.3L592.3 177.5L592.2 178.5L592.0 179.3L602.0 180.7L602.1 179.9L602.2 178.9L602.4 177.7L602.6 176.4L602.8 175.0L603.0 173.4L603.2 171.8L603.5 170.1L603.7 168.4L603.9 166.7L604.2 165.0L604.5 163.1L604.7 161.3L605.0 159.3L605.3 157.3L605.6 155.3L605.9 153.2L606.2 151.1L606.5 149.0L606.9 146.9L607.3 144.7L607.8 142.3L608.2 139.9L608.7 137.5L609.2 135.0L609.7 132.5L610.2 130.1L610.8 127.7L611.3 125.4L611.9 123.2L612.4 121.0L612.9 118.8L613.5 116.6L614.0 114.5L614.6 112.5L615.1 110.5L615.7 108.7L616.3 107.0L616.9 105.5L617.5 104.2L618.1 103.0L618.8 101.9L619.4 100.9L620.1 100.1L620.7 99.3L621.4 98.6L622.1 98.0L622.8 97.4L623.6 96.9L624.4 96.4L625.1 96.0L626.2 95.7L627.4 95.4L628.8 95.1L630.3 94.8L631.8 94.6L633.3 94.4L634.6 94.3L635.9 94.1L636.8 93.9Z" fill="#c3c3c3" stroke="#555" stroke-width="0.8" stroke-linejoin="round"/>
<path d="M636.0 89.0L635.1 89.1L634.0 89.3L632.7 89.5L631.2 89.6L629.6 89.9L627.9 90.2L626.3 90.5L624.7 90.9L623.3 91.4L622.0 92.0L620.9 92.7L619.8 93.4L618.8 94.2L617.9 95.0L617.0 95.9L616.1 96.9L615.3 98.0L614.5 99.2L613.8 100.6L613.0 102.0L612.3 103.6L611.6 105.3L610.9 107.1L610.3 109.1L609.8 111.1L609.2 113.2L608.6 115.4L608.1 117.6L607.5 119.8L607.0 122.0L606.5 124.3L605.9 126.6L605.4 129.0L604.8 131.5L604.3 134.0L603.8 136.5L603.3 139.0L602.9 141.4L602.4 143.7L602.0 146.0L601.6 148.2L601.3 150.4L600.9 152.5L600.6 154.6L600.3 156.6L600.0 158.6L599.8 160.6L599.5 162.4L599.3 164.3L599.0 166.0L598.8 167.7L598.5 169.4L598.3 171.1L598.0 172.7L597.8 174.2L597.6 175.7L597.4 177.0L597.3 178.2L597.1 179.2L597.0 180.0L602.0 180.7L602.1 179.9L602.2 178.9L602.4 177.7L602.6 176.4L602.8 175.0L603.0 173.4L603.2 171.8L603.5 170.1L603.7 168.4L603.9 166.7L604.2 165.0L604.5 163.1L604.7 161.3L605.0 159.3L605.3 157.3L605.6 155.3L605.9 153.2L606.2 151.1L606.5 149.0L606.9 146.9L607.3 144.7L607.8 142.3L608.2 139.9L608.7 137.5L609.2 135.0L609.7 132.5L610.2 130.1L610.8 127.7L611.3 125.4L611.9 123.2L612.4 121.0L612.9 118.8L613.5 116.6L614.0 114.5L614.6 112.5L615.1 110.5L615.7 108.7L616.3 107.0L616.9 105.5L617.5 104.2L618.1 103.0L618.8 101.9L619.4 100.9L620.1 100.1L620.7 99.3L621.4 98.6L622.1 98.0L622.8 97.4L623.6 96.9L624.4 96.4L625.1 96.0L626.2 95.7L627.4 95.4L628.8 95.1L630.3 94.8L631.8 94.6L633.3 94.4L634.6 94.3L635.9 94.1L636.8 93.9Z" fill="#b0b0b0" stroke="none"/>
<path d="M645.2 86.5L645.0 86.7L644.6 86.9L644.1 87.2L643.4 87.7L642.6 88.2L641.7 88.8L640.8 89.5L639.8 90.3L638.9 91.2L637.9 92.2L637.0 93.4L636.1 94.7L635.4 96.0L634.8 97.3L634.2 98.6L633.6 100.0L633.1 101.5L632.6 103.0L632.0 104.5L631.5 106.1L631.1 107.8L630.6 109.4L630.1 111.1L629.6 112.8L629.2 114.7L628.7 116.6L628.3 118.6L627.8 120.6L627.4 122.7L627.0 124.8L626.5 126.9L626.1 129.0L625.7 131.1L625.3 133.2L625.0 135.2L624.6 137.1L624.2 139.1L623.9 141.0L623.5 142.9L623.2 144.8L622.8 146.6L622.5 148.5L622.2 150.3L621.9 152.1L621.5 153.9L621.2 155.7L620.9 157.4L620.6 159.2L620.2 160.9L619.9 162.8L619.5 164.7L619.1 166.7L618.7 168.6L618.3 170.5L618.0 172.3L617.6 174.0L617.3 175.6L617.0 177.0L616.8 178.1L616.6 179.1L625.4 180.9L625.6 179.9L625.8 178.7L626.1 177.4L626.4 175.8L626.8 174.1L627.2 172.3L627.5 170.4L627.9 168.4L628.3 166.5L628.7 164.5L629.1 162.7L629.4 160.8L629.8 159.1L630.1 157.3L630.4 155.5L630.7 153.7L631.0 151.9L631.4 150.0L631.7 148.2L632.0 146.3L632.4 144.5L632.7 142.6L633.1 140.8L633.4 138.9L633.8 136.9L634.2 134.9L634.6 132.8L635.0 130.7L635.4 128.6L635.8 126.6L636.2 124.5L636.6 122.5L637.0 120.5L637.5 118.6L637.9 116.9L638.4 115.2L638.8 113.5L639.3 111.9L639.7 110.3L640.2 108.8L640.6 107.3L641.1 105.9L641.5 104.6L642.0 103.3L642.5 102.1L643.0 101.1L643.4 100.1L643.9 99.3L644.3 98.7L644.7 98.1L645.2 97.6L645.8 97.0L646.4 96.6L647.0 96.1L647.6 95.6L648.3 95.2L648.9 94.8L649.6 94.4L650.2 94.0L650.8 93.5Z" fill="#c8c8c8" stroke="#555" stroke-width="0.8" stroke-linejoin="round"/>
<path d="M648.0 90.0L647.6 90.3L647.1 90.6L646.5 91.0L645.9 91.4L645.1 91.9L644.4 92.4L643.6 93.0L642.8 93.7L642.0 94.4L641.3 95.2L640.6 96.0L640.0 97.0L639.4 98.0L638.9 99.2L638.3 100.4L637.8 101.7L637.3 103.0L636.8 104.4L636.3 105.9L635.9 107.4L635.4 109.0L634.9 110.6L634.5 112.3L634.0 114.0L633.5 115.8L633.1 117.6L632.7 119.6L632.2 121.6L631.8 123.6L631.4 125.7L631.0 127.8L630.6 129.9L630.2 132.0L629.8 134.0L629.4 136.0L629.0 138.0L628.6 139.9L628.3 141.8L627.9 143.7L627.6 145.6L627.3 147.4L626.9 149.2L626.6 151.1L626.3 152.9L626.0 154.7L625.7 156.5L625.3 158.2L625.0 160.0L624.7 161.8L624.3 163.7L623.9 165.6L623.5 167.6L623.1 169.5L622.8 171.4L622.4 173.2L622.0 174.9L621.7 176.5L621.4 177.8L621.2 179.0L621.0 180.0L625.4 180.9L625.6 179.9L625.8 178.7L626.1 177.4L626.4 175.8L626.8 174.1L627.2 172.3L627.5 170.4L627.9 168.4L628.3 166.5L628.7 164.5L629.1 162.7L629.4 160.8L629.8 159.1L630.1 157.3L630.4 155.5L630.7 153.7L631.0 151.9L631.4 150.0L631.7 148.2L632.0 146.3L632.4 144.5L632.7 142.6L633.1 140.8L633.4 138.9L633.8 136.9L634.2 134.9L634.6 132.8L635.0 130.7L635.4 128.6L635.8 126.6L636.2 124.5L636.6 122.5L637.0 120.5L637.5 118.6L637.9 116.9L638.4 115.2L638.8 113.5L639.3 111.9L639.7 110.3L640.2 108.8L640.6 107.3L641.1 105.9L641.5 104.6L642.0 103.3L642.5 102.1L643.0 101.1L643.4 100.1L643.9 99.3L644.3 98.7L644.7 98.1L645.2 97.6L645.8 97.0L646.4 96.6L647.0 96.1L647.6 95.6L648.3 95.2L648.9 94.8L649.6 94.4L650.2 94.0L650.8 93.5Z" fill="#b6b6b6" stroke="none"/>
<path d="M591.0 180.0L608.0 180.0L604.0 191.0Z" fill="#454545" stroke="#4a4a4a" stroke-width="0.7" stroke-linejoin="round"/>
<path d="M611.0 180.0L624.0 180.0L619.0 190.0Z" fill="#dcdcdc" stroke="#777" stroke-width="0.7" stroke-linejoin="round"/>
<path d="M600.6 185.3L599.7 185.0L598.5 184.5L597.0 183.9L595.2 183.2L593.5 182.7L591.7 182.3L590.0 182.2L588.4 182.4L586.9 182.7L585.4 183.2L583.9 183.8L582.6 184.7L581.4 185.8L580.4 187.1L579.8 188.7L579.4 190.5L579.1 192.4L579.1 194.3L579.3 196.3L579.7 198.2L580.4 199.9L581.5 201.4L582.9 202.7L584.5 203.9L586.3 205.0L588.1 205.8L590.0 206.5L591.8 206.8L593.8 206.8L595.7 206.4L597.7 205.8L599.5 205.1L601.3 204.2L602.8 203.3L604.1 202.4L605.3 201.4L606.3 200.2L607.1 198.8L607.7 197.5L608.0 196.1L608.1 194.6L607.5 193.0L606.4 191.9L605.0 191.1L603.5 190.4L601.8 189.9L600.1 189.5L598.5 189.3L597.0 189.2L595.5 189.4L594.0 189.8L592.7 190.4L591.5 191.0L590.5 191.6L589.7 192.1L589.2 192.4L590.8 195.6L591.5 195.2L592.4 194.7L593.3 194.2L594.3 193.6L595.3 193.2L596.2 192.9L597.0 192.8L598.1 192.9L599.4 193.1L600.9 193.4L602.3 193.8L603.5 194.3L604.2 194.7L604.5 195.0L604.5 195.1L604.5 195.5L604.3 196.3L603.9 197.2L603.3 198.1L602.6 198.9L601.9 199.6L600.9 200.3L599.6 201.1L598.1 201.8L596.5 202.4L594.9 202.9L593.4 203.2L592.2 203.2L590.9 203.0L589.4 202.5L588.0 201.8L586.5 200.9L585.3 200.0L584.2 199.0L583.6 198.1L583.1 197.1L582.8 195.7L582.7 194.2L582.7 192.6L582.9 191.1L583.2 189.8L583.6 188.9L584.1 188.2L584.7 187.6L585.6 187.0L586.7 186.5L587.8 186.2L589.0 185.9L590.0 185.8L591.2 185.9L592.5 186.2L594.1 186.7L595.7 187.2L597.1 187.8L598.4 188.3L599.4 188.7Z" fill="#d2d2d2" stroke="#6a6a6a" stroke-width="0.8" stroke-linejoin="round"/>
<path d="M615.1 176.4L615.3 177.1L615.5 178.0L615.8 179.1L616.1 180.2L616.4 181.5L616.7 182.8L617.0 184.2L617.3 185.5L617.6 186.8L617.8 188.1L618.0 189.2L618.1 190.2L618.2 191.1L618.2 192.0L618.3 192.9L618.3 193.7L618.3 194.4L618.2 195.2L618.2 195.9L618.1 196.6L617.9 197.2L617.7 197.9L617.5 198.6L617.3 199.3L616.9 199.9L616.5 200.6L616.1 201.4L615.6 202.1L615.0 202.9L614.4 203.6L613.8 204.3L613.1 205.1L612.5 205.8L611.9 206.4L611.2 207.1L610.7 207.6L610.2 208.1L609.6 208.5L609.1 208.9L608.4 209.2L607.7 209.6L607.1 209.9L606.4 210.3L605.7 210.7L605.0 211.2L604.3 211.7L603.7 212.4L603.2 213.3L603.0 214.3L602.9 215.2L603.0 216.1L603.2 217.0L603.5 217.8L603.8 218.5L604.1 219.3L604.4 219.9L604.7 220.5L605.0 221.0L605.1 221.4L605.2 221.6L608.8 220.4L608.6 219.9L608.4 219.4L608.1 218.9L607.9 218.3L607.6 217.7L607.3 217.1L607.1 216.5L606.9 215.9L606.8 215.4L606.7 215.0L606.7 214.8L606.8 214.7L606.8 214.6L607.0 214.5L607.3 214.2L607.7 213.9L608.2 213.6L608.8 213.3L609.5 212.9L610.3 212.6L611.0 212.1L611.8 211.6L612.6 211.0L613.3 210.4L614.0 209.7L614.6 209.1L615.3 208.4L616.0 207.6L616.7 206.8L617.3 206.0L618.0 205.2L618.7 204.3L619.3 203.5L619.8 202.6L620.3 201.7L620.7 200.7L621.1 199.9L621.4 199.0L621.6 198.1L621.8 197.2L621.9 196.3L622.0 195.5L622.1 194.6L622.1 193.7L622.1 192.7L622.0 191.8L622.0 190.8L621.9 189.8L621.8 188.7L621.6 187.4L621.3 186.1L621.0 184.7L620.7 183.3L620.4 181.9L620.1 180.6L619.8 179.3L619.5 178.1L619.2 177.1L619.0 176.3L618.9 175.6Z" fill="#d4d4d4" stroke="#6a6a6a" stroke-width="0.8" stroke-linejoin="round"/>
<path d="M608.4 222.7L608.9 222.3L609.5 221.8L610.2 221.2L610.9 220.5L611.7 219.8L612.5 219.1L613.4 218.4L614.2 217.7L615.0 217.1L615.7 216.6L616.3 216.3L616.7 216.1L617.1 216.0L617.5 216.0L617.9 216.0L618.2 216.0L618.6 216.1L619.0 216.2L619.4 216.3L619.8 216.5L620.2 216.8L620.7 217.1L621.1 217.4L621.6 217.8L622.1 218.2L622.7 218.7L623.3 219.2L623.8 219.8L624.4 220.4L625.0 221.0L625.5 221.6L625.9 222.3L626.2 222.9L626.5 223.4L626.7 223.9L626.8 224.2L626.8 224.5L626.7 224.9L626.5 225.4L626.2 226.0L625.8 226.7L625.4 227.4L624.9 228.2L624.4 229.0L623.9 229.8L623.5 230.7L623.1 231.6L622.8 232.5L622.7 233.4L622.6 234.3L622.7 235.1L622.8 235.8L622.9 236.5L623.1 237.2L623.3 237.7L623.4 238.3L623.6 238.7L623.7 239.1L623.8 239.3L623.8 239.5L628.2 238.5L628.1 238.1L628.0 237.7L627.8 237.3L627.7 236.9L627.6 236.4L627.4 236.0L627.3 235.5L627.2 235.1L627.2 234.6L627.1 234.2L627.2 233.8L627.2 233.5L627.3 233.1L627.5 232.7L627.8 232.1L628.3 231.4L628.7 230.6L629.2 229.8L629.7 228.9L630.2 228.0L630.7 227.1L631.0 226.1L631.2 224.9L631.2 223.8L631.0 222.7L630.7 221.7L630.2 220.7L629.7 219.8L629.1 219.0L628.4 218.1L627.7 217.3L627.1 216.6L626.4 215.9L625.7 215.3L625.0 214.7L624.4 214.2L623.8 213.8L623.2 213.3L622.5 212.9L621.9 212.6L621.2 212.2L620.4 211.9L619.6 211.7L618.8 211.5L618.0 211.5L617.1 211.5L616.2 211.6L615.3 211.9L614.3 212.3L613.3 212.8L612.4 213.4L611.4 214.1L610.5 214.9L609.6 215.7L608.7 216.4L607.9 217.2L607.1 217.9L606.5 218.5L606.0 218.9L605.6 219.3Z" fill="#d2d2d2" stroke="#6a6a6a" stroke-width="0.8" stroke-linejoin="round"/>
<path d="M629.0 222.0C630.8 222.3 636.7 223.3 640.0 224.0C643.3 224.7 646.8 226.8 649.0 226.0C651.2 225.2 652.0 221.3 653.0 219.0C654.0 216.7 653.2 213.5 655.0 212.0C656.8 210.5 661.0 210.8 664.0 210.0C667.0 209.2 671.5 207.5 673.0 207.0" fill="none" stroke="#6a6a6a" stroke-width="4.5" stroke-linecap="round" stroke-linejoin="round"/>
<path d="M629.0 222.0C630.8 222.3 636.7 223.3 640.0 224.0C643.3 224.7 646.8 226.8 649.0 226.0C651.2 225.2 652.0 221.3 653.0 219.0C654.0 216.7 653.2 213.5 655.0 212.0C656.8 210.5 661.0 210.8 664.0 210.0C667.0 209.2 671.5 207.5 673.0 207.0" fill="none" stroke="#c8c8c8" stroke-width="3.4" stroke-linecap="round" stroke-linejoin="round"/>
<path d="M629.0 222.0C630.8 222.3 636.7 223.3 640.0 224.0C643.3 224.7 646.8 226.8 649.0 226.0C651.2 225.2 652.0 221.3 653.0 219.0C654.0 216.7 653.2 213.5 655.0 212.0C656.8 210.5 661.0 210.8 664.0 210.0C667.0 209.2 671.5 207.5 673.0 207.0" fill="none" stroke="#ececec" stroke-width="1.2" stroke-linecap="round" stroke-linejoin="round" transform="translate(-0.4,-0.5)"/>
<path d="M657.1 180.6L657.1 180.9L657.2 181.1L657.2 181.5L657.3 181.8L657.4 182.2L657.5 182.7L657.5 183.1L657.6 183.6L657.7 184.1L657.8 184.6L657.9 185.1L658.0 185.6L658.1 186.2L658.3 186.8L658.4 187.3L658.5 187.9L658.6 188.5L658.7 189.1L658.8 189.7L658.9 190.3L659.1 190.8L659.2 191.4L659.3 192.0L659.4 192.6L659.5 193.1L659.6 193.7L659.8 194.2L659.9 194.7L660.0 195.2L660.1 195.7L660.2 196.1L660.3 196.6L660.4 197.1L660.5 197.5L660.6 198.0L660.7 198.5L660.8 199.0L661.0 199.4L661.1 199.9L661.2 200.4L661.3 200.9L661.4 201.3L661.6 201.8L661.7 202.2L661.8 202.7L661.9 203.1L662.0 203.5L662.1 204.0L662.2 204.4L662.3 204.8L662.4 205.1L662.5 205.5L662.6 205.8L662.7 206.2L662.8 206.5L662.8 206.8L662.9 207.0L663.0 207.3L663.0 207.5L663.1 207.7L668.9 206.3L668.9 206.1L668.8 205.8L668.7 205.6L668.7 205.3L668.6 205.0L668.5 204.7L668.4 204.3L668.3 204.0L668.2 203.6L668.1 203.2L668.0 202.9L667.9 202.5L667.8 202.0L667.7 201.6L667.6 201.2L667.5 200.8L667.4 200.3L667.3 199.9L667.1 199.4L667.0 198.9L666.9 198.5L666.8 198.0L666.7 197.5L666.6 197.1L666.5 196.6L666.3 196.2L666.2 195.7L666.1 195.2L666.0 194.8L665.9 194.3L665.8 193.9L665.7 193.4L665.6 192.9L665.5 192.4L665.4 191.9L665.3 191.3L665.2 190.8L665.1 190.2L664.9 189.7L664.8 189.1L664.7 188.5L664.6 187.9L664.5 187.3L664.4 186.8L664.3 186.2L664.1 185.6L664.0 185.0L663.9 184.5L663.8 184.0L663.7 183.4L663.6 182.9L663.5 182.4L663.4 182.0L663.4 181.5L663.3 181.1L663.2 180.7L663.1 180.3L663.1 180.0L663.0 179.7L662.9 179.4Z" fill="#e2e2e2" stroke="#808080" stroke-width="0.8" stroke-linejoin="round"/>
<path d="M654.2 112.5L654.3 113.3L654.5 114.3L654.7 115.5L654.9 116.8L655.1 118.2L655.3 119.7L655.6 121.2L655.8 122.7L656.1 124.3L656.3 125.8L656.5 127.2L656.7 128.4L656.8 129.6L657.0 130.8L657.1 132.0L657.2 133.2L657.2 134.3L657.3 135.5L657.4 136.7L657.6 137.9L657.7 139.1L657.9 140.3L658.1 141.5L658.3 142.8L658.7 144.0L659.0 145.2L659.4 146.3L659.9 147.3L660.3 148.3L660.7 149.2L661.1 150.2L661.5 151.1L661.9 152.0L662.2 152.9L662.5 153.8L662.7 154.8L663.0 155.9L663.2 157.0L663.4 158.3L663.6 159.6L663.8 160.9L663.9 162.3L664.1 163.6L664.2 165.0L664.3 166.3L664.5 167.7L664.6 169.0L664.7 170.2L664.7 171.5L664.8 172.8L664.9 174.1L664.9 175.4L664.9 176.7L664.9 178.0L664.9 179.3L664.9 180.4L664.9 181.5L664.9 182.5L664.9 183.4L665.0 184.0L671.6 184.0L671.6 183.3L671.6 182.5L671.6 181.5L671.6 180.4L671.6 179.2L671.6 178.0L671.6 176.6L671.6 175.3L671.5 173.9L671.5 172.5L671.4 171.1L671.3 169.8L671.2 168.5L671.1 167.1L671.0 165.7L670.9 164.3L670.7 162.9L670.6 161.5L670.4 160.1L670.2 158.6L670.0 157.2L669.8 155.9L669.5 154.5L669.3 153.2L668.9 152.0L668.5 150.7L668.1 149.6L667.7 148.5L667.3 147.5L666.8 146.5L666.4 145.6L666.0 144.7L665.7 143.8L665.4 143.0L665.1 142.1L664.9 141.2L664.7 140.3L664.5 139.3L664.3 138.3L664.2 137.2L664.1 136.1L664.0 135.0L663.9 133.8L663.8 132.6L663.7 131.4L663.6 130.1L663.5 128.9L663.3 127.6L663.1 126.2L662.9 124.8L662.7 123.3L662.5 121.7L662.2 120.1L662.0 118.6L661.7 117.1L661.5 115.7L661.3 114.4L661.1 113.2L660.9 112.2L660.8 111.5Z" fill="#e8e8e8" stroke="#777" stroke-width="0.8" stroke-linejoin="round"/>
<path d="M652.5 125.5L652.5 126.2L652.4 127.1L652.3 128.1L652.2 129.3L652.0 130.5L651.9 131.8L651.8 133.1L651.6 134.5L651.5 135.8L651.3 137.1L651.2 138.3L651.0 139.4L650.9 140.4L650.7 141.5L650.6 142.5L650.4 143.5L650.2 144.5L650.1 145.5L649.9 146.5L649.7 147.4L649.5 148.4L649.4 149.4L649.2 150.3L649.1 151.3L648.9 152.3L648.8 153.3L648.7 154.3L648.6 155.2L648.6 156.0L648.5 156.8L648.4 157.5L648.4 158.2L648.3 158.8L648.1 159.3L648.0 159.8L647.8 160.4L647.6 160.9L647.3 161.5L646.9 162.1L646.6 162.8L646.1 163.4L645.7 164.1L645.2 164.8L644.7 165.5L644.1 166.1L643.6 166.8L643.1 167.5L642.5 168.1L642.0 168.7L641.5 169.3L640.9 169.9L640.3 170.6L639.7 171.2L639.0 171.8L638.4 172.4L637.8 173.0L637.2 173.5L636.7 174.0L636.2 174.4L635.9 174.8L642.1 181.2L642.4 180.9L642.8 180.5L643.3 180.1L643.9 179.6L644.6 179.0L645.2 178.3L645.9 177.6L646.7 176.9L647.4 176.2L648.1 175.4L648.8 174.6L649.5 173.9L650.0 173.2L650.6 172.4L651.2 171.7L651.8 170.9L652.4 170.1L653.0 169.3L653.6 168.4L654.2 167.5L654.7 166.6L655.3 165.7L655.7 164.7L656.2 163.6L656.6 162.6L656.9 161.5L657.1 160.5L657.3 159.5L657.4 158.5L657.5 157.6L657.6 156.7L657.6 155.9L657.7 155.0L657.8 154.2L657.8 153.5L657.9 152.7L658.1 151.8L658.2 150.9L658.4 150.0L658.6 149.0L658.8 148.0L658.9 147.0L659.1 146.0L659.3 145.0L659.5 143.9L659.6 142.8L659.8 141.7L660.0 140.6L660.1 139.4L660.3 138.1L660.4 136.8L660.6 135.4L660.7 134.1L660.9 132.7L661.0 131.4L661.1 130.1L661.2 129.0L661.3 128.0L661.4 127.1L661.5 126.5Z" fill="#e6e6e6" stroke="#666" stroke-width="0.8" stroke-linejoin="round"/>
<path d="M652.5 125.5L652.5 125.7L652.5 125.8L652.5 126.0L652.4 126.3L652.4 126.5L652.4 126.7L652.4 127.0L652.3 127.3L652.3 127.5L652.3 127.8L652.2 128.1L652.2 128.5L652.2 128.8L652.1 129.1L652.1 129.4L652.1 129.8L652.0 130.1L652.0 130.5L651.9 130.8L651.9 131.2L651.9 131.5L651.8 131.9L651.8 132.2L651.7 132.6L651.7 132.9L651.7 133.2L651.6 133.6L651.6 133.9L651.6 134.2L651.5 134.5L651.5 134.8L651.5 135.1L651.4 135.4L651.4 135.8L651.3 136.1L651.3 136.4L651.3 136.8L651.2 137.1L651.2 137.5L651.2 137.8L651.1 138.2L651.1 138.5L651.0 138.9L651.0 139.2L651.0 139.6L650.9 139.9L650.9 140.2L650.9 140.6L650.8 140.9L650.8 141.2L650.8 141.5L650.7 141.7L650.7 142.0L650.7 142.3L650.6 142.5L650.6 142.8L650.6 143.0L650.6 143.2L650.5 143.3L650.5 143.5L659.5 144.5L659.5 144.3L659.5 144.2L659.5 144.0L659.6 143.7L659.6 143.5L659.6 143.3L659.6 143.0L659.7 142.7L659.7 142.5L659.7 142.2L659.8 141.9L659.8 141.5L659.8 141.2L659.9 140.9L659.9 140.6L659.9 140.2L660.0 139.9L660.0 139.5L660.1 139.2L660.1 138.8L660.1 138.5L660.2 138.1L660.2 137.8L660.3 137.4L660.3 137.1L660.3 136.8L660.4 136.4L660.4 136.1L660.4 135.8L660.5 135.5L660.5 135.2L660.5 134.9L660.6 134.6L660.6 134.2L660.7 133.9L660.7 133.6L660.7 133.2L660.8 132.9L660.8 132.5L660.8 132.2L660.9 131.8L660.9 131.5L661.0 131.1L661.0 130.8L661.0 130.4L661.1 130.1L661.1 129.8L661.1 129.4L661.2 129.1L661.2 128.8L661.2 128.5L661.3 128.3L661.3 128.0L661.3 127.7L661.4 127.5L661.4 127.2L661.4 127.0L661.4 126.8L661.5 126.7L661.5 126.5Z" fill="#3d68c8" stroke="#2a4aa0" stroke-width="0.8" stroke-linejoin="round"/>
<path d="M648.2 159.5L648.1 159.7L648.0 159.9L647.9 160.1L647.7 160.3L647.6 160.6L647.4 160.8L647.2 161.1L647.0 161.4L646.8 161.7L646.6 162.0L646.4 162.3L646.2 162.6L646.0 163.0L645.8 163.3L645.6 163.6L645.4 164.0L645.2 164.3L644.9 164.7L644.7 165.0L644.5 165.4L644.3 165.7L644.0 166.0L643.8 166.3L643.6 166.7L643.4 167.0L643.2 167.2L643.0 167.5L642.8 167.8L642.6 168.0L642.4 168.2L642.3 168.5L642.1 168.7L641.9 168.9L641.7 169.1L641.5 169.4L641.3 169.6L641.1 169.8L640.9 170.1L640.7 170.3L640.5 170.5L640.3 170.8L640.0 171.0L639.8 171.2L639.6 171.5L639.4 171.7L639.2 171.9L639.0 172.1L638.8 172.3L638.6 172.5L638.4 172.7L638.2 172.9L638.0 173.1L637.8 173.3L637.6 173.5L637.4 173.7L637.3 173.8L637.1 174.0L637.0 174.1L636.8 174.3L636.7 174.4L643.3 180.6L643.4 180.5L643.5 180.4L643.6 180.3L643.7 180.1L643.9 180.0L644.0 179.8L644.2 179.6L644.4 179.5L644.6 179.3L644.8 179.1L645.0 178.9L645.2 178.6L645.4 178.4L645.6 178.2L645.9 177.9L646.1 177.7L646.3 177.4L646.6 177.2L646.8 176.9L647.1 176.6L647.3 176.4L647.6 176.1L647.8 175.8L648.1 175.5L648.3 175.2L648.6 174.9L648.8 174.7L649.1 174.4L649.3 174.1L649.6 173.8L649.8 173.4L650.0 173.1L650.3 172.8L650.5 172.5L650.8 172.1L651.0 171.8L651.2 171.4L651.5 171.1L651.7 170.7L652.0 170.3L652.2 170.0L652.4 169.6L652.7 169.3L652.9 168.9L653.2 168.5L653.4 168.2L653.6 167.8L653.8 167.5L654.0 167.2L654.2 166.8L654.4 166.5L654.6 166.2L654.8 166.0L655.0 165.7L655.1 165.4L655.3 165.2L655.4 165.0L655.5 164.8L655.7 164.6L655.8 164.5Z" fill="#3d68c8" stroke="#2a4aa0" stroke-width="0.8" stroke-linejoin="round"/>
<path d="M637.6 174.3L637.5 174.4L637.4 174.5L637.3 174.6L637.2 174.7L637.1 174.8L637.0 174.9L636.9 175.0L636.8 175.1L636.7 175.2L636.6 175.3L636.5 175.4L636.5 175.5L636.4 175.6L636.3 175.7L636.2 175.8L636.1 175.9L636.0 176.0L635.9 176.1L635.8 176.2L635.7 176.3L635.6 176.4L635.5 176.5L635.4 176.6L635.4 176.7L635.3 176.8L635.2 176.9L635.1 177.0L635.0 177.1L634.9 177.2L634.8 177.3L634.7 177.4L634.6 177.5L634.5 177.6L634.4 177.7L634.3 177.8L634.3 177.9L634.2 178.0L634.1 178.1L634.0 178.2L633.9 178.3L633.8 178.4L633.7 178.5L633.6 178.6L633.5 178.7L633.4 178.8L633.3 178.9L633.2 179.0L633.2 179.1L633.1 179.2L633.0 179.3L632.9 179.4L632.8 179.5L632.7 179.6L632.6 179.7L632.5 179.8L632.4 179.9L632.3 180.0L632.2 180.1L632.1 180.2L632.1 180.3L637.9 185.7L638.0 185.6L638.1 185.5L638.2 185.4L638.3 185.3L638.4 185.2L638.5 185.1L638.6 185.0L638.7 184.9L638.8 184.8L638.9 184.7L639.0 184.6L639.0 184.5L639.1 184.4L639.2 184.3L639.3 184.2L639.4 184.1L639.5 184.0L639.6 183.9L639.7 183.8L639.8 183.7L639.9 183.6L640.0 183.5L640.1 183.4L640.1 183.3L640.2 183.2L640.3 183.1L640.4 183.0L640.5 182.9L640.6 182.8L640.7 182.7L640.8 182.6L640.9 182.5L641.0 182.4L641.1 182.3L641.2 182.2L641.2 182.1L641.3 182.0L641.4 181.9L641.5 181.8L641.6 181.7L641.7 181.6L641.8 181.5L641.9 181.4L642.0 181.3L642.1 181.2L642.2 181.1L642.3 181.0L642.3 180.9L642.4 180.8L642.5 180.7L642.6 180.6L642.7 180.5L642.8 180.4L642.9 180.3L643.0 180.2L643.1 180.1L643.2 180.0L643.3 179.9L643.4 179.8L643.4 179.7Z" fill="#5a5a5a" stroke="#3a3a3a" stroke-width="0.8" stroke-linejoin="round"/>
<path d="M671.6 126.2L671.6 126.7L671.7 127.4L671.7 128.1L671.7 128.9L671.8 129.8L671.8 130.7L671.9 131.7L671.9 132.8L671.9 133.8L672.0 134.9L672.0 136.0L672.1 137.1L672.1 138.1L672.2 139.2L672.2 140.2L672.2 141.1L672.3 142.1L672.3 143.1L672.3 144.1L672.3 145.1L672.4 146.1L672.4 147.2L672.4 148.2L672.4 149.2L672.5 150.2L672.5 151.2L672.5 152.2L672.5 153.2L672.6 154.2L672.6 155.1L672.6 156.1L672.7 157.0L672.7 158.0L672.7 158.9L672.8 159.8L672.8 160.7L672.8 161.7L672.9 162.6L672.9 163.4L672.9 164.3L673.0 165.1L673.0 165.9L673.0 166.7L673.1 167.5L673.1 168.2L673.1 168.9L673.2 169.6L673.2 170.3L673.3 171.0L673.3 171.6L673.3 172.2L673.4 172.8L673.4 173.4L673.4 173.9L673.5 174.4L673.5 174.9L673.5 175.3L673.6 175.7L673.6 176.0L673.6 176.3L682.4 175.7L682.4 175.4L682.3 175.1L682.3 174.7L682.3 174.3L682.3 173.8L682.2 173.3L682.2 172.8L682.2 172.2L682.1 171.7L682.1 171.1L682.0 170.4L682.0 169.8L682.0 169.1L681.9 168.5L681.9 167.8L681.9 167.1L681.8 166.3L681.8 165.6L681.8 164.8L681.7 163.9L681.7 163.1L681.7 162.2L681.6 161.3L681.6 160.4L681.6 159.5L681.5 158.6L681.5 157.7L681.5 156.7L681.4 155.8L681.4 154.9L681.4 153.9L681.3 153.0L681.3 152.0L681.3 151.0L681.3 150.0L681.2 149.0L681.2 148.0L681.2 146.9L681.2 145.9L681.1 144.9L681.1 143.9L681.1 142.8L681.1 141.8L681.0 140.8L681.0 139.8L681.0 138.8L680.9 137.8L680.9 136.7L680.8 135.6L680.8 134.6L680.7 133.5L680.7 132.4L680.6 131.3L680.6 130.3L680.6 129.4L680.5 128.5L680.5 127.7L680.4 127.0L680.4 126.3L680.4 125.8Z" fill="#e8e8e8" stroke="#777" stroke-width="0.8" stroke-linejoin="round"/>
<path d="M671.6 128.1L671.6 128.4L671.6 128.6L671.6 128.9L671.6 129.1L671.6 129.4L671.6 129.6L671.6 129.9L671.7 130.1L671.7 130.4L671.7 130.6L671.7 130.9L671.7 131.1L671.7 131.4L671.7 131.6L671.7 131.9L671.7 132.1L671.7 132.4L671.7 132.6L671.7 132.9L671.7 133.1L671.7 133.4L671.7 133.6L671.8 133.9L671.8 134.1L671.8 134.4L671.8 134.6L671.8 134.9L671.8 135.1L671.8 135.4L671.8 135.6L671.8 135.9L671.8 136.1L671.8 136.4L671.8 136.6L671.8 136.9L671.8 137.1L671.8 137.4L671.9 137.6L671.9 137.9L671.9 138.1L671.9 138.4L671.9 138.6L671.9 138.9L671.9 139.1L671.9 139.4L671.9 139.6L671.9 139.9L671.9 140.1L671.9 140.4L671.9 140.6L671.9 140.9L671.9 141.1L672.0 141.4L672.0 141.6L672.0 141.9L672.0 142.1L672.0 142.4L672.0 142.6L672.0 142.9L672.0 143.1L680.8 142.9L680.8 142.6L680.8 142.4L680.8 142.1L680.8 141.9L680.8 141.6L680.8 141.4L680.8 141.1L680.7 140.9L680.7 140.6L680.7 140.4L680.7 140.1L680.7 139.9L680.7 139.6L680.7 139.4L680.7 139.1L680.7 138.9L680.7 138.6L680.7 138.4L680.7 138.1L680.7 137.9L680.7 137.6L680.7 137.4L680.6 137.1L680.6 136.9L680.6 136.6L680.6 136.4L680.6 136.1L680.6 135.9L680.6 135.6L680.6 135.4L680.6 135.1L680.6 134.9L680.6 134.6L680.6 134.4L680.6 134.1L680.6 133.9L680.6 133.6L680.5 133.4L680.5 133.1L680.5 132.9L680.5 132.6L680.5 132.4L680.5 132.1L680.5 131.9L680.5 131.6L680.5 131.4L680.5 131.1L680.5 130.9L680.5 130.6L680.5 130.4L680.5 130.1L680.5 129.9L680.4 129.6L680.4 129.4L680.4 129.1L680.4 128.9L680.4 128.6L680.4 128.4L680.4 128.1L680.4 127.9Z" fill="#b0c4e8" stroke="#7a96c8" stroke-width="0.8" stroke-linejoin="round"/>
<path d="M672.6 158.1L672.6 158.3L672.6 158.5L672.6 158.7L672.6 158.9L672.6 159.1L672.6 159.3L672.6 159.5L672.7 159.7L672.7 159.9L672.7 160.1L672.7 160.3L672.7 160.5L672.7 160.7L672.7 160.9L672.7 161.1L672.7 161.3L672.7 161.5L672.7 161.7L672.7 161.9L672.7 162.1L672.7 162.3L672.7 162.5L672.8 162.7L672.8 162.9L672.8 163.1L672.8 163.3L672.8 163.5L672.8 163.7L672.8 163.9L672.8 164.1L672.8 164.3L672.8 164.5L672.8 164.7L672.8 164.9L672.8 165.1L672.8 165.3L672.8 165.5L672.9 165.7L672.9 165.9L672.9 166.1L672.9 166.3L672.9 166.5L672.9 166.7L672.9 166.9L672.9 167.1L672.9 167.3L672.9 167.5L672.9 167.7L672.9 167.9L672.9 168.1L672.9 168.3L672.9 168.5L673.0 168.7L673.0 168.9L673.0 169.1L673.0 169.3L673.0 169.5L673.0 169.7L673.0 169.9L673.0 170.1L681.8 169.9L681.8 169.7L681.8 169.5L681.8 169.3L681.8 169.1L681.8 168.9L681.8 168.7L681.8 168.5L681.7 168.3L681.7 168.1L681.7 167.9L681.7 167.7L681.7 167.5L681.7 167.3L681.7 167.1L681.7 166.9L681.7 166.7L681.7 166.5L681.7 166.3L681.7 166.1L681.7 165.9L681.7 165.7L681.7 165.5L681.6 165.3L681.6 165.1L681.6 164.9L681.6 164.7L681.6 164.5L681.6 164.3L681.6 164.1L681.6 163.9L681.6 163.7L681.6 163.5L681.6 163.3L681.6 163.1L681.6 162.9L681.6 162.7L681.6 162.5L681.5 162.3L681.5 162.1L681.5 161.9L681.5 161.7L681.5 161.5L681.5 161.3L681.5 161.1L681.5 160.9L681.5 160.7L681.5 160.5L681.5 160.3L681.5 160.1L681.5 159.9L681.5 159.7L681.5 159.5L681.4 159.3L681.4 159.1L681.4 158.9L681.4 158.7L681.4 158.5L681.4 158.3L681.4 158.1L681.4 157.9Z" fill="#3d68c8" stroke="#2a4aa0" stroke-width="0.8" stroke-linejoin="round"/>
<path d="M669.5 121.0L684.0 122.0L676.5 131.0Z" fill="#6a96da" stroke="#3456a8" stroke-width="0.7" stroke-linejoin="round"/>
<path d="M661.0 175.0C662.8 175.2 668.5 175.8 672.0 176.0C675.5 176.2 680.3 176.0 682.0 176.0" fill="none" stroke="#2d4fa0" stroke-width="4.9" stroke-linecap="round" stroke-linejoin="round"/>
<path d="M661.0 175.0C662.8 175.2 668.5 175.8 672.0 176.0C675.5 176.2 680.3 176.0 682.0 176.0" fill="none" stroke="#5b82d0" stroke-width="3.8" stroke-linecap="round" stroke-linejoin="round"/>
<path d="M667.0 171.0L677.0 172.0L672.0 180.0Z" fill="#8aa8e2" stroke="#3456a8" stroke-width="0.7" stroke-linejoin="round"/>
<path d="M630.0 185.0L649.0 186.0L642.0 195.0Z" fill="#e2e2e2" stroke="#777" stroke-width="0.7" stroke-linejoin="round"/>
<path d="M637.0 196.0C638.8 195.8 644.7 196.2 648.0 195.0C651.3 193.8 655.5 190.0 657.0 189.0" fill="none" stroke="#3a3a3a" stroke-width="3.8" stroke-linecap="round" stroke-linejoin="round"/>
<path d="M637.0 196.0C638.8 195.8 644.7 196.2 648.0 195.0C651.3 193.8 655.5 190.0 657.0 189.0" fill="none" stroke="#5e5e5e" stroke-width="2.7" stroke-linecap="round" stroke-linejoin="round"/>
<circle cx="656.8" cy="127.5" r="5.3" fill="url(#sg1)"/>
<circle cx="652.1" cy="161.5" r="5.3" fill="url(#sg2)"/>
<circle cx="675.7" cy="125.3" r="4.7" fill="url(#sg3)"/>
<circle cx="661.6" cy="174.3" r="5.2" fill="url(#sg4)"/>
<circle cx="682.5" cy="176.3" r="4.3" fill="url(#sg5)"/>
<path d="M615.0 69.0C615.2 68.0 616.4 65.0 616.0 63.0C615.6 61.0 612.8 59.0 612.5 57.0C612.2 55.0 612.8 52.7 614.0 51.0C615.2 49.3 618.2 48.2 620.0 47.0C621.8 45.8 624.2 44.5 625.0 44.0" fill="none" stroke="#444" stroke-width="4.7" stroke-linecap="round" stroke-linejoin="round"/>
<path d="M615.0 69.0C615.2 68.0 616.4 65.0 616.0 63.0C615.6 61.0 612.8 59.0 612.5 57.0C612.2 55.0 612.8 52.7 614.0 51.0C615.2 49.3 618.2 48.2 620.0 47.0C621.8 45.8 624.2 44.5 625.0 44.0" fill="none" stroke="#6e6e6e" stroke-width="3.6" stroke-linecap="round" stroke-linejoin="round"/>
<path d="M647.0 51.0C644.8 51.8 637.3 53.8 634.0 56.0C630.7 58.2 627.5 61.3 627.0 64.0C626.5 66.7 628.2 69.5 631.0 72.0C633.8 74.5 640.7 77.5 644.0 79.0C647.3 80.5 649.8 80.7 651.0 81.0" fill="none" stroke="#6a6a6a" stroke-width="4.2" stroke-linecap="round" stroke-linejoin="round"/>
<path d="M647.0 51.0C644.8 51.8 637.3 53.8 634.0 56.0C630.7 58.2 627.5 61.3 627.0 64.0C626.5 66.7 628.2 69.5 631.0 72.0C633.8 74.5 640.7 77.5 644.0 79.0C647.3 80.5 649.8 80.7 651.0 81.0" fill="none" stroke="#cfcfcf" stroke-width="3.1" stroke-linecap="round" stroke-linejoin="round"/>
<path d="M647.0 51.0C644.8 51.8 637.3 53.8 634.0 56.0C630.7 58.2 627.5 61.3 627.0 64.0C626.5 66.7 628.2 69.5 631.0 72.0C633.8 74.5 640.7 77.5 644.0 79.0C647.3 80.5 649.8 80.7 651.0 81.0" fill="none" stroke="#ececec" stroke-width="1.1" stroke-linecap="round" stroke-linejoin="round" transform="translate(-0.4,-0.5)"/>
<path d="M651.0 51.0C651.8 50.0 653.8 46.0 656.0 45.0C658.2 44.0 662.7 45.0 664.0 45.0" fill="none" stroke="#6a6a6a" stroke-width="4.0" stroke-linecap="round" stroke-linejoin="round"/>
<path d="M651.0 51.0C651.8 50.0 653.8 46.0 656.0 45.0C658.2 44.0 662.7 45.0 664.0 45.0" fill="none" stroke="#cfcfcf" stroke-width="2.9" stroke-linecap="round" stroke-linejoin="round"/>
<path d="M651.0 51.0C651.8 50.0 653.8 46.0 656.0 45.0C658.2 44.0 662.7 45.0 664.0 45.0" fill="none" stroke="#ececec" stroke-width="1.0" stroke-linecap="round" stroke-linejoin="round" transform="translate(-0.4,-0.5)"/>
<path d="M673.0 57.0C673.2 58.8 674.2 64.5 674.0 68.0C673.8 71.5 672.3 76.3 672.0 78.0" fill="none" stroke="#6a6a6a" stroke-width="4.0" stroke-linecap="round" stroke-linejoin="round"/>
<path d="M673.0 57.0C673.2 58.8 674.2 64.5 674.0 68.0C673.8 71.5 672.3 76.3 672.0 78.0" fill="none" stroke="#cfcfcf" stroke-width="2.9" stroke-linecap="round" stroke-linejoin="round"/>
<path d="M673.0 57.0C673.2 58.8 674.2 64.5 674.0 68.0C673.8 71.5 672.3 76.3 672.0 78.0" fill="none" stroke="#ececec" stroke-width="1.0" stroke-linecap="round" stroke-linejoin="round" transform="translate(-0.4,-0.5)"/>
<path d="M676.0 84.0C677.2 86.0 682.0 92.3 683.0 96.0C684.0 99.7 683.2 103.3 682.0 106.0C680.8 108.7 677.5 110.0 676.0 112.0C674.5 114.0 673.5 117.0 673.0 118.0" fill="none" stroke="#6a6a6a" stroke-width="4.0" stroke-linecap="round" stroke-linejoin="round"/>
<path d="M676.0 84.0C677.2 86.0 682.0 92.3 683.0 96.0C684.0 99.7 683.2 103.3 682.0 106.0C680.8 108.7 677.5 110.0 676.0 112.0C674.5 114.0 673.5 117.0 673.0 118.0" fill="none" stroke="#cfcfcf" stroke-width="2.9" stroke-linecap="round" stroke-linejoin="round"/>
<path d="M676.0 84.0C677.2 86.0 682.0 92.3 683.0 96.0C684.0 99.7 683.2 103.3 682.0 106.0C680.8 108.7 677.5 110.0 676.0 112.0C674.5 114.0 673.5 117.0 673.0 118.0" fill="none" stroke="#ececec" stroke-width="1.0" stroke-linecap="round" stroke-linejoin="round" transform="translate(-0.4,-0.5)"/>
<path d="M673.0 76.0C674.8 74.3 679.8 68.2 684.0 66.0C688.2 63.8 693.2 64.0 698.0 63.0C702.8 62.0 710.5 60.5 713.0 60.0" fill="none" stroke="#444" stroke-width="5.8" stroke-linecap="round" stroke-linejoin="round"/>
<path d="M673.0 76.0C674.8 74.3 679.8 68.2 684.0 66.0C688.2 63.8 693.2 64.0 698.0 63.0C702.8 62.0 710.5 60.5 713.0 60.0" fill="none" stroke="#6b6b6b" stroke-width="4.7" stroke-linecap="round" stroke-linejoin="round"/>
<path d="M660.0 68.0L654.0 79.0" fill="none" stroke="#a08070" stroke-width="4.5" stroke-linecap="round" stroke-linejoin="round"/>
<path d="M660.0 68.0L654.0 79.0" fill="none" stroke="#d8b8a8" stroke-width="3.4" stroke-linecap="round" stroke-linejoin="round"/>
<path d="M634.0 30.0C633.8 28.5 632.0 23.8 632.5 21.0C633.0 18.2 634.9 15.2 637.0 13.0C639.1 10.8 642.5 9.2 645.0 8.0C647.5 6.8 650.3 5.2 652.0 5.5C653.7 5.8 654.5 7.4 655.0 9.5C655.5 11.6 655.2 15.2 655.0 18.0C654.8 20.8 654.7 23.8 654.0 26.0C653.3 28.2 651.5 30.2 651.0 31.0" fill="none" stroke="#6a6a6a" stroke-width="4.0" stroke-linecap="round" stroke-linejoin="round"/>
<path d="M634.0 30.0C633.8 28.5 632.0 23.8 632.5 21.0C633.0 18.2 634.9 15.2 637.0 13.0C639.1 10.8 642.5 9.2 645.0 8.0C647.5 6.8 650.3 5.2 652.0 5.5C653.7 5.8 654.5 7.4 655.0 9.5C655.5 11.6 655.2 15.2 655.0 18.0C654.8 20.8 654.7 23.8 654.0 26.0C653.3 28.2 651.5 30.2 651.0 31.0" fill="none" stroke="#cbcbcb" stroke-width="2.9" stroke-linecap="round" stroke-linejoin="round"/>
<path d="M634.0 30.0C633.8 28.5 632.0 23.8 632.5 21.0C633.0 18.2 634.9 15.2 637.0 13.0C639.1 10.8 642.5 9.2 645.0 8.0C647.5 6.8 650.3 5.2 652.0 5.5C653.7 5.8 654.5 7.4 655.0 9.5C655.5 11.6 655.2 15.2 655.0 18.0C654.8 20.8 654.7 23.8 654.0 26.0C653.3 28.2 651.5 30.2 651.0 31.0" fill="none" stroke="#ececec" stroke-width="1.0" stroke-linecap="round" stroke-linejoin="round" transform="translate(-0.4,-0.5)"/>
<path d="M632.8 22.0C633.0 23.0 633.1 26.0 634.0 28.0C634.9 30.0 637.3 33.0 638.0 34.0" fill="none" stroke="#a8583f" stroke-width="4.0" stroke-linecap="round" stroke-linejoin="round"/>
<path d="M632.8 22.0C633.0 23.0 633.1 26.0 634.0 28.0C634.9 30.0 637.3 33.0 638.0 34.0" fill="none" stroke="#d68a72" stroke-width="2.9" stroke-linecap="round" stroke-linejoin="round"/>
<path d="M655.0 11.0C655.0 12.2 655.2 15.5 655.0 18.0C654.8 20.5 654.2 24.7 654.0 26.0" fill="none" stroke="#b07a66" stroke-width="4.0" stroke-linecap="round" stroke-linejoin="round"/>
<path d="M655.0 11.0C655.0 12.2 655.2 15.5 655.0 18.0C654.8 20.5 654.2 24.7 654.0 26.0" fill="none" stroke="#e2b4a0" stroke-width="2.9" stroke-linecap="round" stroke-linejoin="round"/>
<path d="M625.0 43.0C626.5 43.2 631.2 44.5 634.0 44.0C636.8 43.5 639.3 41.8 642.0 40.0C644.7 38.2 648.7 34.2 650.0 33.0" fill="none" stroke="#6a6a6a" stroke-width="4.0" stroke-linecap="round" stroke-linejoin="round"/>
<path d="M625.0 43.0C626.5 43.2 631.2 44.5 634.0 44.0C636.8 43.5 639.3 41.8 642.0 40.0C644.7 38.2 648.7 34.2 650.0 33.0" fill="none" stroke="#c9c9c9" stroke-width="2.9" stroke-linecap="round" stroke-linejoin="round"/>
<path d="M625.0 43.0C626.5 43.2 631.2 44.5 634.0 44.0C636.8 43.5 639.3 41.8 642.0 40.0C644.7 38.2 648.7 34.2 650.0 33.0" fill="none" stroke="#ececec" stroke-width="1.0" stroke-linecap="round" stroke-linejoin="round" transform="translate(-0.4,-0.5)"/>
<path d="M625.0 43.0L633.0 44.0" fill="none" stroke="#a8583f" stroke-width="4.0" stroke-linecap="round" stroke-linejoin="round"/>
<path d="M625.0 43.0L633.0 44.0" fill="none" stroke="#e0946c" stroke-width="2.9" stroke-linecap="round" stroke-linejoin="round"/>
<path d="M641.0 36.0C641.7 37.7 643.8 43.2 645.0 46.0C646.2 48.8 647.5 51.8 648.0 53.0" fill="none" stroke="#a23a28" stroke-width="4.0" stroke-linecap="round" stroke-linejoin="round"/>
<path d="M641.0 36.0C641.7 37.7 643.8 43.2 645.0 46.0C646.2 48.8 647.5 51.8 648.0 53.0" fill="none" stroke="#d9664c" stroke-width="2.9" stroke-linecap="round" stroke-linejoin="round"/>
<circle cx="625.0" cy="43.0" r="5.2" fill="url(#sg6)"/>
<circle cx="641.0" cy="35.5" r="4.6" fill="url(#sg7)"/>
<circle cx="651.0" cy="32.0" r="5.0" fill="url(#sg8)"/>
<path d="M607.6 80.7L607.7 80.9L607.9 81.0L608.1 81.2L608.3 81.3L608.5 81.5L608.7 81.7L608.9 81.9L609.1 82.1L609.4 82.3L609.6 82.5L609.9 82.8L610.2 83.0L610.5 83.2L610.7 83.5L611.0 83.7L611.3 84.0L611.6 84.3L611.9 84.5L612.2 84.8L612.6 85.1L612.9 85.4L613.2 85.6L613.5 85.9L613.8 86.2L614.1 86.4L614.4 86.7L614.7 87.0L615.0 87.2L615.3 87.5L615.6 87.7L615.9 88.0L616.2 88.3L616.5 88.5L616.8 88.8L617.1 89.1L617.5 89.4L617.8 89.7L618.1 90.0L618.5 90.3L618.8 90.6L619.2 90.9L619.5 91.2L619.9 91.5L620.2 91.9L620.6 92.2L620.9 92.5L621.2 92.8L621.6 93.1L621.9 93.3L622.2 93.6L622.5 93.9L622.8 94.1L623.1 94.4L623.3 94.6L623.6 94.8L623.8 95.1L624.0 95.2L624.2 95.4L624.4 95.6L624.6 95.7L629.4 90.3L629.3 90.1L629.1 90.0L628.9 89.8L628.7 89.6L628.4 89.4L628.2 89.2L627.9 88.9L627.6 88.7L627.4 88.4L627.1 88.2L626.7 87.9L626.4 87.6L626.1 87.3L625.8 87.0L625.4 86.7L625.1 86.4L624.7 86.1L624.4 85.8L624.0 85.5L623.7 85.2L623.3 84.8L623.0 84.5L622.6 84.2L622.3 83.9L622.0 83.6L621.6 83.3L621.3 83.1L621.0 82.8L620.7 82.5L620.4 82.3L620.1 82.0L619.8 81.8L619.5 81.5L619.2 81.2L618.9 81.0L618.6 80.7L618.3 80.4L618.0 80.1L617.7 79.9L617.4 79.6L617.1 79.3L616.7 79.0L616.4 78.8L616.1 78.5L615.8 78.3L615.5 78.0L615.3 77.7L615.0 77.5L614.7 77.3L614.4 77.0L614.2 76.8L613.9 76.6L613.7 76.4L613.5 76.2L613.3 76.0L613.1 75.8L612.9 75.7L612.7 75.5L612.5 75.4L612.4 75.3Z" fill="#c0c0c0" stroke="#666" stroke-width="0.8" stroke-linejoin="round"/>
<path d="M603.9 65.3L617.2 74.4L613.5 77.0L606.3 84.6Z" fill="#c4c4c4" stroke="#666" stroke-width="0.7" stroke-linejoin="round"/>
<path d="M620.0 93.0C622.8 93.3 632.8 96.3 637.0 95.0C641.2 93.7 642.0 87.2 645.0 85.0C648.0 82.8 650.8 82.2 655.0 82.0C659.2 81.8 665.3 83.3 670.0 84.0C674.7 84.7 678.8 88.3 683.0 86.0C687.2 83.7 693.0 72.7 695.0 70.0" fill="none" stroke="#15266e" stroke-width="5.4" stroke-linecap="round" stroke-linejoin="round"/>
<path d="M620.0 93.0C622.8 93.3 632.8 96.3 637.0 95.0C641.2 93.7 642.0 87.2 645.0 85.0C648.0 82.8 650.8 82.2 655.0 82.0C659.2 81.8 665.3 83.3 670.0 84.0C674.7 84.7 678.8 88.3 683.0 86.0C687.2 83.7 693.0 72.7 695.0 70.0" fill="none" stroke="#2a44b0" stroke-width="4.3" stroke-linecap="round" stroke-linejoin="round"/>
<path d="M649.5 78.0L652.5 86.0L640.0 97.0L645.0 86.0Z" fill="#505050" stroke="#4a4a4a" stroke-width="0.7" stroke-linejoin="round"/>
<circle cx="637.5" cy="94.5" r="5.0" fill="url(#sg9)"/>
<circle cx="670.0" cy="84.5" r="4.8" fill="url(#sg10)"/>
<circle cx="683.0" cy="86.0" r="4.6" fill="url(#sg11)"/>
<circle cx="696.0" cy="71.0" r="5.4" fill="url(#sg12)"/>
<circle cx="662.8" cy="64.2" r="4.7" fill="url(#sg13)"/>
<circle cx="667.4" cy="52.8" r="8.1" fill="url(#sg14)"/>
<text x="552.4" y="19.4" font-size="19" font-weight="bold" font-style="normal" fill="#111" font-family="Liberation Sans, sans-serif" textLength="36.4" lengthAdjust="spacingAndGlyphs">C2A</text>
<text x="588.3" y="32.8" font-size="14.2" font-weight="normal" font-style="italic" fill="#111" font-family="Liberation Sans, sans-serif" textLength="37.2" lengthAdjust="spacingAndGlyphs">loop 1</text>
<text x="672.6" y="43.7" font-size="14" font-weight="bold" font-style="normal" fill="#8c4623" font-family="Liberation Sans, sans-serif" textLength="23.4" lengthAdjust="spacingAndGlyphs">Pb1</text>
<text x="699.0" y="89.5" font-size="14.2" font-weight="normal" font-style="italic" fill="#111" font-family="Liberation Sans, sans-serif" textLength="38.6" lengthAdjust="spacingAndGlyphs">loop 3</text>
<text x="685.3" y="148.0" font-size="14" font-weight="normal" font-style="normal" fill="#111" font-family="Liberation Sans, sans-serif" >LRC</text>
<path d="M659.8 392.3L659.8 393.1L659.9 393.9L660.0 394.9L660.2 395.9L660.3 397.1L660.4 398.3L660.6 399.6L660.8 401.0L660.9 402.4L661.1 403.9L661.2 405.3L661.4 406.8L661.5 408.3L661.7 409.8L661.8 411.3L661.9 412.8L662.0 414.2L662.1 415.6L662.2 416.9L662.3 418.1L662.3 419.3L662.3 420.5L662.3 421.8L662.3 423.0L662.3 424.2L662.3 425.5L662.2 426.7L662.2 427.9L662.1 429.1L662.1 430.3L662.0 431.5L661.9 432.7L661.9 433.9L661.8 435.1L661.7 436.2L661.6 437.4L661.5 438.5L661.4 439.6L661.3 440.7L661.3 441.7L661.2 442.8L661.1 443.8L661.0 444.8L660.8 445.9L660.7 446.9L660.6 448.0L660.4 449.0L660.3 450.0L660.1 451.0L660.0 452.0L659.8 453.0L659.7 453.9L659.5 454.8L659.4 455.6L659.3 456.4L659.2 457.1L659.0 457.8L658.9 458.5L658.9 459.0L658.8 459.5L665.2 460.5L665.3 460.0L665.4 459.5L665.5 458.8L665.6 458.2L665.7 457.4L665.8 456.6L666.0 455.8L666.1 454.9L666.2 454.0L666.4 453.0L666.6 452.0L666.7 451.0L666.9 449.9L667.0 448.8L667.1 447.8L667.3 446.7L667.4 445.6L667.5 444.5L667.6 443.4L667.7 442.3L667.8 441.2L667.9 440.1L668.0 439.0L668.1 437.9L668.2 436.7L668.3 435.5L668.3 434.3L668.4 433.1L668.5 431.9L668.6 430.7L668.6 429.4L668.7 428.2L668.7 426.9L668.8 425.6L668.8 424.3L668.8 423.1L668.8 421.8L668.8 420.5L668.8 419.2L668.7 417.9L668.7 416.6L668.6 415.2L668.5 413.7L668.4 412.3L668.3 410.8L668.2 409.2L668.0 407.7L667.9 406.2L667.7 404.6L667.5 403.1L667.4 401.7L667.2 400.3L667.1 398.9L666.9 397.6L666.8 396.3L666.6 395.2L666.5 394.1L666.4 393.2L666.3 392.4L666.2 391.7Z" fill="#d6d6d6" stroke="#777" stroke-width="0.8" stroke-linejoin="round"/>
<path d="M637.3 380.7L637.5 381.3L637.7 382.2L637.9 383.1L638.2 384.1L638.5 385.2L638.8 386.3L639.1 387.6L639.4 388.9L639.7 390.2L640.1 391.6L640.4 393.0L640.8 394.5L641.1 395.9L641.5 397.3L641.8 398.8L642.2 400.2L642.5 401.6L642.8 403.0L643.0 404.3L643.3 405.5L643.5 406.8L643.8 408.0L644.0 409.3L644.3 410.5L644.5 411.7L644.7 413.0L644.9 414.2L645.1 415.5L645.3 416.7L645.5 417.9L645.7 419.2L645.9 420.4L646.1 421.7L646.3 422.9L646.5 424.1L646.6 425.4L646.8 426.6L647.0 427.8L647.1 429.1L647.3 430.3L647.4 431.6L647.6 432.9L647.7 434.3L647.8 435.7L647.9 437.1L648.1 438.5L648.2 440.0L648.3 441.4L648.4 442.8L648.5 444.3L648.6 445.6L648.7 447.0L648.8 448.3L648.9 449.5L648.9 450.7L649.0 451.8L649.1 452.8L649.1 453.7L649.2 454.5L649.3 455.2L654.7 454.8L654.7 454.1L654.6 453.3L654.6 452.4L654.5 451.4L654.4 450.3L654.4 449.2L654.3 447.9L654.2 446.6L654.1 445.3L654.0 443.9L653.9 442.4L653.8 441.0L653.7 439.5L653.6 438.1L653.4 436.6L653.3 435.1L653.2 433.7L653.0 432.3L652.9 431.0L652.7 429.7L652.6 428.4L652.4 427.2L652.3 425.9L652.1 424.6L651.9 423.4L651.7 422.1L651.5 420.8L651.4 419.6L651.2 418.3L651.0 417.1L650.8 415.8L650.6 414.5L650.3 413.3L650.1 412.0L649.9 410.8L649.7 409.5L649.4 408.2L649.2 407.0L648.9 405.7L648.7 404.5L648.4 403.2L648.1 401.8L647.8 400.4L647.5 399.0L647.2 397.5L646.8 396.1L646.5 394.6L646.1 393.1L645.8 391.7L645.4 390.3L645.1 388.9L644.7 387.5L644.4 386.2L644.1 385.0L643.8 383.8L643.5 382.7L643.3 381.7L643.0 380.8L642.8 380.0L642.7 379.3Z" fill="#d4d4d4" stroke="#777" stroke-width="0.8" stroke-linejoin="round"/>
<path d="M672.3 400.3L672.3 401.1L672.4 402.0L672.5 403.0L672.6 404.2L672.7 405.4L672.8 406.8L673.0 408.2L673.1 409.7L673.2 411.2L673.3 412.7L673.4 414.3L673.5 415.8L673.6 417.3L673.7 418.7L673.8 420.1L673.8 421.5L673.8 423.0L673.9 424.5L673.9 426.0L673.9 427.5L673.9 429.1L673.9 430.6L673.9 432.1L673.9 433.7L673.9 435.1L673.9 436.6L673.9 438.0L673.8 439.3L673.8 440.6L673.8 441.9L673.7 443.0L673.7 444.2L673.6 445.3L673.6 446.4L673.5 447.4L673.5 448.3L673.4 449.3L673.4 450.1L673.3 450.9L673.2 451.7L673.1 452.4L672.9 453.1L672.8 453.7L672.7 454.2L672.5 454.6L672.4 455.0L672.2 455.3L672.0 455.6L671.7 455.9L671.5 456.2L671.1 456.5L670.8 456.8L670.4 457.1L670.0 457.4L669.6 457.7L669.2 457.9L668.7 458.2L668.3 458.5L667.9 458.9L667.5 459.2L672.5 464.8L672.6 464.7L672.8 464.6L673.0 464.4L673.4 464.1L673.9 463.8L674.4 463.5L674.9 463.0L675.5 462.6L676.1 462.1L676.8 461.5L677.4 460.8L678.0 460.1L678.6 459.2L679.1 458.3L679.5 457.4L679.8 456.4L680.1 455.5L680.3 454.6L680.5 453.7L680.6 452.7L680.7 451.8L680.8 450.8L680.9 449.8L681.0 448.8L681.0 447.7L681.1 446.7L681.1 445.6L681.2 444.5L681.2 443.3L681.2 442.1L681.3 440.9L681.3 439.6L681.4 438.2L681.4 436.7L681.4 435.2L681.4 433.7L681.4 432.2L681.4 430.6L681.4 429.0L681.4 427.4L681.4 425.9L681.4 424.3L681.3 422.8L681.3 421.3L681.2 419.9L681.2 418.4L681.1 416.9L681.0 415.3L680.9 413.7L680.8 412.2L680.7 410.6L680.5 409.1L680.4 407.6L680.3 406.1L680.2 404.8L680.1 403.5L680.0 402.4L679.9 401.3L679.8 400.4L679.7 399.7Z" fill="#d4d4d4" stroke="#666" stroke-width="0.8" stroke-linejoin="round"/>
<path d="M676.0 400.0L676.1 400.7L676.1 401.6L676.2 402.7L676.3 403.8L676.4 405.1L676.6 406.5L676.7 407.9L676.8 409.4L676.9 410.9L677.1 412.4L677.2 414.0L677.3 415.6L677.4 417.1L677.4 418.6L677.5 420.0L677.5 421.4L677.6 422.9L677.6 424.4L677.6 425.9L677.7 427.5L677.7 429.0L677.7 430.6L677.7 432.1L677.7 433.7L677.7 435.2L677.6 436.7L677.6 438.1L677.6 439.5L677.5 440.8L677.5 442.0L677.5 443.2L677.4 444.3L677.4 445.4L677.3 446.5L677.3 447.6L677.2 448.6L677.2 449.5L677.1 450.5L677.0 451.4L676.9 452.2L676.8 453.0L676.6 453.8L676.4 454.6L676.2 455.3L676.0 456.0L675.7 456.6L675.4 457.2L675.0 457.8L674.6 458.3L674.1 458.8L673.6 459.3L673.2 459.7L672.7 460.1L672.2 460.4L671.7 460.7L671.3 461.0L670.9 461.3L670.5 461.6L670.2 461.8L670.0 462.0L672.5 464.8L672.6 464.7L672.8 464.6L673.0 464.4L673.4 464.1L673.9 463.8L674.4 463.5L674.9 463.0L675.5 462.6L676.1 462.1L676.8 461.5L677.4 460.8L678.0 460.1L678.6 459.2L679.1 458.3L679.5 457.4L679.8 456.4L680.1 455.5L680.3 454.6L680.5 453.7L680.6 452.7L680.7 451.8L680.8 450.8L680.9 449.8L681.0 448.8L681.0 447.7L681.1 446.7L681.1 445.6L681.2 444.5L681.2 443.3L681.2 442.1L681.3 440.9L681.3 439.6L681.4 438.2L681.4 436.7L681.4 435.2L681.4 433.7L681.4 432.2L681.4 430.6L681.4 429.0L681.4 427.4L681.4 425.9L681.4 424.3L681.3 422.8L681.3 421.3L681.2 419.9L681.2 418.4L681.1 416.9L681.0 415.3L680.9 413.7L680.8 412.2L680.7 410.6L680.5 409.1L680.4 407.6L680.3 406.1L680.2 404.8L680.1 403.5L680.0 402.4L679.9 401.3L679.8 400.4L679.7 399.7Z" fill="#c6c6c6" stroke="none"/>
<path d="M669.0 404.0L676.0 390.0L685.0 405.0Z" fill="#d4d4d4" stroke="#666" stroke-width="0.7" stroke-linejoin="round"/>
<path d="M683.0 366.0C683.3 368.0 686.0 373.8 685.0 378.0C684.0 382.2 678.3 388.8 677.0 391.0" fill="none" stroke="#6a6a6a" stroke-width="4.0" stroke-linecap="round" stroke-linejoin="round"/>
<path d="M683.0 366.0C683.3 368.0 686.0 373.8 685.0 378.0C684.0 382.2 678.3 388.8 677.0 391.0" fill="none" stroke="#cdcdcd" stroke-width="2.9" stroke-linecap="round" stroke-linejoin="round"/>
<path d="M683.0 366.0C683.3 368.0 686.0 373.8 685.0 378.0C684.0 382.2 678.3 388.8 677.0 391.0" fill="none" stroke="#ececec" stroke-width="1.0" stroke-linecap="round" stroke-linejoin="round" transform="translate(-0.4,-0.5)"/>
<path d="M657.0 367.5L656.9 368.7L656.7 370.2L656.5 372.0L656.2 374.0L655.9 376.1L655.7 378.4L655.4 380.8L655.1 383.3L654.8 385.7L654.5 388.1L654.2 390.4L654.0 392.6L653.8 394.7L653.6 396.8L653.4 398.9L653.2 401.1L653.1 403.2L652.9 405.3L652.7 407.4L652.6 409.5L652.4 411.6L652.3 413.7L652.1 415.7L652.0 417.8L651.9 419.8L651.8 421.9L651.7 423.9L651.7 426.0L651.6 428.0L651.6 430.0L651.5 432.0L651.4 433.9L651.4 435.7L651.3 437.4L651.2 439.0L651.0 440.6L650.9 442.1L650.7 443.5L650.5 444.8L650.3 446.1L650.1 447.3L649.9 448.4L649.7 449.5L649.4 450.6L649.1 451.6L648.9 452.7L648.5 453.7L648.2 454.7L647.9 455.7L647.4 456.7L646.9 457.8L646.4 458.9L645.9 460.0L645.3 461.0L644.7 462.1L644.2 463.0L643.7 463.9L643.2 464.8L642.8 465.5L642.5 466.1L649.5 469.9L649.8 469.3L650.2 468.7L650.6 467.9L651.2 467.0L651.7 465.9L652.3 464.8L653.0 463.7L653.6 462.5L654.2 461.2L654.8 459.9L655.3 458.6L655.8 457.3L656.2 456.1L656.5 454.9L656.9 453.7L657.2 452.5L657.5 451.2L657.7 450.0L658.0 448.7L658.2 447.3L658.4 446.0L658.6 444.5L658.8 443.0L659.0 441.4L659.1 439.7L659.3 437.9L659.4 436.0L659.4 434.1L659.5 432.2L659.6 430.2L659.6 428.2L659.7 426.2L659.7 424.2L659.8 422.2L659.9 420.2L660.0 418.2L660.1 416.2L660.3 414.2L660.4 412.2L660.5 410.1L660.7 408.0L660.9 405.9L661.0 403.8L661.2 401.7L661.4 399.7L661.6 397.6L661.8 395.5L662.0 393.4L662.2 391.3L662.5 389.0L662.7 386.6L663.0 384.2L663.3 381.8L663.6 379.4L663.9 377.1L664.2 375.0L664.4 373.0L664.6 371.2L664.8 369.7L665.0 368.5Z" fill="#cdcdcd" stroke="#555" stroke-width="0.8" stroke-linejoin="round"/>
<path d="M661.0 368.0L660.9 369.2L660.7 370.7L660.4 372.5L660.2 374.5L659.9 376.6L659.6 378.9L659.3 381.3L659.0 383.7L658.8 386.2L658.5 388.5L658.2 390.8L658.0 393.0L657.8 395.1L657.6 397.2L657.4 399.3L657.2 401.4L657.0 403.5L656.9 405.6L656.7 407.7L656.6 409.8L656.4 411.9L656.3 413.9L656.1 416.0L656.0 418.0L655.9 420.0L655.8 422.0L655.7 424.1L655.7 426.1L655.6 428.1L655.6 430.1L655.5 432.1L655.4 434.0L655.4 435.9L655.3 437.7L655.2 439.4L655.0 441.0L654.8 442.5L654.7 444.0L654.5 445.4L654.3 446.7L654.0 448.0L653.8 449.2L653.6 450.4L653.3 451.5L653.0 452.6L652.7 453.8L652.4 454.9L652.0 456.0L651.6 457.1L651.1 458.3L650.6 459.5L650.0 460.7L649.4 461.8L648.8 462.9L648.2 464.0L647.7 465.0L647.1 465.9L646.7 466.7L646.3 467.4L646.0 468.0L649.5 469.9L649.8 469.3L650.2 468.7L650.6 467.9L651.2 467.0L651.7 465.9L652.3 464.8L653.0 463.7L653.6 462.5L654.2 461.2L654.8 459.9L655.3 458.6L655.8 457.3L656.2 456.1L656.5 454.9L656.9 453.7L657.2 452.5L657.5 451.2L657.7 450.0L658.0 448.7L658.2 447.3L658.4 446.0L658.6 444.5L658.8 443.0L659.0 441.4L659.1 439.7L659.3 437.9L659.4 436.0L659.4 434.1L659.5 432.2L659.6 430.2L659.6 428.2L659.7 426.2L659.7 424.2L659.8 422.2L659.9 420.2L660.0 418.2L660.1 416.2L660.3 414.2L660.4 412.2L660.5 410.1L660.7 408.0L660.9 405.9L661.0 403.8L661.2 401.7L661.4 399.7L661.6 397.6L661.8 395.5L662.0 393.4L662.2 391.3L662.5 389.0L662.7 386.6L663.0 384.2L663.3 381.8L663.6 379.4L663.9 377.1L664.2 375.0L664.4 373.0L664.6 371.2L664.8 369.7L665.0 368.5Z" fill="#bfbfbf" stroke="none"/>
<path d="M648.4 370.9L648.2 371.7L647.9 372.6L647.6 373.7L647.2 374.8L646.8 376.2L646.3 377.6L645.8 379.1L645.4 380.6L644.9 382.2L644.4 383.9L643.9 385.6L643.5 387.3L643.1 389.0L642.7 390.6L642.3 392.3L642.0 393.9L641.7 395.5L641.5 397.2L641.2 398.9L641.0 400.6L640.7 402.3L640.5 404.1L640.3 405.8L640.1 407.6L639.9 409.3L639.8 411.0L639.6 412.8L639.5 414.5L639.4 416.1L639.3 417.8L639.2 419.4L639.1 421.1L639.1 422.7L639.1 424.4L639.1 426.0L639.2 427.5L639.2 429.1L639.3 430.6L639.3 432.1L639.4 433.6L639.4 435.1L639.4 436.5L639.4 438.0L639.3 439.4L639.3 440.7L639.1 442.2L639.0 443.7L638.8 445.2L638.6 446.8L638.4 448.4L638.2 450.0L637.9 451.6L637.7 453.1L637.4 454.6L637.2 456.0L637.0 457.3L636.8 458.6L636.6 459.7L636.4 460.6L636.3 461.4L643.7 462.6L643.8 461.8L644.0 460.9L644.2 459.8L644.4 458.6L644.6 457.3L644.8 455.8L645.1 454.3L645.3 452.7L645.6 451.1L645.8 449.5L646.1 447.8L646.3 446.1L646.5 444.5L646.6 442.8L646.7 441.3L646.8 439.7L646.9 438.1L646.9 436.6L646.9 435.0L646.9 433.5L646.8 431.9L646.8 430.4L646.7 428.9L646.7 427.3L646.6 425.8L646.6 424.3L646.6 422.8L646.6 421.3L646.7 419.7L646.7 418.2L646.8 416.6L647.0 415.0L647.1 413.4L647.2 411.7L647.4 410.0L647.6 408.3L647.8 406.7L647.9 405.0L648.2 403.3L648.4 401.6L648.6 400.0L648.9 398.4L649.1 396.8L649.4 395.2L649.7 393.7L650.0 392.2L650.3 390.7L650.7 389.1L651.2 387.6L651.6 386.0L652.1 384.4L652.5 382.8L653.0 381.3L653.5 379.8L653.9 378.4L654.3 377.1L654.7 375.9L655.1 374.8L655.4 373.9L655.6 373.1Z" fill="#cacaca" stroke="#555" stroke-width="0.8" stroke-linejoin="round"/>
<path d="M652.0 372.0L651.8 372.8L651.5 373.7L651.1 374.8L650.8 376.0L650.3 377.3L649.9 378.7L649.4 380.2L648.9 381.7L648.5 383.3L648.0 384.9L647.5 386.6L647.1 388.2L646.7 389.8L646.3 391.4L646.0 393.0L645.7 394.6L645.4 396.1L645.2 397.8L644.9 399.4L644.7 401.1L644.4 402.8L644.2 404.5L644.0 406.2L643.8 408.0L643.7 409.7L643.5 411.4L643.4 413.1L643.2 414.7L643.1 416.4L643.0 418.0L642.9 419.6L642.9 421.2L642.9 422.8L642.9 424.3L642.9 425.9L642.9 427.4L643.0 429.0L643.0 430.5L643.1 432.0L643.1 433.6L643.1 435.1L643.1 436.6L643.1 438.0L643.1 439.5L643.0 441.0L642.9 442.5L642.7 444.1L642.5 445.7L642.3 447.3L642.1 448.9L641.9 450.6L641.6 452.2L641.4 453.7L641.1 455.2L640.9 456.6L640.7 458.0L640.5 459.2L640.3 460.3L640.1 461.2L640.0 462.0L643.7 462.6L643.8 461.8L644.0 460.9L644.2 459.8L644.4 458.6L644.6 457.3L644.8 455.8L645.1 454.3L645.3 452.7L645.6 451.1L645.8 449.5L646.1 447.8L646.3 446.1L646.5 444.5L646.6 442.8L646.7 441.3L646.8 439.7L646.9 438.1L646.9 436.6L646.9 435.0L646.9 433.5L646.8 431.9L646.8 430.4L646.7 428.9L646.7 427.3L646.6 425.8L646.6 424.3L646.6 422.8L646.6 421.3L646.7 419.7L646.7 418.2L646.8 416.6L647.0 415.0L647.1 413.4L647.2 411.7L647.4 410.0L647.6 408.3L647.8 406.7L647.9 405.0L648.2 403.3L648.4 401.6L648.6 400.0L648.9 398.4L649.1 396.8L649.4 395.2L649.7 393.7L650.0 392.2L650.3 390.7L650.7 389.1L651.2 387.6L651.6 386.0L652.1 384.4L652.5 382.8L653.0 381.3L653.5 379.8L653.9 378.4L654.3 377.1L654.7 375.9L655.1 374.8L655.4 373.9L655.6 373.1Z" fill="#bababa" stroke="none"/>
<path d="M641.3 366.6L640.8 367.8L640.2 369.2L639.5 371.0L638.7 373.0L637.9 375.2L637.0 377.5L636.0 379.9L635.1 382.4L634.3 384.9L633.4 387.3L632.7 389.8L632.1 392.1L631.6 394.3L631.2 396.5L630.8 398.7L630.5 400.9L630.2 403.0L630.0 405.2L629.8 407.4L629.6 409.5L629.4 411.6L629.3 413.7L629.1 415.7L629.0 417.8L628.9 419.9L628.9 422.0L628.9 424.1L628.9 426.1L628.9 428.1L629.0 430.1L629.1 432.1L629.1 433.9L629.1 435.7L629.1 437.5L629.1 439.1L629.0 440.7L628.9 442.3L628.7 443.8L628.5 445.3L628.3 446.7L628.0 448.1L627.8 449.5L627.5 450.9L627.2 452.2L626.9 453.5L626.6 454.8L626.4 456.0L626.1 457.1L625.9 458.2L625.6 459.2L625.3 460.1L625.1 461.1L624.8 462.0L624.5 462.8L624.2 463.6L624.0 464.4L623.8 465.1L623.5 465.7L623.3 466.3L623.2 466.8L630.8 469.2L631.0 468.8L631.1 468.3L631.3 467.7L631.6 467.0L631.8 466.2L632.1 465.3L632.4 464.4L632.7 463.4L633.0 462.3L633.3 461.2L633.6 460.1L633.9 458.9L634.2 457.7L634.4 456.5L634.7 455.3L635.0 453.9L635.3 452.5L635.6 451.1L635.9 449.6L636.2 448.0L636.4 446.4L636.6 444.8L636.8 443.0L637.0 441.3L637.1 439.5L637.1 437.6L637.1 435.7L637.1 433.8L637.1 431.8L637.0 429.9L636.9 427.9L636.9 426.0L636.9 424.0L636.9 422.1L636.9 420.1L637.0 418.2L637.1 416.2L637.2 414.2L637.4 412.2L637.5 410.1L637.7 408.1L637.9 406.0L638.1 404.0L638.4 402.0L638.7 399.9L639.1 397.9L639.4 395.9L639.9 393.9L640.4 391.9L641.1 389.7L641.8 387.5L642.7 385.1L643.5 382.7L644.4 380.4L645.3 378.1L646.2 376.0L647.0 374.0L647.7 372.2L648.3 370.6L648.7 369.4Z" fill="#c8c8c8" stroke="#555" stroke-width="0.8" stroke-linejoin="round"/>
<path d="M645.0 368.0L644.5 369.2L644.0 370.7L643.2 372.5L642.4 374.5L641.6 376.6L640.7 378.9L639.8 381.3L638.9 383.7L638.0 386.2L637.3 388.5L636.6 390.8L636.0 393.0L635.5 395.1L635.1 397.2L634.8 399.3L634.4 401.4L634.2 403.5L633.9 405.6L633.7 407.7L633.6 409.8L633.4 411.9L633.3 413.9L633.1 416.0L633.0 418.0L632.9 420.0L632.9 422.0L632.9 424.0L632.9 426.0L632.9 428.0L633.0 430.0L633.1 431.9L633.1 433.9L633.1 435.7L633.1 437.5L633.1 439.3L633.0 441.0L632.9 442.6L632.7 444.3L632.5 445.8L632.2 447.4L632.0 448.9L631.7 450.3L631.4 451.7L631.1 453.1L630.8 454.4L630.5 455.6L630.3 456.8L630.0 458.0L629.7 459.1L629.5 460.2L629.2 461.2L628.9 462.2L628.6 463.2L628.3 464.1L628.0 464.9L627.8 465.7L627.5 466.4L627.3 467.0L627.1 467.5L627.0 468.0L630.8 469.2L631.0 468.8L631.1 468.3L631.3 467.7L631.6 467.0L631.8 466.2L632.1 465.3L632.4 464.4L632.7 463.4L633.0 462.3L633.3 461.2L633.6 460.1L633.9 458.9L634.2 457.7L634.4 456.5L634.7 455.3L635.0 453.9L635.3 452.5L635.6 451.1L635.9 449.6L636.2 448.0L636.4 446.4L636.6 444.8L636.8 443.0L637.0 441.3L637.1 439.5L637.1 437.6L637.1 435.7L637.1 433.8L637.1 431.8L637.0 429.9L636.9 427.9L636.9 426.0L636.9 424.0L636.9 422.1L636.9 420.1L637.0 418.2L637.1 416.2L637.2 414.2L637.4 412.2L637.5 410.1L637.7 408.1L637.9 406.0L638.1 404.0L638.4 402.0L638.7 399.9L639.1 397.9L639.4 395.9L639.9 393.9L640.4 391.9L641.1 389.7L641.8 387.5L642.7 385.1L643.5 382.7L644.4 380.4L645.3 378.1L646.2 376.0L647.0 374.0L647.7 372.2L648.3 370.6L648.7 369.4Z" fill="#b8b8b8" stroke="none"/>
<path d="M618.6 391.9L618.8 392.7L619.1 393.7L619.4 394.8L619.7 396.0L620.1 397.3L620.5 398.7L620.9 400.2L621.3 401.7L621.7 403.2L622.1 404.8L622.5 406.4L622.8 408.0L623.1 409.5L623.3 411.0L623.5 412.4L623.7 413.8L623.8 415.3L623.9 416.9L624.0 418.5L624.0 420.1L624.1 421.7L624.1 423.3L624.1 424.9L624.0 426.5L624.0 428.1L623.9 429.7L623.8 431.3L623.7 432.8L623.6 434.3L623.5 435.7L623.4 437.0L623.2 438.3L623.0 439.7L622.8 441.0L622.5 442.3L622.2 443.6L621.9 444.9L621.6 446.1L621.3 447.4L621.0 448.6L620.7 449.8L620.4 450.9L620.1 452.0L619.8 453.1L619.6 454.2L619.4 455.2L619.1 456.1L618.9 457.0L618.7 457.9L618.4 458.7L618.2 459.6L618.0 460.3L617.8 461.1L617.6 461.8L617.4 462.5L617.2 463.1L617.0 463.6L616.9 464.2L616.7 464.6L616.6 465.1L623.4 466.9L623.5 466.6L623.6 466.1L623.8 465.6L623.9 465.1L624.1 464.4L624.3 463.8L624.5 463.0L624.7 462.3L625.0 461.4L625.2 460.6L625.4 459.7L625.7 458.8L625.9 457.8L626.2 456.8L626.4 455.8L626.6 454.8L626.9 453.8L627.2 452.7L627.5 451.5L627.8 450.3L628.1 449.1L628.4 447.8L628.7 446.5L629.1 445.1L629.4 443.7L629.6 442.3L629.9 440.8L630.1 439.3L630.3 437.8L630.5 436.3L630.6 434.8L630.7 433.3L630.8 431.7L630.9 430.0L631.0 428.4L631.0 426.7L631.1 425.0L631.1 423.3L631.1 421.6L631.0 419.9L631.0 418.2L630.9 416.5L630.8 414.8L630.6 413.2L630.5 411.6L630.3 410.0L630.0 408.3L629.7 406.6L629.3 404.9L628.9 403.2L628.5 401.5L628.1 399.9L627.7 398.3L627.3 396.8L626.8 395.4L626.5 394.1L626.1 392.9L625.8 391.8L625.6 390.9L625.4 390.1Z" fill="#c4c4c4" stroke="#555" stroke-width="0.8" stroke-linejoin="round"/>
<path d="M622.0 391.0L622.2 391.8L622.5 392.7L622.8 393.8L623.1 395.0L623.5 396.3L623.9 397.7L624.3 399.2L624.7 400.8L625.1 402.4L625.5 404.0L625.9 405.6L626.2 407.3L626.5 408.9L626.8 410.5L627.0 412.0L627.2 413.5L627.3 415.1L627.4 416.7L627.5 418.3L627.5 420.0L627.6 421.6L627.6 423.3L627.6 425.0L627.5 426.6L627.5 428.3L627.4 429.9L627.3 431.5L627.2 433.0L627.1 434.5L627.0 436.0L626.8 437.4L626.7 438.8L626.4 440.2L626.2 441.6L625.9 443.0L625.6 444.3L625.3 445.7L625.0 447.0L624.7 448.2L624.4 449.4L624.1 450.6L623.8 451.8L623.5 452.9L623.2 454.0L623.0 455.0L622.8 456.0L622.5 457.0L622.3 457.9L622.1 458.8L621.8 459.7L621.6 460.5L621.4 461.3L621.1 462.1L620.9 462.8L620.7 463.4L620.6 464.1L620.4 464.6L620.2 465.1L620.1 465.6L620.0 466.0L623.4 466.9L623.5 466.6L623.6 466.1L623.8 465.6L623.9 465.1L624.1 464.4L624.3 463.8L624.5 463.0L624.7 462.3L625.0 461.4L625.2 460.6L625.4 459.7L625.7 458.8L625.9 457.8L626.2 456.8L626.4 455.8L626.6 454.8L626.9 453.8L627.2 452.7L627.5 451.5L627.8 450.3L628.1 449.1L628.4 447.8L628.7 446.5L629.1 445.1L629.4 443.7L629.6 442.3L629.9 440.8L630.1 439.3L630.3 437.8L630.5 436.3L630.6 434.8L630.7 433.3L630.8 431.7L630.9 430.0L631.0 428.4L631.0 426.7L631.1 425.0L631.1 423.3L631.1 421.6L631.0 419.9L631.0 418.2L630.9 416.5L630.8 414.8L630.6 413.2L630.5 411.6L630.3 410.0L630.0 408.3L629.7 406.6L629.3 404.9L628.9 403.2L628.5 401.5L628.1 399.9L627.7 398.3L627.3 396.8L626.8 395.4L626.5 394.1L626.1 392.9L625.8 391.8L625.6 390.9L625.4 390.1Z" fill="#b2b2b2" stroke="none"/>
<path d="M630.9 371.2L630.8 371.0L630.8 370.7L630.7 370.4L630.6 370.1L630.5 369.7L630.4 369.3L630.3 368.9L630.2 368.4L630.1 367.9L630.0 367.4L629.8 366.9L629.7 366.4L629.6 365.9L629.4 365.3L629.3 364.8L629.1 364.2L629.0 363.6L628.8 363.1L628.7 362.5L628.5 361.9L628.4 361.4L628.2 360.8L628.0 360.2L627.8 359.7L627.7 359.2L627.5 358.7L627.3 358.2L627.1 357.7L626.9 357.2L626.7 356.8L626.5 356.3L626.3 355.9L626.1 355.5L625.8 355.1L625.6 354.7L625.4 354.3L625.1 353.9L624.8 353.5L624.6 353.1L624.3 352.8L624.1 352.5L623.8 352.1L623.5 351.8L623.3 351.5L623.0 351.2L622.8 350.9L622.5 350.6L622.3 350.3L622.1 350.1L621.9 349.8L621.6 349.6L621.4 349.4L621.2 349.2L621.1 349.0L620.9 348.8L620.8 348.6L620.6 348.5L620.5 348.4L620.5 348.3L620.4 348.2L615.6 351.8L615.8 352.0L615.9 352.2L616.1 352.4L616.3 352.6L616.4 352.8L616.6 353.0L616.8 353.2L617.0 353.4L617.2 353.6L617.4 353.9L617.6 354.1L617.8 354.3L618.0 354.6L618.2 354.8L618.5 355.1L618.7 355.3L618.9 355.6L619.1 355.8L619.3 356.1L619.5 356.4L619.7 356.7L619.9 356.9L620.1 357.2L620.3 357.5L620.5 357.8L620.7 358.1L620.8 358.4L621.0 358.7L621.1 359.0L621.3 359.2L621.4 359.5L621.5 359.9L621.7 360.3L621.8 360.7L622.0 361.1L622.1 361.6L622.3 362.0L622.4 362.5L622.6 363.0L622.7 363.6L622.9 364.1L623.0 364.6L623.2 365.2L623.3 365.7L623.5 366.2L623.6 366.8L623.7 367.3L623.9 367.8L624.0 368.4L624.1 368.9L624.2 369.3L624.4 369.8L624.5 370.3L624.6 370.7L624.7 371.1L624.8 371.5L624.9 371.9L625.0 372.2L625.0 372.5L625.1 372.8Z" fill="#c4c4c4" stroke="#666" stroke-width="0.8" stroke-linejoin="round"/>
<path d="M612.0 346.0L618.0 340.0L624.0 352.0Z" fill="#c8c8c8" stroke="#666" stroke-width="0.7" stroke-linejoin="round"/>
<path d="M604.0 356.0C604.5 357.7 605.7 362.3 607.0 366.0C608.3 369.7 610.5 374.3 612.0 378.0C613.5 381.7 615.3 386.3 616.0 388.0" fill="none" stroke="#6a6a6a" stroke-width="4.5" stroke-linecap="round" stroke-linejoin="round"/>
<path d="M604.0 356.0C604.5 357.7 605.7 362.3 607.0 366.0C608.3 369.7 610.5 374.3 612.0 378.0C613.5 381.7 615.3 386.3 616.0 388.0" fill="none" stroke="#c6c6c6" stroke-width="3.4" stroke-linecap="round" stroke-linejoin="round"/>
<path d="M604.0 356.0C604.5 357.7 605.7 362.3 607.0 366.0C608.3 369.7 610.5 374.3 612.0 378.0C613.5 381.7 615.3 386.3 616.0 388.0" fill="none" stroke="#ececec" stroke-width="1.2" stroke-linecap="round" stroke-linejoin="round" transform="translate(-0.4,-0.5)"/>
<path d="M594.0 384.0C595.2 383.0 598.3 378.3 601.0 378.0C603.7 377.7 608.5 381.3 610.0 382.0" fill="none" stroke="#6a6a6a" stroke-width="4.5" stroke-linecap="round" stroke-linejoin="round"/>
<path d="M594.0 384.0C595.2 383.0 598.3 378.3 601.0 378.0C603.7 377.7 608.5 381.3 610.0 382.0" fill="none" stroke="#c6c6c6" stroke-width="3.4" stroke-linecap="round" stroke-linejoin="round"/>
<path d="M594.0 384.0C595.2 383.0 598.3 378.3 601.0 378.0C603.7 377.7 608.5 381.3 610.0 382.0" fill="none" stroke="#ececec" stroke-width="1.2" stroke-linecap="round" stroke-linejoin="round" transform="translate(-0.4,-0.5)"/>
<path d="M585.3 395.3L585.7 395.6L586.2 395.8L586.6 396.0L587.1 396.3L587.5 396.5L588.0 396.7L588.4 397.0L588.9 397.2L589.3 397.4L589.8 397.7L590.2 397.9L590.7 398.1L591.1 398.4L591.6 398.6L592.0 398.8L592.5 399.1L592.9 399.3L593.4 399.5L593.8 399.8L594.3 400.0L594.7 400.2L595.2 400.5L595.6 400.7L596.1 400.9L596.5 401.2L597.0 401.4L597.4 401.6L597.9 401.9L598.3 402.1L598.8 402.3L599.2 402.6L599.7 402.8L600.1 403.0L600.6 403.3L601.0 403.5L601.5 403.7L601.9 404.0L602.4 404.2L602.8 404.4L603.3 404.7L603.7 404.9L604.2 405.1L604.6 405.4L605.1 405.6L605.5 405.8L606.0 406.1L606.4 406.3L606.9 406.5L607.3 406.8L607.8 407.0L608.2 407.2L608.7 407.5L609.1 407.7L609.6 407.9L610.0 408.2L610.5 408.4L610.9 408.6L611.4 408.9L611.8 409.1L612.3 409.3L615.7 402.7L615.3 402.4L614.8 402.2L614.4 402.0L613.9 401.7L613.5 401.5L613.0 401.3L612.6 401.0L612.1 400.8L611.7 400.6L611.2 400.3L610.8 400.1L610.3 399.9L609.9 399.6L609.4 399.4L609.0 399.2L608.5 398.9L608.1 398.7L607.6 398.5L607.2 398.2L606.7 398.0L606.3 397.8L605.8 397.5L605.4 397.3L604.9 397.1L604.5 396.8L604.0 396.6L603.6 396.4L603.1 396.1L602.7 395.9L602.2 395.7L601.8 395.4L601.3 395.2L600.9 395.0L600.4 394.7L600.0 394.5L599.5 394.3L599.1 394.0L598.6 393.8L598.2 393.6L597.7 393.3L597.3 393.1L596.8 392.9L596.4 392.6L595.9 392.4L595.5 392.2L595.0 391.9L594.6 391.7L594.1 391.5L593.7 391.2L593.2 391.0L592.8 390.8L592.3 390.5L591.9 390.3L591.4 390.1L591.0 389.8L590.5 389.6L590.1 389.4L589.6 389.1L589.2 388.9L588.7 388.7Z" fill="#b0b0b0" stroke="#555" stroke-width="0.8" stroke-linejoin="round"/>
<path d="M585.3 422.3L585.7 422.6L586.2 422.8L586.6 423.0L587.1 423.3L587.5 423.5L588.0 423.7L588.4 424.0L588.9 424.2L589.3 424.4L589.8 424.7L590.2 424.9L590.7 425.1L591.1 425.4L591.6 425.6L592.0 425.8L592.5 426.1L592.9 426.3L593.4 426.5L593.8 426.8L594.3 427.0L594.7 427.2L595.2 427.5L595.6 427.7L596.1 427.9L596.5 428.2L597.0 428.4L597.4 428.6L597.9 428.9L598.3 429.1L598.8 429.3L599.2 429.6L599.7 429.8L600.1 430.0L600.6 430.3L601.0 430.5L601.5 430.7L601.9 431.0L602.4 431.2L602.8 431.4L603.3 431.7L603.7 431.9L604.2 432.1L604.6 432.4L605.1 432.6L605.5 432.8L606.0 433.1L606.4 433.3L606.9 433.5L607.3 433.8L607.8 434.0L608.2 434.2L608.7 434.5L609.1 434.7L609.6 434.9L610.0 435.2L610.5 435.4L610.9 435.6L611.4 435.9L611.8 436.1L612.3 436.3L615.7 429.7L615.3 429.4L614.8 429.2L614.4 429.0L613.9 428.7L613.5 428.5L613.0 428.3L612.6 428.0L612.1 427.8L611.7 427.6L611.2 427.3L610.8 427.1L610.3 426.9L609.9 426.6L609.4 426.4L609.0 426.2L608.5 425.9L608.1 425.7L607.6 425.5L607.2 425.2L606.7 425.0L606.3 424.8L605.8 424.5L605.4 424.3L604.9 424.1L604.5 423.8L604.0 423.6L603.6 423.4L603.1 423.1L602.7 422.9L602.2 422.7L601.8 422.4L601.3 422.2L600.9 422.0L600.4 421.7L600.0 421.5L599.5 421.3L599.1 421.0L598.6 420.8L598.2 420.6L597.7 420.3L597.3 420.1L596.8 419.9L596.4 419.6L595.9 419.4L595.5 419.2L595.0 418.9L594.6 418.7L594.1 418.5L593.7 418.2L593.2 418.0L592.8 417.8L592.3 417.5L591.9 417.3L591.4 417.1L591.0 416.8L590.5 416.6L590.1 416.4L589.6 416.1L589.2 415.9L588.7 415.7Z" fill="#b0b0b0" stroke="#555" stroke-width="0.8" stroke-linejoin="round"/>
<path d="M585.2 449.3L585.7 449.5L586.1 449.8L586.5 450.0L587.0 450.2L587.4 450.5L587.8 450.7L588.3 450.9L588.7 451.2L589.1 451.4L589.6 451.6L590.0 451.9L590.4 452.1L590.9 452.3L591.3 452.6L591.7 452.8L592.2 453.0L592.6 453.3L593.0 453.5L593.5 453.7L593.9 454.0L594.3 454.2L594.8 454.4L595.2 454.7L595.6 454.9L596.1 455.1L596.5 455.4L596.9 455.6L597.4 455.8L597.8 456.1L598.2 456.3L598.7 456.5L599.1 456.8L599.5 457.0L600.0 457.2L600.4 457.5L600.8 457.7L601.3 457.9L601.7 458.2L602.1 458.4L602.6 458.6L603.0 458.9L603.4 459.1L603.9 459.3L604.3 459.6L604.7 459.8L605.2 460.0L605.6 460.3L606.0 460.5L606.5 460.7L606.9 461.0L607.3 461.2L607.8 461.4L608.2 461.7L608.6 461.9L609.1 462.1L609.5 462.4L609.9 462.6L610.4 462.8L610.8 463.1L611.2 463.3L614.8 456.7L614.3 456.5L613.9 456.2L613.5 456.0L613.0 455.8L612.6 455.5L612.2 455.3L611.7 455.1L611.3 454.8L610.9 454.6L610.4 454.4L610.0 454.1L609.6 453.9L609.1 453.7L608.7 453.4L608.3 453.2L607.8 453.0L607.4 452.7L607.0 452.5L606.5 452.3L606.1 452.0L605.7 451.8L605.2 451.6L604.8 451.3L604.4 451.1L603.9 450.9L603.5 450.6L603.1 450.4L602.6 450.2L602.2 449.9L601.8 449.7L601.3 449.5L600.9 449.2L600.5 449.0L600.0 448.8L599.6 448.5L599.2 448.3L598.7 448.1L598.3 447.8L597.9 447.6L597.4 447.4L597.0 447.1L596.6 446.9L596.1 446.7L595.7 446.4L595.3 446.2L594.8 446.0L594.4 445.7L594.0 445.5L593.5 445.3L593.1 445.0L592.7 444.8L592.2 444.6L591.8 444.3L591.4 444.1L590.9 443.9L590.5 443.6L590.1 443.4L589.6 443.2L589.2 442.9L588.8 442.7Z" fill="#b0b0b0" stroke="#555" stroke-width="0.8" stroke-linejoin="round"/>
<path d="M590.3 391.0L590.6 391.0L590.8 390.9L591.1 390.9L591.3 390.8L591.6 390.8L591.9 390.7L592.2 390.7L592.5 390.6L592.8 390.6L593.1 390.5L593.5 390.4L593.8 390.4L594.1 390.3L594.5 390.3L594.8 390.2L595.2 390.2L595.5 390.1L595.9 390.1L596.2 390.0L596.6 390.0L596.9 390.0L597.3 389.9L597.6 389.9L597.9 389.9L598.2 389.9L598.5 389.9L598.8 389.9L599.1 389.9L599.3 389.9L599.6 390.0L599.8 390.0L600.0 390.1L600.3 390.1L600.6 390.2L600.9 390.3L601.2 390.4L601.6 390.5L601.9 390.6L602.2 390.8L602.6 390.9L602.9 391.0L603.3 391.2L603.7 391.3L604.0 391.5L604.4 391.7L604.7 391.8L605.1 392.0L605.4 392.2L605.8 392.3L606.1 392.5L606.4 392.6L606.7 392.8L607.0 392.9L607.3 393.1L607.6 393.2L607.9 393.3L608.1 393.5L608.4 393.6L608.6 393.7L608.8 393.8L611.2 388.2L611.0 388.2L610.8 388.1L610.7 388.0L610.4 387.9L610.2 387.8L609.9 387.7L609.7 387.5L609.4 387.4L609.0 387.2L608.7 387.1L608.4 386.9L608.0 386.7L607.6 386.6L607.3 386.4L606.9 386.2L606.5 386.0L606.1 385.8L605.7 385.7L605.2 385.5L604.8 385.3L604.4 385.2L604.0 385.0L603.5 384.8L603.1 384.7L602.7 384.6L602.2 384.4L601.8 384.3L601.3 384.2L600.9 384.1L600.4 384.0L600.0 384.0L599.5 383.9L599.1 383.9L598.6 383.9L598.2 383.9L597.8 383.9L597.3 383.9L596.9 383.9L596.4 384.0L596.0 384.0L595.6 384.1L595.1 384.1L594.7 384.2L594.3 384.2L593.9 384.3L593.5 384.3L593.1 384.4L592.8 384.5L592.4 384.5L592.1 384.6L591.7 384.7L591.4 384.7L591.1 384.8L590.8 384.8L590.6 384.9L590.3 384.9L590.1 385.0L589.9 385.0L589.8 385.0L589.7 385.0Z" fill="#cfcfcf" stroke="#555" stroke-width="0.8" stroke-linejoin="round"/>
<path d="M587.1 413.5L587.4 413.4L587.7 413.3L588.0 413.1L588.4 412.9L588.8 412.8L589.2 412.6L589.6 412.4L590.0 412.2L590.5 411.9L591.0 411.7L591.5 411.5L592.0 411.2L592.5 411.0L593.1 410.7L593.6 410.5L594.2 410.2L594.8 409.9L595.3 409.7L595.9 409.4L596.5 409.1L597.1 408.9L597.6 408.6L598.2 408.3L598.8 408.1L599.4 407.8L599.9 407.5L600.5 407.3L601.0 407.0L601.5 406.8L602.1 406.6L602.6 406.3L603.1 406.1L603.7 405.8L604.2 405.6L604.8 405.3L605.4 405.1L606.0 404.8L606.6 404.5L607.2 404.3L607.9 404.0L608.5 403.7L609.1 403.4L609.7 403.2L610.3 402.9L610.9 402.6L611.5 402.4L612.1 402.1L612.7 401.9L613.3 401.6L613.8 401.4L614.3 401.2L614.8 401.0L615.3 400.7L615.8 400.5L616.2 400.3L616.6 400.2L617.0 400.0L617.4 399.8L617.7 399.7L618.0 399.6L614.0 390.4L613.7 390.5L613.4 390.7L613.1 390.8L612.7 391.0L612.3 391.2L611.8 391.4L611.4 391.6L610.9 391.8L610.4 392.0L609.8 392.2L609.3 392.5L608.7 392.7L608.1 393.0L607.5 393.2L606.9 393.5L606.3 393.7L605.7 394.0L605.1 394.3L604.5 394.6L603.8 394.8L603.2 395.1L602.6 395.4L602.0 395.6L601.4 395.9L600.8 396.2L600.2 396.4L599.6 396.7L599.0 397.0L598.5 397.2L597.9 397.4L597.4 397.7L596.9 397.9L596.3 398.2L595.7 398.4L595.2 398.7L594.6 399.0L594.0 399.2L593.4 399.5L592.8 399.8L592.3 400.1L591.7 400.3L591.1 400.6L590.5 400.9L589.9 401.1L589.4 401.4L588.8 401.7L588.3 401.9L587.7 402.2L587.2 402.4L586.7 402.7L586.2 402.9L585.8 403.1L585.3 403.3L584.9 403.5L584.5 403.7L584.1 403.9L583.8 404.1L583.4 404.2L583.1 404.3L582.9 404.5Z" fill="#d4d4d4" stroke="#555" stroke-width="0.8" stroke-linejoin="round"/>
<path d="M585.0 409.0L585.3 408.9L585.6 408.7L585.9 408.6L586.2 408.4L586.6 408.2L587.0 408.0L587.5 407.8L587.9 407.6L588.4 407.4L588.9 407.2L589.4 406.9L589.9 406.7L590.4 406.5L590.9 406.2L591.5 405.9L592.1 405.7L592.6 405.4L593.2 405.1L593.8 404.9L594.4 404.6L595.0 404.3L595.5 404.0L596.1 403.8L596.7 403.5L597.3 403.2L597.8 403.0L598.4 402.7L598.9 402.5L599.5 402.2L600.0 402.0L600.5 401.8L601.1 401.5L601.6 401.3L602.2 401.0L602.8 400.8L603.4 400.5L604.0 400.2L604.6 400.0L605.2 399.7L605.9 399.4L606.5 399.1L607.1 398.9L607.7 398.6L608.3 398.3L608.9 398.1L609.5 397.8L610.1 397.5L610.7 397.3L611.3 397.1L611.8 396.8L612.3 396.6L612.9 396.4L613.3 396.2L613.8 396.0L614.2 395.8L614.7 395.6L615.0 395.4L615.4 395.3L615.7 395.1L616.0 395.0L614.0 390.4L613.7 390.5L613.4 390.7L613.1 390.8L612.7 391.0L612.3 391.2L611.8 391.4L611.4 391.6L610.9 391.8L610.4 392.0L609.8 392.2L609.3 392.5L608.7 392.7L608.1 393.0L607.5 393.2L606.9 393.5L606.3 393.7L605.7 394.0L605.1 394.3L604.5 394.6L603.8 394.8L603.2 395.1L602.6 395.4L602.0 395.6L601.4 395.9L600.8 396.2L600.2 396.4L599.6 396.7L599.0 397.0L598.5 397.2L597.9 397.4L597.4 397.7L596.9 397.9L596.3 398.2L595.7 398.4L595.2 398.7L594.6 399.0L594.0 399.2L593.4 399.5L592.8 399.8L592.3 400.1L591.7 400.3L591.1 400.6L590.5 400.9L589.9 401.1L589.4 401.4L588.8 401.7L588.3 401.9L587.7 402.2L587.2 402.4L586.7 402.7L586.2 402.9L585.8 403.1L585.3 403.3L584.9 403.5L584.5 403.7L584.1 403.9L583.8 404.1L583.4 404.2L583.1 404.3L582.9 404.5Z" fill="#c4c4c4" stroke="none"/>
<path d="M586.1 440.5L586.4 440.4L586.7 440.3L587.0 440.1L587.4 439.9L587.8 439.8L588.2 439.6L588.6 439.4L589.0 439.2L589.5 438.9L590.0 438.7L590.5 438.5L591.0 438.2L591.5 438.0L592.1 437.7L592.6 437.5L593.2 437.2L593.8 436.9L594.3 436.7L594.9 436.4L595.5 436.1L596.1 435.9L596.6 435.6L597.2 435.3L597.8 435.1L598.4 434.8L598.9 434.5L599.5 434.3L600.0 434.0L600.5 433.8L601.1 433.6L601.6 433.3L602.1 433.1L602.7 432.8L603.2 432.6L603.8 432.3L604.4 432.1L605.0 431.8L605.6 431.5L606.2 431.3L606.9 431.0L607.5 430.7L608.1 430.4L608.7 430.2L609.3 429.9L609.9 429.6L610.5 429.4L611.1 429.1L611.7 428.9L612.3 428.6L612.8 428.4L613.3 428.2L613.8 428.0L614.3 427.7L614.8 427.5L615.2 427.3L615.6 427.2L616.0 427.0L616.4 426.8L616.7 426.7L617.0 426.6L613.0 417.4L612.7 417.5L612.4 417.7L612.1 417.8L611.7 418.0L611.3 418.2L610.8 418.4L610.4 418.6L609.9 418.8L609.4 419.0L608.8 419.2L608.3 419.5L607.7 419.7L607.1 420.0L606.5 420.2L605.9 420.5L605.3 420.7L604.7 421.0L604.1 421.3L603.5 421.6L602.8 421.8L602.2 422.1L601.6 422.4L601.0 422.6L600.4 422.9L599.8 423.2L599.2 423.4L598.6 423.7L598.0 424.0L597.5 424.2L596.9 424.4L596.4 424.7L595.9 424.9L595.3 425.2L594.7 425.4L594.2 425.7L593.6 426.0L593.0 426.2L592.4 426.5L591.8 426.8L591.3 427.1L590.7 427.3L590.1 427.6L589.5 427.9L588.9 428.1L588.4 428.4L587.8 428.7L587.3 428.9L586.7 429.2L586.2 429.4L585.7 429.7L585.2 429.9L584.8 430.1L584.3 430.3L583.9 430.5L583.5 430.7L583.1 430.9L582.8 431.1L582.4 431.2L582.1 431.3L581.9 431.5Z" fill="#d2d2d2" stroke="#555" stroke-width="0.8" stroke-linejoin="round"/>
<path d="M584.0 436.0L584.3 435.9L584.6 435.7L584.9 435.6L585.2 435.4L585.6 435.2L586.0 435.0L586.5 434.8L586.9 434.6L587.4 434.4L587.9 434.2L588.4 433.9L588.9 433.7L589.4 433.5L589.9 433.2L590.5 432.9L591.1 432.7L591.6 432.4L592.2 432.1L592.8 431.9L593.4 431.6L594.0 431.3L594.5 431.0L595.1 430.8L595.7 430.5L596.3 430.2L596.8 430.0L597.4 429.7L597.9 429.5L598.5 429.2L599.0 429.0L599.5 428.8L600.1 428.5L600.6 428.3L601.2 428.0L601.8 427.8L602.4 427.5L603.0 427.2L603.6 427.0L604.2 426.7L604.9 426.4L605.5 426.1L606.1 425.9L606.7 425.6L607.3 425.3L607.9 425.1L608.5 424.8L609.1 424.5L609.7 424.3L610.3 424.1L610.8 423.8L611.3 423.6L611.9 423.4L612.3 423.2L612.8 423.0L613.2 422.8L613.7 422.6L614.0 422.4L614.4 422.3L614.7 422.1L615.0 422.0L613.0 417.4L612.7 417.5L612.4 417.7L612.1 417.8L611.7 418.0L611.3 418.2L610.8 418.4L610.4 418.6L609.9 418.8L609.4 419.0L608.8 419.2L608.3 419.5L607.7 419.7L607.1 420.0L606.5 420.2L605.9 420.5L605.3 420.7L604.7 421.0L604.1 421.3L603.5 421.6L602.8 421.8L602.2 422.1L601.6 422.4L601.0 422.6L600.4 422.9L599.8 423.2L599.2 423.4L598.6 423.7L598.0 424.0L597.5 424.2L596.9 424.4L596.4 424.7L595.9 424.9L595.3 425.2L594.7 425.4L594.2 425.7L593.6 426.0L593.0 426.2L592.4 426.5L591.8 426.8L591.3 427.1L590.7 427.3L590.1 427.6L589.5 427.9L588.9 428.1L588.4 428.4L587.8 428.7L587.3 428.9L586.7 429.2L586.2 429.4L585.7 429.7L585.2 429.9L584.8 430.1L584.3 430.3L583.9 430.5L583.5 430.7L583.1 430.9L582.8 431.1L582.4 431.2L582.1 431.3L581.9 431.5Z" fill="#c2c2c2" stroke="none"/>
<path d="M586.1 467.5L586.3 467.4L586.6 467.3L586.8 467.2L587.1 467.1L587.5 466.9L587.8 466.8L588.2 466.6L588.6 466.4L589.0 466.2L589.4 466.0L589.8 465.8L590.3 465.6L590.7 465.4L591.2 465.2L591.7 465.0L592.2 464.8L592.7 464.5L593.2 464.3L593.7 464.1L594.2 463.8L594.7 463.6L595.2 463.4L595.7 463.1L596.2 462.9L596.7 462.7L597.2 462.4L597.7 462.2L598.2 462.0L598.7 461.7L599.2 461.5L599.6 461.3L600.1 461.0L600.6 460.8L601.1 460.6L601.6 460.3L602.2 460.0L602.7 459.8L603.3 459.5L603.8 459.2L604.3 459.0L604.9 458.7L605.4 458.4L606.0 458.1L606.5 457.9L607.1 457.6L607.6 457.3L608.1 457.1L608.6 456.8L609.1 456.6L609.6 456.3L610.1 456.1L610.5 455.9L610.9 455.6L611.3 455.4L611.7 455.2L612.1 455.1L612.4 454.9L612.7 454.7L613.0 454.6L613.2 454.5L608.8 445.5L608.5 445.7L608.2 445.8L607.9 446.0L607.6 446.1L607.2 446.3L606.8 446.5L606.4 446.7L606.0 446.9L605.5 447.2L605.1 447.4L604.6 447.6L604.1 447.9L603.6 448.1L603.1 448.4L602.6 448.7L602.0 448.9L601.5 449.2L601.0 449.5L600.4 449.7L599.9 450.0L599.3 450.3L598.8 450.5L598.3 450.8L597.7 451.1L597.2 451.3L596.7 451.6L596.2 451.8L595.7 452.1L595.3 452.3L594.8 452.5L594.4 452.7L593.9 452.9L593.5 453.1L593.0 453.4L592.5 453.6L592.0 453.8L591.5 454.1L591.0 454.3L590.5 454.5L590.0 454.8L589.5 455.0L589.0 455.2L588.5 455.4L588.0 455.7L587.5 455.9L587.1 456.1L586.6 456.3L586.1 456.5L585.7 456.7L585.3 456.9L584.8 457.1L584.4 457.3L584.1 457.5L583.7 457.6L583.3 457.8L583.0 458.0L582.7 458.1L582.4 458.2L582.1 458.4L581.9 458.5Z" fill="#d0d0d0" stroke="#555" stroke-width="0.8" stroke-linejoin="round"/>
<path d="M584.0 463.0L584.2 462.9L584.5 462.8L584.8 462.6L585.1 462.5L585.4 462.4L585.8 462.2L586.1 462.0L586.5 461.9L586.9 461.7L587.3 461.5L587.8 461.3L588.2 461.1L588.7 460.9L589.1 460.7L589.6 460.4L590.1 460.2L590.6 460.0L591.1 459.8L591.6 459.5L592.1 459.3L592.6 459.1L593.1 458.8L593.6 458.6L594.1 458.4L594.6 458.1L595.1 457.9L595.6 457.7L596.1 457.4L596.5 457.2L597.0 457.0L597.5 456.8L597.9 456.5L598.4 456.3L598.9 456.1L599.4 455.8L600.0 455.6L600.5 455.3L601.0 455.0L601.6 454.8L602.1 454.5L602.7 454.2L603.2 453.9L603.7 453.7L604.3 453.4L604.8 453.1L605.3 452.9L605.9 452.6L606.4 452.3L606.9 452.1L607.3 451.9L607.8 451.6L608.2 451.4L608.7 451.2L609.1 451.0L609.5 450.8L609.8 450.6L610.2 450.4L610.5 450.3L610.8 450.1L611.0 450.0L608.8 445.5L608.5 445.7L608.2 445.8L607.9 446.0L607.6 446.1L607.2 446.3L606.8 446.5L606.4 446.7L606.0 446.9L605.5 447.2L605.1 447.4L604.6 447.6L604.1 447.9L603.6 448.1L603.1 448.4L602.6 448.7L602.0 448.9L601.5 449.2L601.0 449.5L600.4 449.7L599.9 450.0L599.3 450.3L598.8 450.5L598.3 450.8L597.7 451.1L597.2 451.3L596.7 451.6L596.2 451.8L595.7 452.1L595.3 452.3L594.8 452.5L594.4 452.7L593.9 452.9L593.5 453.1L593.0 453.4L592.5 453.6L592.0 453.8L591.5 454.1L591.0 454.3L590.5 454.5L590.0 454.8L589.5 455.0L589.0 455.2L588.5 455.4L588.0 455.7L587.5 455.9L587.1 456.1L586.6 456.3L586.1 456.5L585.7 456.7L585.3 456.9L584.8 457.1L584.4 457.3L584.1 457.5L583.7 457.6L583.3 457.8L583.0 458.0L582.7 458.1L582.4 458.2L582.1 458.4L581.9 458.5Z" fill="#c0c0c0" stroke="none"/>
<path d="M582.2 403.2L582.1 403.3L582.1 403.3L582.1 403.4L582.0 403.5L582.0 403.6L581.9 403.8L581.8 403.9L581.7 404.1L581.6 404.2L581.6 404.4L581.5 404.6L581.4 404.8L581.3 405.0L581.2 405.2L581.1 405.4L581.0 405.6L580.9 405.8L580.8 406.0L580.7 406.3L580.6 406.5L580.5 406.7L580.4 406.9L580.3 407.2L580.3 407.4L580.2 407.7L580.1 407.9L580.1 408.2L580.0 408.4L580.0 408.7L580.0 409.0L580.0 409.3L580.0 409.6L580.1 409.8L580.1 410.1L580.2 410.3L580.3 410.6L580.4 410.8L580.5 411.0L580.6 411.2L580.7 411.4L580.8 411.6L580.9 411.8L581.0 412.0L581.1 412.2L581.2 412.4L581.3 412.5L581.4 412.7L581.5 412.9L581.6 413.0L581.7 413.1L581.8 413.3L581.9 413.4L581.9 413.5L582.0 413.6L582.1 413.7L582.1 413.8L582.2 413.8L582.2 413.9L582.2 413.9L582.2 413.9L585.8 412.1L585.7 411.9L585.6 411.8L585.5 411.7L585.5 411.6L585.4 411.4L585.3 411.3L585.2 411.2L585.1 411.1L585.1 411.0L585.0 410.9L584.9 410.7L584.8 410.6L584.7 410.5L584.6 410.4L584.6 410.2L584.5 410.1L584.4 410.0L584.4 409.9L584.3 409.8L584.2 409.7L584.2 409.6L584.1 409.5L584.1 409.4L584.1 409.3L584.0 409.2L584.0 409.1L584.0 409.1L584.0 409.0L584.0 409.0L584.0 409.0L584.0 409.0L584.0 408.9L584.0 408.9L584.0 408.8L584.1 408.7L584.1 408.6L584.1 408.4L584.2 408.3L584.2 408.1L584.3 408.0L584.4 407.8L584.4 407.6L584.5 407.5L584.6 407.3L584.7 407.1L584.8 406.9L584.9 406.8L584.9 406.6L585.0 406.4L585.1 406.3L585.2 406.1L585.3 405.9L585.4 405.8L585.4 405.6L585.5 405.5L585.6 405.3L585.7 405.2L585.7 405.0L585.8 404.9L585.8 404.8Z" fill="#bcbcbc" stroke="#555" stroke-width="0.8" stroke-linejoin="round"/>
<path d="M582.2 430.2L582.1 430.3L582.1 430.3L582.1 430.4L582.0 430.5L582.0 430.6L581.9 430.8L581.8 430.9L581.7 431.1L581.6 431.2L581.6 431.4L581.5 431.6L581.4 431.8L581.3 432.0L581.2 432.2L581.1 432.4L581.0 432.6L580.9 432.8L580.8 433.0L580.7 433.3L580.6 433.5L580.5 433.7L580.4 433.9L580.3 434.2L580.3 434.4L580.2 434.7L580.1 434.9L580.1 435.2L580.0 435.4L580.0 435.7L580.0 436.0L580.0 436.3L580.0 436.6L580.1 436.8L580.1 437.1L580.2 437.3L580.3 437.6L580.4 437.8L580.5 438.0L580.6 438.2L580.7 438.4L580.8 438.6L580.9 438.8L581.0 439.0L581.1 439.2L581.2 439.4L581.3 439.5L581.4 439.7L581.5 439.9L581.6 440.0L581.7 440.1L581.8 440.3L581.9 440.4L581.9 440.5L582.0 440.6L582.1 440.7L582.1 440.8L582.2 440.8L582.2 440.9L582.2 440.9L582.2 440.9L585.8 439.1L585.7 438.9L585.6 438.8L585.5 438.7L585.5 438.6L585.4 438.4L585.3 438.3L585.2 438.2L585.1 438.1L585.1 438.0L585.0 437.9L584.9 437.7L584.8 437.6L584.7 437.5L584.6 437.4L584.6 437.2L584.5 437.1L584.4 437.0L584.4 436.9L584.3 436.8L584.2 436.7L584.2 436.6L584.1 436.5L584.1 436.4L584.1 436.3L584.0 436.2L584.0 436.1L584.0 436.1L584.0 436.0L584.0 436.0L584.0 436.0L584.0 436.0L584.0 435.9L584.0 435.9L584.0 435.8L584.1 435.7L584.1 435.6L584.1 435.4L584.2 435.3L584.2 435.1L584.3 435.0L584.4 434.8L584.4 434.6L584.5 434.5L584.6 434.3L584.7 434.1L584.8 433.9L584.9 433.8L584.9 433.6L585.0 433.4L585.1 433.3L585.2 433.1L585.3 432.9L585.4 432.8L585.4 432.6L585.5 432.5L585.6 432.3L585.7 432.2L585.7 432.0L585.8 431.9L585.8 431.8Z" fill="#bcbcbc" stroke="#555" stroke-width="0.8" stroke-linejoin="round"/>
<path d="M612.3 402.1L612.4 402.2L612.5 402.3L612.6 402.5L612.7 402.6L612.8 402.8L612.9 402.9L613.0 403.0L613.1 403.2L613.3 403.4L613.4 403.5L613.5 403.7L613.6 403.8L613.7 404.0L613.9 404.2L614.0 404.3L614.1 404.5L614.2 404.7L614.3 404.9L614.4 405.0L614.5 405.2L614.6 405.3L614.7 405.5L614.8 405.6L614.9 405.8L614.9 405.9L614.9 406.0L615.0 406.1L615.0 406.1L615.0 406.2L615.0 406.2L615.0 406.2L615.0 406.2L615.0 406.3L615.0 406.4L615.0 406.5L615.0 406.6L614.9 406.7L614.9 406.8L614.8 407.0L614.8 407.1L614.7 407.3L614.6 407.4L614.6 407.6L614.5 407.7L614.4 407.9L614.3 408.1L614.2 408.2L614.1 408.4L614.1 408.6L614.0 408.7L613.9 408.9L613.8 409.0L613.7 409.2L613.6 409.3L613.5 409.5L613.4 409.6L613.4 409.8L613.3 409.9L613.2 410.1L613.2 410.2L616.8 411.8L616.9 411.7L616.9 411.7L616.9 411.6L617.0 411.5L617.0 411.4L617.1 411.3L617.2 411.2L617.3 411.0L617.3 410.9L617.4 410.7L617.5 410.5L617.6 410.3L617.8 410.1L617.9 409.9L618.0 409.7L618.1 409.5L618.2 409.3L618.3 409.1L618.4 408.8L618.5 408.6L618.6 408.4L618.7 408.1L618.8 407.8L618.8 407.6L618.9 407.3L618.9 407.0L619.0 406.7L619.0 406.4L619.0 406.1L619.0 405.8L618.9 405.5L618.9 405.2L618.8 404.9L618.7 404.6L618.6 404.3L618.5 404.1L618.4 403.8L618.2 403.6L618.1 403.4L618.0 403.1L617.8 402.9L617.7 402.7L617.5 402.5L617.4 402.2L617.3 402.0L617.1 401.8L617.0 401.6L616.8 401.4L616.7 401.3L616.6 401.1L616.4 400.9L616.3 400.8L616.2 400.6L616.1 400.5L616.0 400.3L615.9 400.2L615.8 400.1L615.8 400.0L615.7 400.0L615.7 399.9Z" fill="#bcbcbc" stroke="#555" stroke-width="0.8" stroke-linejoin="round"/>
<path d="M612.3 429.1L612.4 429.2L612.5 429.3L612.6 429.5L612.7 429.6L612.8 429.8L612.9 429.9L613.0 430.0L613.1 430.2L613.3 430.4L613.4 430.5L613.5 430.7L613.6 430.8L613.7 431.0L613.9 431.2L614.0 431.3L614.1 431.5L614.2 431.7L614.3 431.9L614.4 432.0L614.5 432.2L614.6 432.3L614.7 432.5L614.8 432.6L614.9 432.8L614.9 432.9L614.9 433.0L615.0 433.1L615.0 433.1L615.0 433.2L615.0 433.2L615.0 433.2L615.0 433.2L615.0 433.3L615.0 433.4L615.0 433.5L615.0 433.6L614.9 433.7L614.9 433.8L614.8 434.0L614.8 434.1L614.7 434.3L614.6 434.4L614.6 434.6L614.5 434.7L614.4 434.9L614.3 435.1L614.2 435.2L614.1 435.4L614.1 435.6L614.0 435.7L613.9 435.9L613.8 436.0L613.7 436.2L613.6 436.3L613.5 436.5L613.4 436.6L613.4 436.8L613.3 436.9L613.2 437.1L613.2 437.2L616.8 438.8L616.9 438.7L616.9 438.7L616.9 438.6L617.0 438.5L617.0 438.4L617.1 438.3L617.2 438.2L617.3 438.0L617.3 437.9L617.4 437.7L617.5 437.5L617.6 437.3L617.8 437.1L617.9 436.9L618.0 436.7L618.1 436.5L618.2 436.3L618.3 436.1L618.4 435.8L618.5 435.6L618.6 435.4L618.7 435.1L618.8 434.8L618.8 434.6L618.9 434.3L618.9 434.0L619.0 433.7L619.0 433.4L619.0 433.1L619.0 432.8L618.9 432.5L618.9 432.2L618.8 431.9L618.7 431.6L618.6 431.3L618.5 431.1L618.4 430.8L618.2 430.6L618.1 430.4L618.0 430.1L617.8 429.9L617.7 429.7L617.5 429.5L617.4 429.2L617.3 429.0L617.1 428.8L617.0 428.6L616.8 428.4L616.7 428.3L616.6 428.1L616.4 427.9L616.3 427.8L616.2 427.6L616.1 427.5L616.0 427.3L615.9 427.2L615.8 427.1L615.8 427.0L615.7 427.0L615.7 426.9Z" fill="#bcbcbc" stroke="#555" stroke-width="0.8" stroke-linejoin="round"/>
<path d="M604.0 440.0L609.0 438.0L610.0 452.0L606.0 456.0Z" fill="#e8c2b2" stroke="#c09080" stroke-width="0.4" stroke-linejoin="round"/>
<path d="M587.0 467.0C588.5 467.5 592.8 470.2 596.0 470.0C599.2 469.8 604.3 466.7 606.0 466.0" fill="none" stroke="#444" stroke-width="4.5" stroke-linecap="round" stroke-linejoin="round"/>
<path d="M587.0 467.0C588.5 467.5 592.8 470.2 596.0 470.0C599.2 469.8 604.3 466.7 606.0 466.0" fill="none" stroke="#707070" stroke-width="3.4" stroke-linecap="round" stroke-linejoin="round"/>
<path d="M585.0 423.0C582.3 422.2 573.2 417.6 569.0 418.4C564.8 419.2 560.4 424.5 559.6 427.6C558.8 430.7 561.1 434.6 564.2 436.9C567.3 439.2 574.4 441.1 578.0 441.5C581.6 441.9 584.7 439.4 586.0 439.0" fill="none" stroke="#6a6a6a" stroke-width="4.5" stroke-linecap="round" stroke-linejoin="round"/>
<path d="M585.0 423.0C582.3 422.2 573.2 417.6 569.0 418.4C564.8 419.2 560.4 424.5 559.6 427.6C558.8 430.7 561.1 434.6 564.2 436.9C567.3 439.2 574.4 441.1 578.0 441.5C581.6 441.9 584.7 439.4 586.0 439.0" fill="none" stroke="#cdcdcd" stroke-width="3.4" stroke-linecap="round" stroke-linejoin="round"/>
<path d="M585.0 423.0C582.3 422.2 573.2 417.6 569.0 418.4C564.8 419.2 560.4 424.5 559.6 427.6C558.8 430.7 561.1 434.6 564.2 436.9C567.3 439.2 574.4 441.1 578.0 441.5C581.6 441.9 584.7 439.4 586.0 439.0" fill="none" stroke="#ececec" stroke-width="1.2" stroke-linecap="round" stroke-linejoin="round" transform="translate(-0.4,-0.5)"/>
<path d="M574.4 437.9L574.5 438.0L574.6 438.1L574.8 438.2L574.9 438.4L575.1 438.5L575.3 438.6L575.4 438.8L575.6 438.9L575.8 439.1L576.0 439.2L576.2 439.4L576.4 439.6L576.7 439.8L576.9 439.9L577.1 440.1L577.3 440.3L577.6 440.5L577.8 440.7L578.0 440.9L578.3 441.1L578.5 441.3L578.7 441.4L578.9 441.6L579.1 441.8L579.4 442.0L579.6 442.2L579.8 442.4L580.0 442.5L580.1 442.7L580.3 442.8L580.5 443.0L580.7 443.2L580.8 443.3L581.0 443.5L581.2 443.7L581.4 443.9L581.6 444.1L581.8 444.2L582.0 444.4L582.2 444.6L582.3 444.8L582.5 445.0L582.7 445.2L582.9 445.4L583.1 445.6L583.3 445.7L583.4 445.9L583.6 446.1L583.8 446.3L583.9 446.4L584.1 446.6L584.3 446.8L584.4 446.9L584.5 447.1L584.7 447.2L584.8 447.3L584.9 447.4L585.0 447.6L585.1 447.7L585.2 447.8L588.8 444.2L588.7 444.2L588.6 444.1L588.5 444.0L588.4 443.8L588.3 443.7L588.1 443.6L588.0 443.4L587.8 443.3L587.7 443.1L587.5 443.0L587.4 442.8L587.2 442.6L587.0 442.4L586.8 442.3L586.7 442.1L586.5 441.9L586.3 441.7L586.1 441.5L585.9 441.3L585.7 441.1L585.5 440.9L585.3 440.7L585.1 440.5L584.9 440.3L584.7 440.1L584.5 439.9L584.3 439.7L584.1 439.5L583.9 439.3L583.7 439.2L583.5 439.0L583.3 438.8L583.1 438.6L582.8 438.4L582.6 438.2L582.4 438.0L582.2 437.8L581.9 437.6L581.7 437.4L581.5 437.2L581.2 437.0L581.0 436.8L580.7 436.6L580.5 436.4L580.3 436.3L580.0 436.1L579.8 435.9L579.6 435.7L579.4 435.5L579.2 435.4L579.0 435.2L578.8 435.0L578.6 434.9L578.4 434.7L578.2 434.6L578.1 434.5L577.9 434.4L577.8 434.3L577.7 434.2L577.6 434.1Z" fill="#c8c8c8" stroke="#666" stroke-width="0.8" stroke-linejoin="round"/>
<path d="M587.0 468.0C586.3 469.3 583.3 473.5 583.0 476.0C582.7 478.5 586.3 481.2 585.0 483.0C583.7 484.8 577.8 486.5 575.0 487.0C572.2 487.5 569.2 486.2 568.0 486.0" fill="none" stroke="#6a6a6a" stroke-width="4.5" stroke-linecap="round" stroke-linejoin="round"/>
<path d="M587.0 468.0C586.3 469.3 583.3 473.5 583.0 476.0C582.7 478.5 586.3 481.2 585.0 483.0C583.7 484.8 577.8 486.5 575.0 487.0C572.2 487.5 569.2 486.2 568.0 486.0" fill="none" stroke="#cdcdcd" stroke-width="3.4" stroke-linecap="round" stroke-linejoin="round"/>
<path d="M587.0 468.0C586.3 469.3 583.3 473.5 583.0 476.0C582.7 478.5 586.3 481.2 585.0 483.0C583.7 484.8 577.8 486.5 575.0 487.0C572.2 487.5 569.2 486.2 568.0 486.0" fill="none" stroke="#ececec" stroke-width="1.2" stroke-linecap="round" stroke-linejoin="round" transform="translate(-0.4,-0.5)"/>
<path d="M620.0 466.0C621.0 467.0 624.0 471.7 626.0 472.0C628.0 472.3 628.7 468.7 632.0 468.0C635.3 467.3 642.0 468.3 646.0 468.0C650.0 467.7 653.3 467.3 656.0 466.0C658.7 464.7 659.7 460.7 662.0 460.0C664.3 459.3 667.0 462.3 670.0 462.0C673.0 461.7 678.0 460.0 680.0 458.0C682.0 456.0 681.7 451.3 682.0 450.0" fill="none" stroke="#6a6a6a" stroke-width="4.7" stroke-linecap="round" stroke-linejoin="round"/>
<path d="M620.0 466.0C621.0 467.0 624.0 471.7 626.0 472.0C628.0 472.3 628.7 468.7 632.0 468.0C635.3 467.3 642.0 468.3 646.0 468.0C650.0 467.7 653.3 467.3 656.0 466.0C658.7 464.7 659.7 460.7 662.0 460.0C664.3 459.3 667.0 462.3 670.0 462.0C673.0 461.7 678.0 460.0 680.0 458.0C682.0 456.0 681.7 451.3 682.0 450.0" fill="none" stroke="#cdcdcd" stroke-width="3.6" stroke-linecap="round" stroke-linejoin="round"/>
<path d="M620.0 466.0C621.0 467.0 624.0 471.7 626.0 472.0C628.0 472.3 628.7 468.7 632.0 468.0C635.3 467.3 642.0 468.3 646.0 468.0C650.0 467.7 653.3 467.3 656.0 466.0C658.7 464.7 659.7 460.7 662.0 460.0C664.3 459.3 667.0 462.3 670.0 462.0C673.0 461.7 678.0 460.0 680.0 458.0C682.0 456.0 681.7 451.3 682.0 450.0" fill="none" stroke="#ececec" stroke-width="1.3" stroke-linecap="round" stroke-linejoin="round" transform="translate(-0.4,-0.5)"/>
<path d="M611.3 490.7L611.5 490.6L611.7 490.5L611.9 490.4L612.2 490.3L612.4 490.2L612.7 490.0L613.0 489.9L613.3 489.7L613.6 489.6L614.0 489.4L614.3 489.2L614.7 489.1L615.1 488.9L615.4 488.7L615.8 488.5L616.2 488.3L616.6 488.1L617.0 487.9L617.4 487.7L617.8 487.5L618.2 487.3L618.6 487.1L619.0 486.9L619.3 486.7L619.7 486.6L620.1 486.4L620.4 486.2L620.8 486.0L621.1 485.8L621.5 485.6L621.8 485.4L622.1 485.3L622.4 485.1L622.8 484.9L623.1 484.7L623.4 484.5L623.7 484.3L624.1 484.1L624.4 483.9L624.7 483.7L625.0 483.5L625.3 483.3L625.6 483.1L625.9 482.9L626.2 482.7L626.5 482.5L626.8 482.3L627.1 482.2L627.4 482.0L627.6 481.8L627.9 481.6L628.1 481.5L628.4 481.3L628.6 481.2L628.8 481.1L629.0 480.9L629.2 480.8L629.3 480.7L629.5 480.6L629.6 480.5L626.4 475.5L626.3 475.6L626.1 475.7L625.9 475.8L625.7 475.9L625.5 476.0L625.3 476.2L625.1 476.3L624.9 476.5L624.6 476.6L624.4 476.8L624.1 477.0L623.8 477.1L623.6 477.3L623.3 477.5L623.0 477.7L622.7 477.8L622.4 478.0L622.1 478.2L621.8 478.4L621.5 478.6L621.2 478.8L620.9 479.0L620.6 479.2L620.3 479.4L620.0 479.5L619.7 479.7L619.4 479.9L619.1 480.1L618.8 480.2L618.5 480.4L618.3 480.5L617.9 480.7L617.6 480.9L617.3 481.0L617.0 481.2L616.6 481.4L616.2 481.6L615.9 481.8L615.5 482.0L615.1 482.2L614.7 482.4L614.3 482.6L613.9 482.7L613.6 482.9L613.2 483.1L612.8 483.3L612.4 483.5L612.1 483.7L611.7 483.8L611.4 484.0L611.0 484.2L610.7 484.3L610.4 484.5L610.1 484.6L609.8 484.8L609.5 484.9L609.3 485.0L609.1 485.1L608.8 485.2L608.7 485.3Z" fill="#cdcdcd" stroke="#666" stroke-width="0.8" stroke-linejoin="round"/>
<path d="M626.3 486.4L626.5 486.7L626.7 487.1L627.0 487.5L627.2 487.9L627.5 488.3L627.8 488.8L628.0 489.3L628.3 489.8L628.6 490.3L629.0 490.9L629.3 491.4L629.5 491.9L629.8 492.5L630.1 493.0L630.3 493.5L630.5 494.0L630.7 494.5L630.9 494.9L631.0 495.3L631.1 495.6L631.1 495.9L631.2 496.3L631.2 496.7L631.2 497.1L631.2 497.5L631.2 497.9L631.2 498.4L631.1 498.8L631.1 499.2L631.0 499.7L631.0 500.1L630.9 500.6L630.8 501.1L630.7 501.5L630.6 502.0L630.5 502.5L630.4 502.9L630.3 503.4L630.2 503.9L630.1 504.3L630.0 504.7L629.9 505.1L629.8 505.5L629.6 505.9L629.5 506.3L629.3 506.8L629.2 507.2L629.0 507.6L628.8 508.1L628.7 508.5L628.5 508.9L628.3 509.3L628.2 509.7L628.0 510.1L627.8 510.4L627.7 510.7L627.5 511.1L627.4 511.4L627.3 511.7L627.2 511.9L632.8 514.1L632.9 513.9L633.0 513.7L633.1 513.4L633.2 513.1L633.3 512.8L633.5 512.4L633.7 512.1L633.8 511.7L634.0 511.2L634.2 510.8L634.4 510.3L634.6 509.8L634.8 509.3L635.0 508.8L635.2 508.3L635.3 507.8L635.5 507.3L635.7 506.7L635.8 506.2L635.9 505.7L636.0 505.2L636.1 504.7L636.2 504.3L636.4 503.8L636.5 503.3L636.6 502.8L636.7 502.2L636.8 501.7L636.9 501.1L637.0 500.6L637.0 500.0L637.1 499.4L637.2 498.8L637.2 498.2L637.2 497.6L637.2 497.0L637.2 496.3L637.1 495.7L637.1 495.1L636.9 494.4L636.8 493.7L636.6 493.0L636.3 492.4L636.1 491.7L635.8 491.0L635.5 490.4L635.2 489.7L634.8 489.1L634.5 488.5L634.2 487.9L633.8 487.3L633.5 486.8L633.2 486.2L632.9 485.7L632.6 485.2L632.3 484.8L632.1 484.4L631.9 484.1L631.8 483.8L631.7 483.6Z" fill="#cacaca" stroke="#555" stroke-width="0.8" stroke-linejoin="round"/>
<path d="M629.0 485.0L629.1 485.3L629.3 485.6L629.5 486.0L629.8 486.4L630.0 486.8L630.3 487.3L630.6 487.8L630.9 488.3L631.2 488.8L631.6 489.4L631.9 489.9L632.2 490.5L632.5 491.1L632.8 491.7L633.1 492.3L633.3 492.8L633.5 493.4L633.7 494.0L633.9 494.5L634.0 495.0L634.1 495.5L634.2 496.0L634.2 496.5L634.2 497.0L634.2 497.5L634.2 498.1L634.2 498.6L634.1 499.1L634.1 499.6L634.0 500.1L633.9 500.6L633.8 501.1L633.7 501.6L633.6 502.1L633.5 502.6L633.4 503.1L633.3 503.6L633.2 504.1L633.1 504.5L633.0 505.0L632.9 505.5L632.8 505.9L632.6 506.4L632.5 506.9L632.3 507.3L632.2 507.8L632.0 508.3L631.8 508.7L631.6 509.2L631.4 509.6L631.3 510.1L631.1 510.5L630.9 510.9L630.7 511.3L630.6 511.6L630.4 511.9L630.3 512.3L630.2 512.5L630.1 512.8L630.0 513.0L632.8 514.1L632.9 513.9L633.0 513.7L633.1 513.4L633.2 513.1L633.3 512.8L633.5 512.4L633.7 512.1L633.8 511.7L634.0 511.2L634.2 510.8L634.4 510.3L634.6 509.8L634.8 509.3L635.0 508.8L635.2 508.3L635.3 507.8L635.5 507.3L635.7 506.7L635.8 506.2L635.9 505.7L636.0 505.2L636.1 504.7L636.2 504.3L636.4 503.8L636.5 503.3L636.6 502.8L636.7 502.2L636.8 501.7L636.9 501.1L637.0 500.6L637.0 500.0L637.1 499.4L637.2 498.8L637.2 498.2L637.2 497.6L637.2 497.0L637.2 496.3L637.1 495.7L637.1 495.1L636.9 494.4L636.8 493.7L636.6 493.0L636.3 492.4L636.1 491.7L635.8 491.0L635.5 490.4L635.2 489.7L634.8 489.1L634.5 488.5L634.2 487.9L633.8 487.3L633.5 486.8L633.2 486.2L632.9 485.7L632.6 485.2L632.3 484.8L632.1 484.4L631.9 484.1L631.8 483.8L631.7 483.6Z" fill="#b8b8b8" stroke="none"/>
<path d="M637.0 486.0C637.8 487.3 639.5 492.3 642.0 494.0C644.5 495.7 649.0 496.7 652.0 496.0C655.0 495.3 658.5 492.0 660.0 490.0C661.5 488.0 662.3 485.7 661.0 484.0C659.7 482.3 653.5 480.7 652.0 480.0" fill="none" stroke="#6a6a6a" stroke-width="4.5" stroke-linecap="round" stroke-linejoin="round"/>
<path d="M637.0 486.0C637.8 487.3 639.5 492.3 642.0 494.0C644.5 495.7 649.0 496.7 652.0 496.0C655.0 495.3 658.5 492.0 660.0 490.0C661.5 488.0 662.3 485.7 661.0 484.0C659.7 482.3 653.5 480.7 652.0 480.0" fill="none" stroke="#c8c8c8" stroke-width="3.4" stroke-linecap="round" stroke-linejoin="round"/>
<path d="M637.0 486.0C637.8 487.3 639.5 492.3 642.0 494.0C644.5 495.7 649.0 496.7 652.0 496.0C655.0 495.3 658.5 492.0 660.0 490.0C661.5 488.0 662.3 485.7 661.0 484.0C659.7 482.3 653.5 480.7 652.0 480.0" fill="none" stroke="#ececec" stroke-width="1.2" stroke-linecap="round" stroke-linejoin="round" transform="translate(-0.4,-0.5)"/>
<path d="M627.0 468.0C626.5 469.7 623.5 475.0 624.0 478.0C624.5 481.0 627.3 485.7 630.0 486.0C632.7 486.3 637.0 482.7 640.0 480.0C643.0 477.3 646.7 471.7 648.0 470.0" fill="none" stroke="#6a6a6a" stroke-width="4.5" stroke-linecap="round" stroke-linejoin="round"/>
<path d="M627.0 468.0C626.5 469.7 623.5 475.0 624.0 478.0C624.5 481.0 627.3 485.7 630.0 486.0C632.7 486.3 637.0 482.7 640.0 480.0C643.0 477.3 646.7 471.7 648.0 470.0" fill="none" stroke="#d0d0d0" stroke-width="3.4" stroke-linecap="round" stroke-linejoin="round"/>
<path d="M627.0 468.0C626.5 469.7 623.5 475.0 624.0 478.0C624.5 481.0 627.3 485.7 630.0 486.0C632.7 486.3 637.0 482.7 640.0 480.0C643.0 477.3 646.7 471.7 648.0 470.0" fill="none" stroke="#ececec" stroke-width="1.2" stroke-linecap="round" stroke-linejoin="round" transform="translate(-0.4,-0.5)"/>
<path d="M612.0 462.0C611.7 463.3 609.2 467.7 610.0 470.0C610.8 472.3 614.3 475.5 617.0 476.0C619.7 476.5 624.5 473.5 626.0 473.0" fill="none" stroke="#6a6a6a" stroke-width="4.0" stroke-linecap="round" stroke-linejoin="round"/>
<path d="M612.0 462.0C611.7 463.3 609.2 467.7 610.0 470.0C610.8 472.3 614.3 475.5 617.0 476.0C619.7 476.5 624.5 473.5 626.0 473.0" fill="none" stroke="#c8c8c8" stroke-width="2.9" stroke-linecap="round" stroke-linejoin="round"/>
<path d="M612.0 462.0C611.7 463.3 609.2 467.7 610.0 470.0C610.8 472.3 614.3 475.5 617.0 476.0C619.7 476.5 624.5 473.5 626.0 473.0" fill="none" stroke="#ececec" stroke-width="1.0" stroke-linecap="round" stroke-linejoin="round" transform="translate(-0.4,-0.5)"/>
<path d="M644.4 310.2C644.6 311.6 646.4 315.6 645.4 318.3C644.4 321.0 641.2 325.7 638.4 326.4C635.5 327.1 631.3 322.3 628.3 322.3C625.3 322.3 622.4 324.0 620.2 326.4C618.0 328.8 616.2 333.5 615.2 336.5C614.2 339.5 614.4 343.2 614.2 344.5" fill="none" stroke="#6a6a6a" stroke-width="4.2" stroke-linecap="round" stroke-linejoin="round"/>
<path d="M644.4 310.2C644.6 311.6 646.4 315.6 645.4 318.3C644.4 321.0 641.2 325.7 638.4 326.4C635.5 327.1 631.3 322.3 628.3 322.3C625.3 322.3 622.4 324.0 620.2 326.4C618.0 328.8 616.2 333.5 615.2 336.5C614.2 339.5 614.4 343.2 614.2 344.5" fill="none" stroke="#cdcdcd" stroke-width="3.1" stroke-linecap="round" stroke-linejoin="round"/>
<path d="M644.4 310.2C644.6 311.6 646.4 315.6 645.4 318.3C644.4 321.0 641.2 325.7 638.4 326.4C635.5 327.1 631.3 322.3 628.3 322.3C625.3 322.3 622.4 324.0 620.2 326.4C618.0 328.8 616.2 333.5 615.2 336.5C614.2 339.5 614.4 343.2 614.2 344.5" fill="none" stroke="#ececec" stroke-width="1.1" stroke-linecap="round" stroke-linejoin="round" transform="translate(-0.4,-0.5)"/>
<path d="M646.0 311.0C646.2 309.7 646.2 305.5 647.0 303.0C647.8 300.5 650.3 297.2 651.0 296.0" fill="none" stroke="#b08070" stroke-width="4.2" stroke-linecap="round" stroke-linejoin="round"/>
<path d="M646.0 311.0C646.2 309.7 646.2 305.5 647.0 303.0C647.8 300.5 650.3 297.2 651.0 296.0" fill="none" stroke="#e6b4a0" stroke-width="3.1" stroke-linecap="round" stroke-linejoin="round"/>
<path d="M651.0 296.0C651.2 294.7 652.2 290.3 652.0 288.0C651.8 285.7 650.7 282.2 650.0 282.0C649.3 281.8 648.2 284.7 648.0 287.0C647.8 289.3 648.8 294.5 649.0 296.0" fill="none" stroke="#6a6a6a" stroke-width="4.0" stroke-linecap="round" stroke-linejoin="round"/>
<path d="M651.0 296.0C651.2 294.7 652.2 290.3 652.0 288.0C651.8 285.7 650.7 282.2 650.0 282.0C649.3 281.8 648.2 284.7 648.0 287.0C647.8 289.3 648.8 294.5 649.0 296.0" fill="none" stroke="#cdcdcd" stroke-width="2.9" stroke-linecap="round" stroke-linejoin="round"/>
<path d="M651.0 296.0C651.2 294.7 652.2 290.3 652.0 288.0C651.8 285.7 650.7 282.2 650.0 282.0C649.3 281.8 648.2 284.7 648.0 287.0C647.8 289.3 648.8 294.5 649.0 296.0" fill="none" stroke="#ececec" stroke-width="1.0" stroke-linecap="round" stroke-linejoin="round" transform="translate(-0.4,-0.5)"/>
<path d="M652.0 284.0L653.0 294.0" fill="none" stroke="#a8604c" stroke-width="4.0" stroke-linecap="round" stroke-linejoin="round"/>
<path d="M652.0 284.0L653.0 294.0" fill="none" stroke="#dd9a84" stroke-width="2.9" stroke-linecap="round" stroke-linejoin="round"/>
<circle cx="653.5" cy="295.5" r="4.2" fill="url(#sg15)"/>
<path d="M645.4 318.3C646.2 320.0 647.6 327.7 650.5 328.4C653.4 329.1 659.6 323.1 662.6 322.3C665.6 321.5 667.6 323.1 668.6 323.3" fill="none" stroke="#6a6a6a" stroke-width="4.2" stroke-linecap="round" stroke-linejoin="round"/>
<path d="M645.4 318.3C646.2 320.0 647.6 327.7 650.5 328.4C653.4 329.1 659.6 323.1 662.6 322.3C665.6 321.5 667.6 323.1 668.6 323.3" fill="none" stroke="#cdcdcd" stroke-width="3.1" stroke-linecap="round" stroke-linejoin="round"/>
<path d="M645.4 318.3C646.2 320.0 647.6 327.7 650.5 328.4C653.4 329.1 659.6 323.1 662.6 322.3C665.6 321.5 667.6 323.1 668.6 323.3" fill="none" stroke="#ececec" stroke-width="1.1" stroke-linecap="round" stroke-linejoin="round" transform="translate(-0.4,-0.5)"/>
<path d="M633.3 332.4C632.8 333.8 629.4 337.5 630.3 340.5C631.1 343.5 634.0 348.2 638.4 350.6C642.8 353.0 652.8 355.3 656.5 354.6C660.2 353.9 660.1 349.2 660.6 346.5C661.1 343.8 658.9 341.2 659.6 338.5C660.3 335.8 663.8 331.8 664.6 330.4" fill="none" stroke="#6a6a6a" stroke-width="4.2" stroke-linecap="round" stroke-linejoin="round"/>
<path d="M633.3 332.4C632.8 333.8 629.4 337.5 630.3 340.5C631.1 343.5 634.0 348.2 638.4 350.6C642.8 353.0 652.8 355.3 656.5 354.6C660.2 353.9 660.1 349.2 660.6 346.5C661.1 343.8 658.9 341.2 659.6 338.5C660.3 335.8 663.8 331.8 664.6 330.4" fill="none" stroke="#cdcdcd" stroke-width="3.1" stroke-linecap="round" stroke-linejoin="round"/>
<path d="M633.3 332.4C632.8 333.8 629.4 337.5 630.3 340.5C631.1 343.5 634.0 348.2 638.4 350.6C642.8 353.0 652.8 355.3 656.5 354.6C660.2 353.9 660.1 349.2 660.6 346.5C661.1 343.8 658.9 341.2 659.6 338.5C660.3 335.8 663.8 331.8 664.6 330.4" fill="none" stroke="#ececec" stroke-width="1.1" stroke-linecap="round" stroke-linejoin="round" transform="translate(-0.4,-0.5)"/>
<path d="M671.0 336.0C671.2 337.3 671.2 341.7 672.0 344.0C672.8 346.3 675.3 349.0 676.0 350.0" fill="none" stroke="#6a6a6a" stroke-width="4.2" stroke-linecap="round" stroke-linejoin="round"/>
<path d="M671.0 336.0C671.2 337.3 671.2 341.7 672.0 344.0C672.8 346.3 675.3 349.0 676.0 350.0" fill="none" stroke="#cdcdcd" stroke-width="3.1" stroke-linecap="round" stroke-linejoin="round"/>
<path d="M671.0 336.0C671.2 337.3 671.2 341.7 672.0 344.0C672.8 346.3 675.3 349.0 676.0 350.0" fill="none" stroke="#ececec" stroke-width="1.1" stroke-linecap="round" stroke-linejoin="round" transform="translate(-0.4,-0.5)"/>
<path d="M630.0 364.0C631.4 363.4 635.0 361.8 638.4 360.6C641.8 359.4 645.8 357.6 650.5 356.6C655.2 355.6 661.9 354.6 666.6 354.6C671.3 354.6 675.7 354.9 678.7 356.6C681.7 358.3 683.4 361.7 684.8 364.7C686.1 367.7 686.9 372.2 686.8 374.8C686.7 377.4 684.5 379.1 684.0 380.0" fill="none" stroke="#6a6a6a" stroke-width="4.7" stroke-linecap="round" stroke-linejoin="round"/>
<path d="M630.0 364.0C631.4 363.4 635.0 361.8 638.4 360.6C641.8 359.4 645.8 357.6 650.5 356.6C655.2 355.6 661.9 354.6 666.6 354.6C671.3 354.6 675.7 354.9 678.7 356.6C681.7 358.3 683.4 361.7 684.8 364.7C686.1 367.7 686.9 372.2 686.8 374.8C686.7 377.4 684.5 379.1 684.0 380.0" fill="none" stroke="#c6c6c6" stroke-width="3.6" stroke-linecap="round" stroke-linejoin="round"/>
<path d="M630.0 364.0C631.4 363.4 635.0 361.8 638.4 360.6C641.8 359.4 645.8 357.6 650.5 356.6C655.2 355.6 661.9 354.6 666.6 354.6C671.3 354.6 675.7 354.9 678.7 356.6C681.7 358.3 683.4 361.7 684.8 364.7C686.1 367.7 686.9 372.2 686.8 374.8C686.7 377.4 684.5 379.1 684.0 380.0" fill="none" stroke="#ececec" stroke-width="1.3" stroke-linecap="round" stroke-linejoin="round" transform="translate(-0.4,-0.5)"/>
<path d="M684.0 337.0C685.7 336.6 689.8 334.9 694.0 334.5C698.2 334.1 706.5 334.5 709.0 334.5" fill="none" stroke="#444" stroke-width="5.6" stroke-linecap="round" stroke-linejoin="round"/>
<path d="M684.0 337.0C685.7 336.6 689.8 334.9 694.0 334.5C698.2 334.1 706.5 334.5 709.0 334.5" fill="none" stroke="#6a6a6a" stroke-width="4.5" stroke-linecap="round" stroke-linejoin="round"/>
<path d="M629.0 364.0C630.6 364.8 634.4 369.0 638.5 368.5C642.6 368.0 647.4 362.2 653.8 361.0C660.2 359.8 671.9 360.1 677.0 361.0C682.1 361.9 683.3 363.7 684.6 366.5C685.9 369.3 685.9 373.8 684.6 378.0C683.3 382.2 678.3 389.2 677.0 391.5" fill="none" stroke="#6a6a6a" stroke-width="4.5" stroke-linecap="round" stroke-linejoin="round"/>
<path d="M629.0 364.0C630.6 364.8 634.4 369.0 638.5 368.5C642.6 368.0 647.4 362.2 653.8 361.0C660.2 359.8 671.9 360.1 677.0 361.0C682.1 361.9 683.3 363.7 684.6 366.5C685.9 369.3 685.9 373.8 684.6 378.0C683.3 382.2 678.3 389.2 677.0 391.5" fill="none" stroke="#c9c9c9" stroke-width="3.4" stroke-linecap="round" stroke-linejoin="round"/>
<path d="M629.0 364.0C630.6 364.8 634.4 369.0 638.5 368.5C642.6 368.0 647.4 362.2 653.8 361.0C660.2 359.8 671.9 360.1 677.0 361.0C682.1 361.9 683.3 363.7 684.6 366.5C685.9 369.3 685.9 373.8 684.6 378.0C683.3 382.2 678.3 389.2 677.0 391.5" fill="none" stroke="#ececec" stroke-width="1.2" stroke-linecap="round" stroke-linejoin="round" transform="translate(-0.4,-0.5)"/>
<path d="M677.1 350.6C678.4 352.3 682.2 359.1 684.8 360.6C687.4 362.1 690.5 361.0 692.9 359.6C695.3 358.2 698.3 354.5 699.0 352.0C699.7 349.5 695.4 346.9 696.9 344.5C698.4 342.1 706.1 338.7 708.0 337.5" fill="none" stroke="#15266e" stroke-width="5.1" stroke-linecap="round" stroke-linejoin="round"/>
<path d="M677.1 350.6C678.4 352.3 682.2 359.1 684.8 360.6C687.4 362.1 690.5 361.0 692.9 359.6C695.3 358.2 698.3 354.5 699.0 352.0C699.7 349.5 695.4 346.9 696.9 344.5C698.4 342.1 706.1 338.7 708.0 337.5" fill="none" stroke="#2a44b0" stroke-width="4.0" stroke-linecap="round" stroke-linejoin="round"/>
<circle cx="677.1" cy="350.6" r="4.9" fill="url(#sg16)"/>
<circle cx="696.9" cy="344.5" r="5.0" fill="url(#sg17)"/>
<circle cx="707.9" cy="337.5" r="4.4" fill="url(#sg18)"/>
<path d="M629.0 363.0C627.1 365.5 619.6 372.8 617.5 378.0C615.4 383.2 616.7 391.3 616.5 394.0" fill="none" stroke="#15266e" stroke-width="6.1" stroke-linecap="round" stroke-linejoin="round"/>
<path d="M629.0 363.0C627.1 365.5 619.6 372.8 617.5 378.0C615.4 383.2 616.7 391.3 616.5 394.0" fill="none" stroke="#2a44b0" stroke-width="5.0" stroke-linecap="round" stroke-linejoin="round"/>
<circle cx="628.6" cy="363.2" r="5.0" fill="url(#sg19)"/>
<circle cx="617.5" cy="378.3" r="5.0" fill="url(#sg20)"/>
<circle cx="670.2" cy="329.4" r="8.1" fill="url(#sg21)"/>
<text x="552.4" y="280.4" font-size="19" font-weight="bold" font-style="normal" fill="#111" font-family="Liberation Sans, sans-serif" textLength="36.4" lengthAdjust="spacingAndGlyphs">C2B</text>
<text x="602.8" y="305.8" font-size="14.2" font-weight="normal" font-style="italic" fill="#111" font-family="Liberation Sans, sans-serif" textLength="37.2" lengthAdjust="spacingAndGlyphs">loop 1</text>
<text x="674.6" y="320.5" font-size="14" font-weight="bold" font-style="normal" fill="#8c4623" font-family="Liberation Sans, sans-serif" textLength="23.4" lengthAdjust="spacingAndGlyphs">Pb1</text>
<text x="698.6" y="353.6" font-size="14.2" font-weight="normal" font-style="italic" fill="#111" font-family="Liberation Sans, sans-serif" textLength="38.6" lengthAdjust="spacingAndGlyphs">loop 3</text>
<text x="686.0" y="434.4" font-size="14" font-weight="normal" font-style="normal" fill="#111" font-family="Liberation Sans, sans-serif" >LRC</text>
<rect x="701.9" y="209.9" width="11.6" height="86.4" fill="url(#cbar)" stroke="#333" stroke-width="0.9"/>
<text x="718.5" y="217.7" font-size="14" font-weight="normal" font-style="normal" fill="#111" font-family="Liberation Sans, sans-serif" >&#8804; -6</text>
<text x="716.5" y="236.7" font-size="14" font-weight="normal" font-style="normal" fill="#111" font-family="Liberation Sans, sans-serif" >-3</text>
<text x="720.5" y="259.2" font-size="14" font-weight="normal" font-style="normal" fill="#111" font-family="Liberation Sans, sans-serif" >0</text>
<text x="720.5" y="280.8" font-size="14" font-weight="normal" font-style="normal" fill="#111" font-family="Liberation Sans, sans-serif" >3</text>
<text x="718.5" y="297.5" font-size="14" font-weight="normal" font-style="normal" fill="#111" font-family="Liberation Sans, sans-serif" >&#8805; 6</text>
<g font-family="Liberation Sans, sans-serif" fill="#111">
<text transform="translate(692.2,0) rotate(-90)" x="-301" y="0" font-size="16" textLength="21" lengthAdjust="spacingAndGlyphs">&#916;R</text>
<text transform="translate(692.2,0) rotate(-90)" x="-280" y="3.6" font-size="11" textLength="12" lengthAdjust="spacingAndGlyphs">2,</text>
<text transform="translate(692.2,0) rotate(-90)" x="-264" y="3.6" font-size="9.5" textLength="25.5" lengthAdjust="spacingAndGlyphs">CPMG</text>
<text transform="translate(692.2,0) rotate(-90)" x="-234.4" y="0" font-size="16" textLength="16" lengthAdjust="spacingAndGlyphs">(s</text>
<text transform="translate(692.2,0) rotate(-90)" x="-218" y="-6" font-size="11" textLength="8" lengthAdjust="spacingAndGlyphs">-1</text>
<text transform="translate(692.2,0) rotate(-90)" x="-209" y="0" font-size="16" textLength="6" lengthAdjust="spacingAndGlyphs">)</text>
</g>
</svg>
</body></html>
